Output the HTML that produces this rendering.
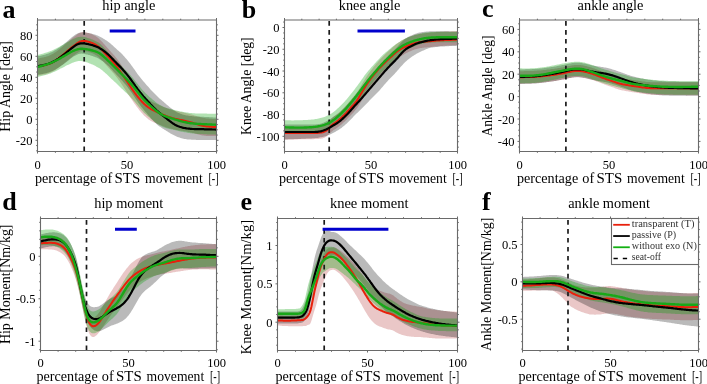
<!DOCTYPE html>
<html><head><meta charset="utf-8"><title>STS figure</title><style>html,body{margin:0;padding:0;background:#fff;width:707px;height:384px;overflow:hidden}</style></head><body>
<svg width="707" height="384" viewBox="0 0 707 384" style="display:block;font-family:'Liberation Serif',serif;will-change:transform" fill="#000">
<rect width="707" height="384" fill="#fff"/>
<clipPath id="clipa"><rect x="37.50" y="20.00" width="179.00" height="131.50"/></clipPath>
<g clip-path="url(#clipa)">
<path d="M37.5,58.6 38.5,58.4 39.5,58.2 40.5,58.0 41.5,57.8 42.5,57.6 43.5,57.4 44.5,57.1 45.5,56.9 46.5,56.6 47.5,56.2 48.5,55.9 49.5,55.5 50.5,55.0 51.5,54.5 52.5,54.0 53.5,53.4 54.5,52.8 55.5,52.2 56.5,51.5 57.5,50.7 58.5,50.0 59.5,49.2 60.5,48.3 61.5,47.5 62.5,46.7 63.5,45.8 64.5,44.9 65.5,44.1 66.5,43.2 67.5,42.3 68.5,41.4 69.5,40.6 70.5,39.7 71.5,38.9 72.5,38.1 73.5,37.2 74.5,36.4 75.5,35.7 76.5,34.9 77.5,34.1 78.5,33.5 79.5,32.9 80.5,32.5 81.5,32.2 82.5,32.0 83.5,32.0 84.5,32.0 85.5,32.2 86.5,32.4 87.5,32.7 88.5,32.9 89.5,33.3 90.5,33.6 91.5,34.0 92.5,34.5 93.5,34.9 94.5,35.5 95.5,36.1 96.5,36.8 97.5,37.5 98.5,38.3 99.5,39.2 100.5,40.2 101.5,41.2 102.5,42.3 103.5,43.4 104.5,44.6 105.5,45.7 106.5,46.8 107.5,48.0 108.5,49.1 109.5,50.2 110.5,51.3 111.5,52.4 112.5,53.5 113.5,54.7 114.5,55.8 115.5,57.0 116.5,58.3 117.5,59.6 118.5,60.9 119.5,62.3 120.5,63.7 121.5,65.2 122.5,66.7 123.5,68.2 124.5,69.7 125.5,71.2 126.5,72.8 127.5,74.3 128.5,75.8 129.5,77.3 130.5,78.8 131.5,80.3 132.5,81.7 133.5,83.1 134.5,84.5 135.5,85.8 136.5,87.2 137.5,88.5 138.5,89.7 139.5,90.9 140.5,92.1 141.5,93.2 142.5,94.2 143.5,95.2 144.5,96.2 145.5,97.1 146.5,97.9 147.5,98.7 148.5,99.5 149.5,100.1 150.5,100.8 151.5,101.4 152.5,101.9 153.5,102.4 154.5,102.9 155.5,103.3 156.5,103.8 157.5,104.3 158.5,104.7 159.5,105.2 160.5,105.6 161.5,106.1 162.5,106.5 163.5,106.9 164.5,107.3 165.5,107.7 166.5,108.1 167.5,108.5 168.5,108.8 169.5,109.2 170.5,109.5 171.5,109.8 172.5,110.1 173.5,110.4 174.5,110.6 175.5,110.9 176.5,111.1 177.5,111.3 178.5,111.5 179.5,111.7 180.5,111.9 181.5,112.1 182.5,112.3 183.5,112.5 184.5,112.7 185.5,112.9 186.5,113.2 187.5,113.4 188.5,113.7 189.5,113.9 190.5,114.2 191.5,114.5 192.5,114.8 193.5,115.1 194.5,115.4 195.5,115.7 196.5,116.1 197.5,116.4 198.5,116.7 199.5,117.0 200.5,117.3 201.5,117.5 202.5,117.8 203.5,118.0 204.5,118.1 205.5,118.3 206.5,118.4 207.5,118.5 208.5,118.6 209.5,118.7 210.5,118.8 211.5,118.8 212.5,118.9 213.5,118.9 214.5,119.0 215.5,119.0 216.5,119.0 L216.5,136.0 215.5,136.0 214.5,136.0 213.5,136.1 212.5,136.1 211.5,136.1 210.5,136.1 209.5,136.0 208.5,136.0 207.5,135.9 206.5,135.9 205.5,135.8 204.5,135.7 203.5,135.5 202.5,135.4 201.5,135.2 200.5,135.0 199.5,134.8 198.5,134.5 197.5,134.2 196.5,134.0 195.5,133.7 194.5,133.4 193.5,133.1 192.5,132.9 191.5,132.6 190.5,132.4 189.5,132.1 188.5,131.9 187.5,131.7 186.5,131.5 185.5,131.3 184.5,131.2 183.5,131.0 182.5,130.8 181.5,130.7 180.5,130.5 179.5,130.4 178.5,130.2 177.5,130.1 176.5,129.9 175.5,129.7 174.5,129.5 173.5,129.3 172.5,129.1 171.5,128.8 170.5,128.6 169.5,128.3 168.5,128.0 167.5,127.7 166.5,127.4 165.5,127.0 164.5,126.7 163.5,126.3 162.5,125.9 161.5,125.5 160.5,125.1 159.5,124.7 158.5,124.3 157.5,123.9 156.5,123.5 155.5,123.1 154.5,122.7 153.5,122.2 152.5,121.8 151.5,121.3 150.5,120.8 149.5,120.1 148.5,119.4 147.5,118.6 146.5,117.7 145.5,116.8 144.5,115.9 143.5,114.9 142.5,113.8 141.5,112.7 140.5,111.6 139.5,110.4 138.5,109.1 137.5,107.8 136.5,106.5 135.5,105.1 134.5,103.7 133.5,102.3 132.5,100.8 131.5,99.3 130.5,97.8 129.5,96.3 128.5,94.7 127.5,93.2 126.5,91.7 125.5,90.1 124.5,88.6 123.5,87.1 122.5,85.5 121.5,84.0 120.5,82.5 119.5,81.1 118.5,79.7 117.5,78.3 116.5,77.0 115.5,75.7 114.5,74.5 113.5,73.3 112.5,72.2 111.5,71.0 110.5,69.9 109.5,68.8 108.5,67.7 107.5,66.6 106.5,65.4 105.5,64.3 104.5,63.2 103.5,62.1 102.5,61.0 101.5,59.9 100.5,58.9 99.5,58.0 98.5,57.1 97.5,56.3 96.5,55.6 95.5,54.9 94.5,54.3 93.5,53.8 92.5,53.3 91.5,52.9 90.5,52.5 89.5,52.2 88.5,51.9 87.5,51.6 86.5,51.4 85.5,51.2 84.5,51.0 83.5,50.9 82.5,50.9 81.5,51.1 80.5,51.3 79.5,51.7 78.5,52.2 77.5,52.9 76.5,53.6 75.5,54.3 74.5,55.0 73.5,55.8 72.5,56.6 71.5,57.4 70.5,58.1 69.5,59.0 68.5,59.8 67.5,60.6 66.5,61.4 65.5,62.3 64.5,63.1 63.5,63.9 62.5,64.7 61.5,65.5 60.5,66.3 59.5,67.1 58.5,67.9 57.5,68.6 56.5,69.3 55.5,69.9 54.5,70.5 53.5,71.1 52.5,71.7 51.5,72.1 50.5,72.6 49.5,73.0 48.5,73.3 47.5,73.6 46.5,73.9 45.5,74.2 44.5,74.4 43.5,74.6 42.5,74.8 41.5,75.0 40.5,75.2 39.5,75.3 38.5,75.5 37.5,75.6 Z" fill="#a00000" fill-opacity="0.220" stroke="none"/>
<path d="M37.5,56.3 38.5,56.1 39.5,55.9 40.5,55.7 41.5,55.4 42.5,55.2 43.5,54.9 44.5,54.7 45.5,54.4 46.5,54.1 47.5,53.8 48.5,53.4 49.5,53.0 50.5,52.6 51.5,52.2 52.5,51.7 53.5,51.2 54.5,50.6 55.5,50.1 56.5,49.4 57.5,48.8 58.5,48.1 59.5,47.4 60.5,46.7 61.5,45.9 62.5,45.2 63.5,44.4 64.5,43.6 65.5,42.7 66.5,41.9 67.5,41.1 68.5,40.2 69.5,39.3 70.5,38.5 71.5,37.6 72.5,36.8 73.5,36.0 74.5,35.3 75.5,34.6 76.5,34.0 77.5,33.5 78.5,33.0 79.5,32.7 80.5,32.5 81.5,32.4 82.5,32.3 83.5,32.4 84.5,32.5 85.5,32.6 86.5,32.7 87.5,32.9 88.5,33.0 89.5,33.2 90.5,33.4 91.5,33.6 92.5,33.9 93.5,34.2 94.5,34.5 95.5,34.8 96.5,35.2 97.5,35.5 98.5,36.0 99.5,36.4 100.5,36.9 101.5,37.5 102.5,38.0 103.5,38.7 104.5,39.3 105.5,39.9 106.5,40.5 107.5,41.2 108.5,42.0 109.5,42.7 110.5,43.6 111.5,44.4 112.5,45.3 113.5,46.2 114.5,47.2 115.5,48.1 116.5,49.0 117.5,49.9 118.5,50.8 119.5,51.7 120.5,52.6 121.5,53.6 122.5,54.6 123.5,55.7 124.5,56.8 125.5,57.9 126.5,59.1 127.5,60.3 128.5,61.5 129.5,62.7 130.5,64.0 131.5,65.4 132.5,66.8 133.5,68.2 134.5,69.6 135.5,71.1 136.5,72.5 137.5,73.9 138.5,75.2 139.5,76.5 140.5,77.8 141.5,79.0 142.5,80.2 143.5,81.4 144.5,82.5 145.5,83.7 146.5,84.9 147.5,86.0 148.5,87.1 149.5,88.3 150.5,89.4 151.5,90.5 152.5,91.5 153.5,92.5 154.5,93.6 155.5,94.6 156.5,95.5 157.5,96.5 158.5,97.4 159.5,98.4 160.5,99.3 161.5,100.1 162.5,101.0 163.5,101.8 164.5,102.7 165.5,103.5 166.5,104.4 167.5,105.2 168.5,106.0 169.5,106.9 170.5,107.7 171.5,108.5 172.5,109.3 173.5,110.0 174.5,110.7 175.5,111.3 176.5,111.9 177.5,112.4 178.5,112.9 179.5,113.3 180.5,113.7 181.5,114.1 182.5,114.4 183.5,114.7 184.5,115.0 185.5,115.2 186.5,115.4 187.5,115.6 188.5,115.7 189.5,115.9 190.5,116.0 191.5,116.1 192.5,116.2 193.5,116.3 194.5,116.4 195.5,116.4 196.5,116.5 197.5,116.5 198.5,116.6 199.5,116.6 200.5,116.7 201.5,116.7 202.5,116.8 203.5,116.8 204.5,116.9 205.5,116.9 206.5,117.0 207.5,117.0 208.5,117.1 209.5,117.2 210.5,117.2 211.5,117.3 212.5,117.3 213.5,117.4 214.5,117.5 215.5,117.5 216.5,117.6 L216.5,140.1 215.5,140.1 214.5,140.1 213.5,140.0 212.5,140.0 211.5,140.0 210.5,140.0 209.5,140.0 208.5,140.0 207.5,139.9 206.5,139.9 205.5,139.9 204.5,139.9 203.5,139.9 202.5,139.9 201.5,139.9 200.5,139.9 199.5,139.9 198.5,139.9 197.5,139.9 196.5,139.9 195.5,139.8 194.5,139.8 193.5,139.8 192.5,139.8 191.5,139.7 190.5,139.6 189.5,139.6 188.5,139.5 187.5,139.4 186.5,139.2 185.5,139.1 184.5,138.9 183.5,138.7 182.5,138.5 181.5,138.2 180.5,138.0 179.5,137.6 178.5,137.3 177.5,136.9 176.5,136.4 175.5,135.9 174.5,135.5 173.5,135.0 172.5,134.5 171.5,134.0 170.5,133.4 169.5,132.8 168.5,132.2 167.5,131.6 166.5,130.9 165.5,130.3 164.5,129.7 163.5,129.1 162.5,128.5 161.5,127.8 160.5,127.1 159.5,126.5 158.5,125.7 157.5,125.0 156.5,124.1 155.5,123.1 154.5,122.1 153.5,121.0 152.5,120.0 151.5,118.9 150.5,117.7 149.5,116.6 148.5,115.4 147.5,114.3 146.5,113.1 145.5,111.9 144.5,110.7 143.5,109.5 142.5,108.2 141.5,107.0 140.5,105.7 139.5,104.3 138.5,102.9 137.5,101.5 136.5,100.1 135.5,98.6 134.5,97.1 133.5,95.6 132.5,94.1 131.5,92.6 130.5,91.2 129.5,89.8 128.5,88.4 127.5,87.1 126.5,85.8 125.5,84.6 124.5,83.4 123.5,82.2 122.5,81.1 121.5,80.0 120.5,78.9 119.5,77.8 118.5,76.8 117.5,75.7 116.5,74.7 115.5,73.6 114.5,72.5 113.5,71.4 112.5,70.3 111.5,69.2 110.5,68.2 109.5,67.1 108.5,66.1 107.5,65.2 106.5,64.3 105.5,63.4 104.5,62.6 103.5,61.8 102.5,61.1 101.5,60.4 100.5,59.8 99.5,59.2 98.5,58.6 97.5,58.1 96.5,57.6 95.5,57.2 94.5,56.8 93.5,56.4 92.5,56.0 91.5,55.7 90.5,55.4 89.5,55.1 88.5,54.9 87.5,54.6 86.5,54.4 85.5,54.2 84.5,54.0 83.5,53.8 82.5,53.7 81.5,53.6 80.5,53.7 79.5,53.8 78.5,54.1 77.5,54.4 76.5,54.9 75.5,55.4 74.5,56.0 73.5,56.6 72.5,57.3 71.5,58.1 70.5,58.8 69.5,59.6 68.5,60.4 67.5,61.2 66.5,61.9 65.5,62.7 64.5,63.4 63.5,64.2 62.5,64.9 61.5,65.6 60.5,66.2 59.5,66.9 58.5,67.5 57.5,68.2 56.5,68.8 55.5,69.4 54.5,69.9 53.5,70.4 52.5,70.9 51.5,71.3 50.5,71.7 49.5,72.1 48.5,72.4 47.5,72.7 46.5,73.0 45.5,73.2 44.5,73.5 43.5,73.7 42.5,73.9 41.5,74.1 40.5,74.3 39.5,74.5 38.5,74.6 37.5,74.8 Z" fill="#000000" fill-opacity="0.270" stroke="none"/>
<path d="M37.5,55.0 38.5,54.7 39.5,54.5 40.5,54.2 41.5,54.0 42.5,53.7 43.5,53.4 44.5,53.1 45.5,52.8 46.5,52.5 47.5,52.2 48.5,51.8 49.5,51.4 50.5,51.1 51.5,50.7 52.5,50.2 53.5,49.8 54.5,49.3 55.5,48.8 56.5,48.3 57.5,47.8 58.5,47.2 59.5,46.7 60.5,46.1 61.5,45.5 62.5,45.0 63.5,44.4 64.5,43.8 65.5,43.2 66.5,42.6 67.5,42.0 68.5,41.4 69.5,40.9 70.5,40.3 71.5,39.8 72.5,39.3 73.5,38.8 74.5,38.4 75.5,38.0 76.5,37.6 77.5,37.3 78.5,37.1 79.5,36.9 80.5,36.8 81.5,36.8 82.5,36.8 83.5,36.9 84.5,37.0 85.5,37.3 86.5,37.6 87.5,37.9 88.5,38.2 89.5,38.5 90.5,38.8 91.5,39.2 92.5,39.6 93.5,40.0 94.5,40.4 95.5,40.9 96.5,41.4 97.5,41.9 98.5,42.6 99.5,43.3 100.5,44.1 101.5,45.0 102.5,46.0 103.5,47.1 104.5,48.2 105.5,49.3 106.5,50.4 107.5,51.6 108.5,52.7 109.5,53.9 110.5,54.9 111.5,55.9 112.5,56.9 113.5,57.8 114.5,58.8 115.5,59.8 116.5,60.8 117.5,61.9 118.5,62.9 119.5,63.9 120.5,65.0 121.5,66.0 122.5,67.0 123.5,68.0 124.5,69.0 125.5,70.0 126.5,71.0 127.5,72.1 128.5,73.1 129.5,74.2 130.5,75.3 131.5,76.5 132.5,77.6 133.5,78.8 134.5,80.0 135.5,81.2 136.5,82.5 137.5,83.8 138.5,85.1 139.5,86.3 140.5,87.6 141.5,88.8 142.5,89.9 143.5,91.1 144.5,92.1 145.5,93.2 146.5,94.1 147.5,95.1 148.5,96.0 149.5,96.9 150.5,97.7 151.5,98.6 152.5,99.4 153.5,100.3 154.5,101.1 155.5,101.9 156.5,102.7 157.5,103.4 158.5,104.1 159.5,104.7 160.5,105.3 161.5,105.8 162.5,106.3 163.5,106.8 164.5,107.2 165.5,107.6 166.5,107.9 167.5,108.2 168.5,108.5 169.5,108.7 170.5,109.0 171.5,109.2 172.5,109.5 173.5,109.7 174.5,110.0 175.5,110.2 176.5,110.5 177.5,110.7 178.5,111.0 179.5,111.2 180.5,111.4 181.5,111.6 182.5,111.8 183.5,112.0 184.5,112.2 185.5,112.3 186.5,112.5 187.5,112.6 188.5,112.8 189.5,112.9 190.5,113.0 191.5,113.1 192.5,113.2 193.5,113.2 194.5,113.3 195.5,113.4 196.5,113.4 197.5,113.5 198.5,113.5 199.5,113.5 200.5,113.5 201.5,113.6 202.5,113.6 203.5,113.6 204.5,113.6 205.5,113.6 206.5,113.6 207.5,113.7 208.5,113.7 209.5,113.7 210.5,113.7 211.5,113.7 212.5,113.7 213.5,113.7 214.5,113.7 215.5,113.7 216.5,113.7 L216.5,134.7 215.5,134.7 214.5,134.6 213.5,134.6 212.5,134.6 211.5,134.5 210.5,134.5 209.5,134.4 208.5,134.4 207.5,134.4 206.5,134.3 205.5,134.3 204.5,134.2 203.5,134.2 202.5,134.1 201.5,134.1 200.5,134.0 199.5,134.0 198.5,133.9 197.5,133.9 196.5,133.8 195.5,133.7 194.5,133.6 193.5,133.5 192.5,133.4 191.5,133.3 190.5,133.2 189.5,133.0 188.5,132.9 187.5,132.7 186.5,132.5 185.5,132.3 184.5,132.2 183.5,132.0 182.5,131.8 181.5,131.7 180.5,131.5 179.5,131.3 178.5,131.0 177.5,130.8 176.5,130.6 175.5,130.3 174.5,130.1 173.5,129.9 172.5,129.6 171.5,129.4 170.5,129.2 169.5,128.9 168.5,128.7 167.5,128.5 166.5,128.2 165.5,127.9 164.5,127.6 163.5,127.2 162.5,126.8 161.5,126.3 160.5,125.8 159.5,125.2 158.5,124.6 157.5,123.9 156.5,123.2 155.5,122.5 154.5,121.7 153.5,120.9 152.5,120.1 151.5,119.2 150.5,118.4 149.5,117.6 148.5,116.7 147.5,115.9 146.5,115.0 145.5,114.1 144.5,113.2 143.5,112.2 142.5,111.1 141.5,110.0 140.5,108.8 139.5,107.7 138.5,106.4 137.5,105.2 136.5,104.0 135.5,102.8 134.5,101.6 133.5,100.5 132.5,99.3 131.5,98.2 130.5,97.2 129.5,96.1 128.5,95.1 127.5,94.1 126.5,93.1 125.5,92.2 124.5,91.2 123.5,90.3 122.5,89.3 121.5,88.4 120.5,87.4 119.5,86.5 118.5,85.5 117.5,84.5 116.5,83.6 115.5,82.6 114.5,81.7 113.5,80.8 112.5,79.8 111.5,78.9 110.5,77.9 109.5,77.0 108.5,76.0 107.5,75.1 106.5,74.1 105.5,73.2 104.5,72.3 103.5,71.4 102.5,70.5 101.5,69.7 100.5,69.0 99.5,68.3 98.5,67.8 97.5,67.3 96.5,66.7 95.5,66.1 94.5,65.6 93.5,65.1 92.5,64.6 91.5,64.2 90.5,63.8 89.5,63.4 88.5,63.0 87.5,62.6 86.5,62.2 85.5,61.9 84.5,61.6 83.5,61.3 82.5,61.2 81.5,61.1 80.5,61.0 79.5,61.0 78.5,61.1 77.5,61.3 76.5,61.5 75.5,61.8 74.5,62.1 73.5,62.4 72.5,62.8 71.5,63.3 70.5,63.7 69.5,64.2 68.5,64.7 67.5,65.1 66.5,65.6 65.5,66.1 64.5,66.7 63.5,67.2 62.5,67.7 61.5,68.2 60.5,68.6 59.5,69.2 58.5,69.7 57.5,70.2 56.5,70.7 55.5,71.2 54.5,71.7 53.5,72.1 52.5,72.6 51.5,73.0 50.5,73.4 49.5,73.7 48.5,74.1 47.5,74.4 46.5,74.7 45.5,75.0 44.5,75.3 43.5,75.5 42.5,75.8 41.5,76.0 40.5,76.3 39.5,76.5 38.5,76.8 37.5,77.0 Z" fill="#00a000" fill-opacity="0.300" stroke="none"/>
<line x1="84.20" y1="151.00" x2="84.20" y2="20.00" stroke="#1a1a1a" stroke-width="1.7" stroke-dasharray="4.6,4.35"/>
<path d="M37.5,66.6 38.5,66.4 39.5,66.3 40.5,66.1 41.5,65.9 42.5,65.7 43.5,65.5 44.5,65.3 45.5,65.0 46.5,64.7 47.5,64.4 48.5,64.1 49.5,63.7 50.5,63.3 51.5,62.8 52.5,62.3 53.5,61.8 54.5,61.2 55.5,60.5 56.5,59.9 57.5,59.1 58.5,58.4 59.5,57.6 60.5,56.8 61.5,56.0 62.5,55.2 63.5,54.4 64.5,53.5 65.5,52.7 66.5,51.8 67.5,50.9 68.5,50.1 69.5,49.3 70.5,48.4 71.5,47.6 72.5,46.8 73.5,46.0 74.5,45.2 75.5,44.5 76.5,43.7 77.5,43.0 78.5,42.3 79.5,41.8 80.5,41.4 81.5,41.1 82.5,41.0 83.5,40.9 84.5,41.0 85.5,41.1 86.5,41.3 87.5,41.5 88.5,41.8 89.5,42.0 90.5,42.4 91.5,42.7 92.5,43.1 93.5,43.6 94.5,44.1 95.5,44.7 96.5,45.3 97.5,46.0 98.5,46.8 99.5,47.6 100.5,48.6 101.5,49.6 102.5,50.6 103.5,51.7 104.5,52.8 105.5,53.9 106.5,55.0 107.5,56.0 108.5,57.1 109.5,58.2 110.5,59.3 111.5,60.4 112.5,61.5 113.5,62.7 114.5,63.8 115.5,65.0 116.5,66.3 117.5,67.6 118.5,68.9 119.5,70.3 120.5,71.7 121.5,73.2 122.5,74.7 123.5,76.2 124.5,77.7 125.5,79.2 126.5,80.8 127.5,82.3 128.5,83.8 129.5,85.3 130.5,86.8 131.5,88.3 132.5,89.7 133.5,91.1 134.5,92.5 135.5,93.8 136.5,95.2 137.5,96.5 138.5,97.7 139.5,98.9 140.5,100.1 141.5,101.2 142.5,102.2 143.5,103.2 144.5,104.2 145.5,105.1 146.5,105.9 147.5,106.7 148.5,107.5 149.5,108.1 150.5,108.8 151.5,109.4 152.5,109.9 153.5,110.4 154.5,110.9 155.5,111.3 156.5,111.8 157.5,112.3 158.5,112.7 159.5,113.2 160.5,113.6 161.5,114.1 162.5,114.5 163.5,114.9 164.5,115.3 165.5,115.7 166.5,116.1 167.5,116.5 168.5,116.8 169.5,117.2 170.5,117.5 171.5,117.8 172.5,118.1 173.5,118.4 174.5,118.6 175.5,118.9 176.5,119.1 177.5,119.3 178.5,119.5 179.5,119.7 180.5,119.9 181.5,120.1 182.5,120.3 183.5,120.5 184.5,120.7 185.5,120.9 186.5,121.2 187.5,121.4 188.5,121.7 189.5,121.9 190.5,122.2 191.5,122.5 192.5,122.8 193.5,123.1 194.5,123.4 195.5,123.7 196.5,124.1 197.5,124.4 198.5,124.7 199.5,125.0 200.5,125.3 201.5,125.5 202.5,125.8 203.5,126.0 204.5,126.1 205.5,126.3 206.5,126.4 207.5,126.5 208.5,126.6 209.5,126.7 210.5,126.8 211.5,126.8 212.5,126.9 213.5,126.9 214.5,127.0 215.5,127.0 216.5,127.0" fill="none" stroke="#e8200c" stroke-width="2.00" stroke-linejoin="round"/>
<path d="M37.5,66.3 38.5,66.1 39.5,65.9 40.5,65.7 41.5,65.5 42.5,65.3 43.5,65.1 44.5,64.8 45.5,64.6 46.5,64.3 47.5,64.0 48.5,63.7 49.5,63.3 50.5,62.9 51.5,62.5 52.5,62.0 53.5,61.5 54.5,61.0 55.5,60.5 56.5,59.9 57.5,59.2 58.5,58.6 59.5,57.9 60.5,57.2 61.5,56.5 62.5,55.7 63.5,54.9 64.5,54.2 65.5,53.3 66.5,52.5 67.5,51.7 68.5,50.9 69.5,50.0 70.5,49.2 71.5,48.4 72.5,47.6 73.5,46.8 74.5,46.1 75.5,45.4 76.5,44.8 77.5,44.3 78.5,43.9 79.5,43.6 80.5,43.4 81.5,43.3 82.5,43.3 83.5,43.4 84.5,43.5 85.5,43.7 86.5,43.8 87.5,44.0 88.5,44.2 89.5,44.5 90.5,44.7 91.5,45.0 92.5,45.2 93.5,45.6 94.5,45.9 95.5,46.3 96.5,46.7 97.5,47.1 98.5,47.6 99.5,48.1 100.5,48.7 101.5,49.3 102.5,49.9 103.5,50.6 104.5,51.4 105.5,52.2 106.5,53.0 107.5,53.9 108.5,54.8 109.5,55.8 110.5,56.8 111.5,57.8 112.5,58.9 113.5,59.9 114.5,61.0 115.5,62.0 116.5,63.1 117.5,64.1 118.5,65.1 119.5,66.1 120.5,67.1 121.5,68.2 122.5,69.3 123.5,70.4 124.5,71.5 125.5,72.7 126.5,73.9 127.5,75.1 128.5,76.4 129.5,77.7 130.5,79.0 131.5,80.4 132.5,81.8 133.5,83.2 134.5,84.6 135.5,86.1 136.5,87.5 137.5,88.9 138.5,90.2 139.5,91.5 140.5,92.8 141.5,94.0 142.5,95.2 143.5,96.4 144.5,97.5 145.5,98.7 146.5,99.8 147.5,100.9 148.5,102.0 149.5,103.1 150.5,104.2 151.5,105.2 152.5,106.3 153.5,107.3 154.5,108.2 155.5,109.2 156.5,110.2 157.5,111.1 158.5,112.0 159.5,112.9 160.5,113.7 161.5,114.6 162.5,115.4 163.5,116.2 164.5,117.0 165.5,117.7 166.5,118.5 167.5,119.3 168.5,120.1 169.5,120.9 170.5,121.6 171.5,122.4 172.5,123.1 173.5,123.8 174.5,124.4 175.5,124.9 176.5,125.4 177.5,125.9 178.5,126.3 179.5,126.7 180.5,127.0 181.5,127.3 182.5,127.6 183.5,127.8 184.5,128.0 185.5,128.2 186.5,128.4 187.5,128.5 188.5,128.6 189.5,128.7 190.5,128.8 191.5,128.9 192.5,129.0 193.5,129.0 194.5,129.1 195.5,129.1 196.5,129.1 197.5,129.1 198.5,129.2 199.5,129.2 200.5,129.2 201.5,129.2 202.5,129.2 203.5,129.2 204.5,129.3 205.5,129.3 206.5,129.3 207.5,129.3 208.5,129.4 209.5,129.4 210.5,129.4 211.5,129.4 212.5,129.5 213.5,129.5 214.5,129.5 215.5,129.6 216.5,129.6" fill="none" stroke="#000000" stroke-width="2.20" stroke-linejoin="round"/>
<path d="M37.5,67.0 38.5,66.7 39.5,66.5 40.5,66.2 41.5,66.0 42.5,65.7 43.5,65.4 44.5,65.1 45.5,64.8 46.5,64.5 47.5,64.2 48.5,63.8 49.5,63.4 50.5,63.1 51.5,62.7 52.5,62.2 53.5,61.8 54.5,61.3 55.5,60.8 56.5,60.3 57.5,59.8 58.5,59.2 59.5,58.7 60.5,58.1 61.5,57.5 62.5,57.0 63.5,56.4 64.5,55.8 65.5,55.2 66.5,54.6 67.5,54.0 68.5,53.4 69.5,52.9 70.5,52.3 71.5,51.8 72.5,51.3 73.5,50.8 74.5,50.4 75.5,50.0 76.5,49.6 77.5,49.3 78.5,49.1 79.5,48.9 80.5,48.8 81.5,48.8 82.5,48.8 83.5,48.9 84.5,49.0 85.5,49.1 86.5,49.2 87.5,49.4 88.5,49.6 89.5,49.8 90.5,50.0 91.5,50.3 92.5,50.5 93.5,50.8 94.5,51.1 95.5,51.4 96.5,51.8 97.5,52.3 98.5,52.8 99.5,53.3 100.5,54.0 101.5,54.7 102.5,55.5 103.5,56.4 104.5,57.3 105.5,58.2 106.5,59.1 107.5,60.1 108.5,61.0 109.5,62.0 110.5,62.9 111.5,63.9 112.5,64.9 113.5,65.8 114.5,66.8 115.5,67.8 116.5,68.8 117.5,69.9 118.5,70.9 119.5,71.9 120.5,73.0 121.5,74.0 122.5,75.0 123.5,76.0 124.5,77.0 125.5,78.0 126.5,79.0 127.5,80.1 128.5,81.1 129.5,82.2 130.5,83.3 131.5,84.5 132.5,85.6 133.5,86.8 134.5,88.0 135.5,89.2 136.5,90.5 137.5,91.8 138.5,93.1 139.5,94.3 140.5,95.6 141.5,96.8 142.5,97.9 143.5,99.1 144.5,100.1 145.5,101.2 146.5,102.1 147.5,103.1 148.5,104.0 149.5,104.9 150.5,105.8 151.5,106.7 152.5,107.6 153.5,108.5 154.5,109.3 155.5,110.2 156.5,111.0 157.5,111.8 158.5,112.5 159.5,113.2 160.5,113.8 161.5,114.4 162.5,115.0 163.5,115.5 164.5,115.9 165.5,116.4 166.5,116.7 167.5,117.1 168.5,117.4 169.5,117.7 170.5,118.0 171.5,118.3 172.5,118.6 173.5,118.9 174.5,119.3 175.5,119.6 176.5,119.9 177.5,120.2 178.5,120.5 179.5,120.8 180.5,121.1 181.5,121.4 182.5,121.6 183.5,121.9 184.5,122.1 185.5,122.3 186.5,122.5 187.5,122.7 188.5,122.9 189.5,123.0 190.5,123.2 191.5,123.3 192.5,123.4 193.5,123.5 194.5,123.6 195.5,123.7 196.5,123.8 197.5,123.9 198.5,123.9 199.5,124.0 200.5,124.0 201.5,124.1 202.5,124.1 203.5,124.2 204.5,124.2 205.5,124.3 206.5,124.3 207.5,124.4 208.5,124.4 209.5,124.4 210.5,124.5 211.5,124.5 212.5,124.6 213.5,124.6 214.5,124.6 215.5,124.7 216.5,124.7" fill="none" stroke="#18a818" stroke-width="2.40" stroke-linejoin="round"/>
<line x1="109.70" y1="30.90" x2="135.50" y2="30.90" stroke="#0000cc" stroke-width="3"/>
</g>
<path d="M37.50,20.00 H216.50 V151.50 H37.50 Z" fill="none" stroke="#6a6a6a" stroke-width="1.1"/>
<path d="M37.50,151.50 v2.0 M37.50,20.00 v-2.0 M55.40,151.50 v1.3 M55.40,20.00 v-1.3 M73.30,151.50 v1.3 M73.30,20.00 v-1.3 M91.20,151.50 v1.3 M91.20,20.00 v-1.3 M109.10,151.50 v1.3 M109.10,20.00 v-1.3 M127.00,151.50 v2.0 M127.00,20.00 v-2.0 M144.90,151.50 v1.3 M144.90,20.00 v-1.3 M162.80,151.50 v1.3 M162.80,20.00 v-1.3 M180.70,151.50 v1.3 M180.70,20.00 v-1.3 M198.60,151.50 v1.3 M198.60,20.00 v-1.3 M216.50,151.50 v2.0 M216.50,20.00 v-2.0 M37.50,150.80 h-1.3 M216.50,150.80 h1.3 M37.50,145.55 h-1.3 M216.50,145.55 h1.3 M37.50,140.30 h-2.0 M216.50,140.30 h2.0 M37.50,135.05 h-1.3 M216.50,135.05 h1.3 M37.50,129.80 h-1.3 M216.50,129.80 h1.3 M37.50,124.55 h-1.3 M216.50,124.55 h1.3 M37.50,119.30 h-2.0 M216.50,119.30 h2.0 M37.50,114.05 h-1.3 M216.50,114.05 h1.3 M37.50,108.80 h-1.3 M216.50,108.80 h1.3 M37.50,103.55 h-1.3 M216.50,103.55 h1.3 M37.50,98.30 h-2.0 M216.50,98.30 h2.0 M37.50,93.05 h-1.3 M216.50,93.05 h1.3 M37.50,87.80 h-1.3 M216.50,87.80 h1.3 M37.50,82.55 h-1.3 M216.50,82.55 h1.3 M37.50,77.30 h-2.0 M216.50,77.30 h2.0 M37.50,72.05 h-1.3 M216.50,72.05 h1.3 M37.50,66.80 h-1.3 M216.50,66.80 h1.3 M37.50,61.55 h-1.3 M216.50,61.55 h1.3 M37.50,56.30 h-2.0 M216.50,56.30 h2.0 M37.50,51.05 h-1.3 M216.50,51.05 h1.3 M37.50,45.80 h-1.3 M216.50,45.80 h1.3 M37.50,40.55 h-1.3 M216.50,40.55 h1.3 M37.50,35.30 h-2.0 M216.50,35.30 h2.0 M37.50,30.05 h-1.3 M216.50,30.05 h1.3 M37.50,24.80 h-1.3 M216.50,24.80 h1.3" stroke="#6a6a6a" stroke-width="1" fill="none"/>
<text x="37.50" y="168.50" text-anchor="middle" font-size="12.5">0</text>
<text x="127.00" y="168.50" text-anchor="middle" font-size="12.5">50</text>
<text x="216.50" y="168.50" text-anchor="middle" font-size="12.5">100</text>
<text x="32.50" y="144.90" text-anchor="end" font-size="12.5">-20</text>
<text x="32.50" y="123.90" text-anchor="end" font-size="12.5">0</text>
<text x="32.50" y="102.90" text-anchor="end" font-size="12.5">20</text>
<text x="32.50" y="81.90" text-anchor="end" font-size="12.5">40</text>
<text x="32.50" y="60.90" text-anchor="end" font-size="12.5">60</text>
<text x="32.50" y="39.90" text-anchor="end" font-size="12.5">80</text>
<text x="35.00" y="183.20" font-size="14" textLength="61.20" lengthAdjust="spacingAndGlyphs">percentage</text>
<text x="100.30" y="183.20" font-size="14" textLength="11.90" lengthAdjust="spacingAndGlyphs">of</text>
<text x="114.50" y="183.20" font-size="14" textLength="25.70" lengthAdjust="spacingAndGlyphs">STS</text>
<text x="145.10" y="183.20" font-size="14" textLength="57.60" lengthAdjust="spacingAndGlyphs">movement</text>
<text x="208.40" y="183.20" font-size="14" textLength="10.30" lengthAdjust="spacingAndGlyphs">[-]</text>
<text x="102.20" y="9.60" font-size="14" textLength="53.20" lengthAdjust="spacingAndGlyphs">hip angle</text>
<text x="2.50" y="17.60" font-size="26" font-weight="bold">a</text>
<text transform="translate(10.40,131.70) rotate(-90)" x="0" y="0" font-size="14" textLength="90.50" lengthAdjust="spacingAndGlyphs">Hip Angle [deg]</text>
<clipPath id="clipb"><rect x="284.50" y="20.00" width="173.00" height="131.50"/></clipPath>
<g clip-path="url(#clipb)">
<path d="M284.5,127.0 285.5,127.0 286.5,127.0 287.5,126.9 288.5,126.9 289.5,126.9 290.5,126.9 291.5,126.8 292.5,126.8 293.5,126.8 294.5,126.8 295.5,126.8 296.5,126.7 297.5,126.7 298.5,126.7 299.5,126.7 300.5,126.6 301.5,126.6 302.5,126.6 303.5,126.6 304.5,126.6 305.5,126.5 306.5,126.5 307.5,126.5 308.5,126.5 309.5,126.5 310.5,126.4 311.5,126.4 312.5,126.4 313.5,126.4 314.5,126.3 315.5,126.3 316.5,126.2 317.5,126.1 318.5,126.1 319.5,126.0 320.5,125.8 321.5,125.7 322.5,125.5 323.5,125.2 324.5,124.8 325.5,124.2 326.5,123.5 327.5,122.6 328.5,121.6 329.5,120.6 330.5,119.5 331.5,118.5 332.5,117.6 333.5,116.8 334.5,116.0 335.5,115.3 336.5,114.6 337.5,113.8 338.5,113.0 339.5,112.1 340.5,111.2 341.5,110.3 342.5,109.3 343.5,108.3 344.5,107.2 345.5,106.1 346.5,105.0 347.5,103.9 348.5,102.8 349.5,101.6 350.5,100.5 351.5,99.3 352.5,98.2 353.5,97.0 354.5,95.9 355.5,94.6 356.5,93.2 357.5,91.7 358.5,90.0 359.5,88.4 360.5,86.6 361.5,84.9 362.5,83.2 363.5,81.6 364.5,79.9 365.5,78.3 366.5,76.8 367.5,75.3 368.5,73.8 369.5,72.4 370.5,71.0 371.5,69.7 372.5,68.4 373.5,67.1 374.5,65.9 375.5,64.7 376.5,63.5 377.5,62.4 378.5,61.2 379.5,60.1 380.5,59.1 381.5,58.0 382.5,57.0 383.5,56.0 384.5,55.0 385.5,54.0 386.5,53.1 387.5,52.1 388.5,51.2 389.5,50.2 390.5,49.3 391.5,48.4 392.5,47.5 393.5,46.6 394.5,45.7 395.5,44.8 396.5,44.0 397.5,43.3 398.5,42.5 399.5,41.9 400.5,41.2 401.5,40.6 402.5,40.1 403.5,39.6 404.5,39.1 405.5,38.6 406.5,38.2 407.5,37.8 408.5,37.3 409.5,36.9 410.5,36.5 411.5,36.1 412.5,35.8 413.5,35.4 414.5,35.1 415.5,34.8 416.5,34.6 417.5,34.4 418.5,34.2 419.5,34.0 420.5,33.8 421.5,33.7 422.5,33.5 423.5,33.4 424.5,33.3 425.5,33.2 426.5,33.1 427.5,33.0 428.5,32.9 429.5,32.8 430.5,32.7 431.5,32.6 432.5,32.5 433.5,32.4 434.5,32.3 435.5,32.2 436.5,32.1 437.5,32.0 438.5,32.0 439.5,31.9 440.5,31.8 441.5,31.8 442.5,31.7 443.5,31.7 444.5,31.6 445.5,31.6 446.5,31.5 447.5,31.5 448.5,31.4 449.5,31.4 450.5,31.4 451.5,31.3 452.5,31.3 453.5,31.2 454.5,31.2 455.5,31.2 456.5,31.1 457.5,31.1 L457.5,45.1 456.5,45.1 455.5,45.2 454.5,45.2 453.5,45.3 452.5,45.3 451.5,45.4 450.5,45.4 449.5,45.5 448.5,45.6 447.5,45.6 446.5,45.7 445.5,45.7 444.5,45.8 443.5,45.8 442.5,45.9 441.5,46.0 440.5,46.1 439.5,46.1 438.5,46.2 437.5,46.3 436.5,46.4 435.5,46.5 434.5,46.6 433.5,46.7 432.5,46.8 431.5,46.9 430.5,47.0 429.5,47.1 428.5,47.2 427.5,47.3 426.5,47.4 425.5,47.5 424.5,47.6 423.5,47.7 422.5,47.8 421.5,47.9 420.5,48.1 419.5,48.2 418.5,48.5 417.5,48.7 416.5,49.0 415.5,49.3 414.5,49.6 413.5,49.9 412.5,50.3 411.5,50.7 410.5,51.2 409.5,51.6 408.5,52.1 407.5,52.6 406.5,53.1 405.5,53.6 404.5,54.1 403.5,54.7 402.5,55.3 401.5,55.9 400.5,56.5 399.5,57.2 398.5,58.0 397.5,58.8 396.5,59.6 395.5,60.5 394.5,61.4 393.5,62.3 392.5,63.3 391.5,64.3 390.5,65.3 389.5,66.2 388.5,67.2 387.5,68.1 386.5,69.1 385.5,70.0 384.5,71.0 383.5,72.0 382.5,73.0 381.5,74.0 380.5,75.1 379.5,76.1 378.5,77.2 377.5,78.4 376.5,79.5 375.5,80.7 374.5,81.9 373.5,83.1 372.5,84.4 371.5,85.7 370.5,87.0 369.5,88.4 368.5,89.8 367.5,91.3 366.5,92.8 365.5,94.3 364.5,95.9 363.5,97.6 362.5,99.2 361.5,100.9 360.5,102.6 359.5,104.3 358.5,105.9 357.5,107.4 356.5,108.8 355.5,110.1 354.5,111.3 353.5,112.4 352.5,113.4 351.5,114.5 350.5,115.5 349.5,116.6 348.5,117.6 347.5,118.6 346.5,119.7 345.5,120.7 344.5,121.7 343.5,122.6 342.5,123.5 341.5,124.4 340.5,125.3 339.5,126.1 338.5,126.8 337.5,127.5 336.5,128.2 335.5,128.9 334.5,129.5 333.5,130.1 332.5,130.9 331.5,131.7 330.5,132.6 329.5,133.6 328.5,134.6 327.5,135.6 326.5,136.4 325.5,137.1 324.5,137.7 323.5,138.1 322.5,138.4 321.5,138.6 320.5,138.7 319.5,138.8 318.5,138.9 317.5,139.0 316.5,139.1 315.5,139.1 314.5,139.1 313.5,139.2 312.5,139.2 311.5,139.2 310.5,139.2 309.5,139.2 308.5,139.2 307.5,139.3 306.5,139.3 305.5,139.3 304.5,139.3 303.5,139.3 302.5,139.3 301.5,139.3 300.5,139.3 299.5,139.3 298.5,139.3 297.5,139.4 296.5,139.4 295.5,139.4 294.5,139.4 293.5,139.4 292.5,139.4 291.5,139.4 290.5,139.4 289.5,139.4 288.5,139.5 287.5,139.5 286.5,139.5 285.5,139.5 284.5,139.5 Z" fill="#a00000" fill-opacity="0.220" stroke="none"/>
<path d="M284.5,124.5 285.5,124.5 286.5,124.5 287.5,124.5 288.5,124.5 289.5,124.5 290.5,124.5 291.5,124.5 292.5,124.5 293.5,124.5 294.5,124.5 295.5,124.5 296.5,124.5 297.5,124.5 298.5,124.5 299.5,124.5 300.5,124.5 301.5,124.5 302.5,124.5 303.5,124.5 304.5,124.5 305.5,124.5 306.5,124.5 307.5,124.5 308.5,124.5 309.5,124.5 310.5,124.5 311.5,124.5 312.5,124.5 313.5,124.5 314.5,124.5 315.5,124.4 316.5,124.3 317.5,124.3 318.5,124.1 319.5,124.0 320.5,123.8 321.5,123.4 322.5,123.1 323.5,122.7 324.5,122.3 325.5,121.8 326.5,121.3 327.5,120.7 328.5,120.1 329.5,119.5 330.5,118.9 331.5,118.2 332.5,117.5 333.5,116.8 334.5,116.1 335.5,115.4 336.5,114.7 337.5,114.0 338.5,113.2 339.5,112.4 340.5,111.5 341.5,110.6 342.5,109.6 343.5,108.6 344.5,107.5 345.5,106.5 346.5,105.4 347.5,104.2 348.5,103.1 349.5,101.9 350.5,100.7 351.5,99.4 352.5,98.2 353.5,96.9 354.5,95.7 355.5,94.5 356.5,93.3 357.5,92.1 358.5,90.9 359.5,89.7 360.5,88.5 361.5,87.3 362.5,86.1 363.5,84.9 364.5,83.7 365.5,82.5 366.5,81.3 367.5,80.1 368.5,78.8 369.5,77.6 370.5,76.4 371.5,75.2 372.5,74.0 373.5,72.8 374.5,71.5 375.5,70.3 376.5,69.1 377.5,67.9 378.5,66.7 379.5,65.5 380.5,64.3 381.5,63.2 382.5,62.0 383.5,60.9 384.5,59.8 385.5,58.7 386.5,57.7 387.5,56.6 388.5,55.6 389.5,54.6 390.5,53.6 391.5,52.6 392.5,51.6 393.5,50.7 394.5,49.7 395.5,48.7 396.5,47.7 397.5,46.7 398.5,45.6 399.5,44.5 400.5,43.3 401.5,42.2 402.5,41.2 403.5,40.2 404.5,39.3 405.5,38.6 406.5,37.9 407.5,37.3 408.5,36.8 409.5,36.3 410.5,35.8 411.5,35.4 412.5,34.9 413.5,34.5 414.5,34.1 415.5,33.7 416.5,33.4 417.5,33.1 418.5,32.8 419.5,32.6 420.5,32.4 421.5,32.2 422.5,32.0 423.5,31.9 424.5,31.8 425.5,31.7 426.5,31.5 427.5,31.4 428.5,31.4 429.5,31.3 430.5,31.3 431.5,31.2 432.5,31.2 433.5,31.2 434.5,31.2 435.5,31.2 436.5,31.2 437.5,31.2 438.5,31.2 439.5,31.3 440.5,31.3 441.5,31.3 442.5,31.3 443.5,31.3 444.5,31.3 445.5,31.3 446.5,31.3 447.5,31.3 448.5,31.3 449.5,31.4 450.5,31.4 451.5,31.4 452.5,31.4 453.5,31.5 454.5,31.5 455.5,31.5 456.5,31.6 457.5,31.6 L457.5,45.8 456.5,45.8 455.5,45.9 454.5,45.9 453.5,45.9 452.5,46.0 451.5,46.0 450.5,46.1 449.5,46.1 448.5,46.2 447.5,46.2 446.5,46.3 445.5,46.3 444.5,46.4 443.5,46.4 442.5,46.5 441.5,46.6 440.5,46.6 439.5,46.7 438.5,46.8 437.5,46.9 436.5,47.0 435.5,47.1 434.5,47.2 433.5,47.3 432.5,47.4 431.5,47.5 430.5,47.7 429.5,48.0 428.5,48.3 427.5,48.7 426.5,49.1 425.5,49.5 424.5,49.9 423.5,50.4 422.5,50.8 421.5,51.3 420.5,51.7 419.5,52.2 418.5,52.7 417.5,53.2 416.5,53.8 415.5,54.4 414.5,55.0 413.5,55.7 412.5,56.3 411.5,57.0 410.5,57.7 409.5,58.5 408.5,59.2 407.5,60.0 406.5,60.9 405.5,61.8 404.5,62.8 403.5,63.8 402.5,64.9 401.5,66.0 400.5,67.1 399.5,68.3 398.5,69.5 397.5,70.6 396.5,71.7 395.5,72.8 394.5,73.9 393.5,74.9 392.5,75.9 391.5,76.9 390.5,78.0 389.5,79.0 388.5,80.1 387.5,81.2 386.5,82.3 385.5,83.4 384.5,84.6 383.5,85.7 382.5,86.9 381.5,88.1 380.5,89.3 379.5,90.4 378.5,91.4 377.5,92.4 376.5,93.5 375.5,94.5 374.5,95.5 373.5,96.5 372.5,97.5 371.5,98.6 370.5,99.6 369.5,100.6 368.5,101.7 367.5,102.7 366.5,103.7 365.5,104.7 364.5,105.8 363.5,106.8 362.5,107.8 361.5,108.8 360.5,109.8 359.5,110.8 358.5,111.7 357.5,112.7 356.5,113.6 355.5,114.6 354.5,115.6 353.5,116.6 352.5,117.7 351.5,118.7 350.5,119.8 349.5,120.8 348.5,121.8 347.5,122.7 346.5,123.7 345.5,124.6 344.5,125.4 343.5,126.3 342.5,127.1 341.5,127.9 340.5,128.6 339.5,129.3 338.5,130.0 337.5,130.6 336.5,131.1 335.5,131.7 334.5,132.2 333.5,132.7 332.5,133.2 331.5,133.7 330.5,134.2 329.5,134.7 328.5,135.1 327.5,135.5 326.5,135.9 325.5,136.3 324.5,136.6 323.5,136.8 322.5,137.0 321.5,137.2 320.5,137.3 319.5,137.5 318.5,137.7 317.5,137.9 316.5,138.0 315.5,138.1 314.5,138.2 313.5,138.3 312.5,138.3 311.5,138.4 310.5,138.4 309.5,138.5 308.5,138.5 307.5,138.6 306.5,138.6 305.5,138.7 304.5,138.7 303.5,138.7 302.5,138.8 301.5,138.8 300.5,138.9 299.5,138.9 298.5,139.0 297.5,139.0 296.5,139.0 295.5,139.1 294.5,139.1 293.5,139.2 292.5,139.2 291.5,139.2 290.5,139.3 289.5,139.3 288.5,139.3 287.5,139.4 286.5,139.4 285.5,139.5 284.5,139.5 Z" fill="#000000" fill-opacity="0.270" stroke="none"/>
<path d="M284.5,120.3 285.5,120.3 286.5,120.3 287.5,120.3 288.5,120.3 289.5,120.3 290.5,120.3 291.5,120.4 292.5,120.4 293.5,120.4 294.5,120.3 295.5,120.3 296.5,120.3 297.5,120.3 298.5,120.3 299.5,120.3 300.5,120.2 301.5,120.2 302.5,120.2 303.5,120.1 304.5,120.1 305.5,120.0 306.5,120.0 307.5,119.9 308.5,119.8 309.5,119.8 310.5,119.7 311.5,119.6 312.5,119.5 313.5,119.4 314.5,119.2 315.5,119.1 316.5,118.9 317.5,118.7 318.5,118.6 319.5,118.3 320.5,118.1 321.5,117.8 322.5,117.5 323.5,117.2 324.5,116.9 325.5,116.5 326.5,116.1 327.5,115.6 328.5,115.1 329.5,114.6 330.5,114.0 331.5,113.4 332.5,112.7 333.5,112.0 334.5,111.2 335.5,110.4 336.5,109.5 337.5,108.6 338.5,107.7 339.5,106.7 340.5,105.8 341.5,104.8 342.5,103.8 343.5,102.7 344.5,101.7 345.5,100.5 346.5,99.4 347.5,98.2 348.5,97.0 349.5,95.7 350.5,94.5 351.5,93.2 352.5,92.0 353.5,90.7 354.5,89.4 355.5,88.1 356.5,86.8 357.5,85.4 358.5,84.1 359.5,82.7 360.5,81.3 361.5,79.8 362.5,78.4 363.5,77.0 364.5,75.6 365.5,74.3 366.5,73.0 367.5,71.8 368.5,70.6 369.5,69.4 370.5,68.2 371.5,67.1 372.5,66.0 373.5,64.9 374.5,63.8 375.5,62.7 376.5,61.6 377.5,60.5 378.5,59.4 379.5,58.4 380.5,57.3 381.5,56.3 382.5,55.3 383.5,54.3 384.5,53.4 385.5,52.5 386.5,51.7 387.5,50.9 388.5,50.1 389.5,49.2 390.5,48.4 391.5,47.6 392.5,46.8 393.5,46.1 394.5,45.3 395.5,44.6 396.5,43.8 397.5,43.2 398.5,42.5 399.5,41.9 400.5,41.2 401.5,40.6 402.5,40.0 403.5,39.4 404.5,38.9 405.5,38.4 406.5,37.9 407.5,37.5 408.5,37.1 409.5,36.7 410.5,36.4 411.5,36.0 412.5,35.7 413.5,35.4 414.5,35.1 415.5,34.8 416.5,34.5 417.5,34.3 418.5,34.0 419.5,33.8 420.5,33.6 421.5,33.4 422.5,33.1 423.5,33.0 424.5,32.8 425.5,32.6 426.5,32.5 427.5,32.4 428.5,32.3 429.5,32.2 430.5,32.1 431.5,32.0 432.5,32.0 433.5,31.9 434.5,31.9 435.5,31.9 436.5,31.8 437.5,31.8 438.5,31.8 439.5,31.8 440.5,31.8 441.5,31.8 442.5,31.8 443.5,31.8 444.5,31.8 445.5,31.8 446.5,31.8 447.5,31.7 448.5,31.7 449.5,31.7 450.5,31.7 451.5,31.7 452.5,31.7 453.5,31.7 454.5,31.7 455.5,31.7 456.5,31.7 457.5,31.7 L457.5,42.2 456.5,42.2 455.5,42.2 454.5,42.2 453.5,42.2 452.5,42.2 451.5,42.2 450.5,42.2 449.5,42.2 448.5,42.2 447.5,42.2 446.5,42.3 445.5,42.3 444.5,42.3 443.5,42.3 442.5,42.3 441.5,42.3 440.5,42.3 439.5,42.3 438.5,42.3 437.5,42.3 436.5,42.3 435.5,42.4 434.5,42.4 433.5,42.4 432.5,42.5 431.5,42.5 430.5,42.6 429.5,42.7 428.5,42.8 427.5,42.9 426.5,43.0 425.5,43.1 424.5,43.3 423.5,43.5 422.5,43.6 421.5,43.9 420.5,44.1 419.5,44.4 418.5,44.7 417.5,45.1 416.5,45.5 415.5,45.8 414.5,46.3 413.5,46.7 412.5,47.1 411.5,47.6 410.5,48.0 409.5,48.5 408.5,49.0 407.5,49.5 406.5,50.1 405.5,50.7 404.5,51.3 403.5,52.0 402.5,52.7 401.5,53.4 400.5,54.2 399.5,55.0 398.5,55.9 397.5,56.7 396.5,57.7 395.5,58.6 394.5,59.6 393.5,60.6 392.5,61.6 391.5,62.6 390.5,63.7 389.5,64.6 388.5,65.6 387.5,66.5 386.5,67.5 385.5,68.5 384.5,69.4 383.5,70.5 382.5,71.5 381.5,72.6 380.5,73.7 379.5,74.8 378.5,75.9 377.5,77.1 376.5,78.2 375.5,79.4 374.5,80.6 373.5,81.8 372.5,82.9 371.5,84.1 370.5,85.3 369.5,86.6 368.5,87.8 367.5,89.1 366.5,90.4 365.5,91.7 364.5,93.1 363.5,94.4 362.5,95.8 361.5,97.2 360.5,98.5 359.5,99.9 358.5,101.1 357.5,102.4 356.5,103.6 355.5,104.8 354.5,106.0 353.5,107.2 352.5,108.4 351.5,109.5 350.5,110.6 349.5,111.7 348.5,112.9 347.5,114.0 346.5,115.1 345.5,116.1 344.5,117.1 343.5,118.1 342.5,119.0 341.5,119.9 340.5,120.8 339.5,121.7 338.5,122.5 337.5,123.3 336.5,124.2 335.5,124.9 334.5,125.7 333.5,126.3 332.5,127.0 331.5,127.6 330.5,128.1 329.5,128.6 328.5,129.1 327.5,129.6 326.5,130.0 325.5,130.4 324.5,130.8 323.5,131.1 322.5,131.4 321.5,131.6 320.5,131.9 319.5,132.1 318.5,132.3 317.5,132.5 316.5,132.6 315.5,132.8 314.5,132.9 313.5,133.0 312.5,133.1 311.5,133.2 310.5,133.2 309.5,133.3 308.5,133.4 307.5,133.4 306.5,133.5 305.5,133.5 304.5,133.5 303.5,133.6 302.5,133.6 301.5,133.6 300.5,133.6 299.5,133.6 298.5,133.6 297.5,133.6 296.5,133.6 295.5,133.6 294.5,133.6 293.5,133.5 292.5,133.5 291.5,133.5 290.5,133.5 289.5,133.5 288.5,133.4 287.5,133.4 286.5,133.4 285.5,133.3 284.5,133.3 Z" fill="#00a000" fill-opacity="0.300" stroke="none"/>
<line x1="329.20" y1="151.00" x2="329.20" y2="20.00" stroke="#1a1a1a" stroke-width="1.7" stroke-dasharray="4.6,4.35"/>
<path d="M284.5,133.0 285.5,133.0 286.5,133.0 287.5,133.0 288.5,133.0 289.5,133.0 290.5,133.0 291.5,133.0 292.5,133.0 293.5,133.0 294.5,133.0 295.5,133.0 296.5,133.0 297.5,133.0 298.5,133.0 299.5,133.0 300.5,133.0 301.5,133.0 302.5,133.0 303.5,133.0 304.5,133.0 305.5,133.0 306.5,133.0 307.5,133.0 308.5,133.0 309.5,133.0 310.5,133.0 311.5,133.0 312.5,133.0 313.5,133.0 314.5,133.0 315.5,132.9 316.5,132.9 317.5,132.9 318.5,132.8 319.5,132.7 320.5,132.6 321.5,132.5 322.5,132.3 323.5,132.0 324.5,131.6 325.5,131.1 326.5,130.4 327.5,129.5 328.5,128.6 329.5,127.6 330.5,126.5 331.5,125.6 332.5,124.7 333.5,123.9 334.5,123.2 335.5,122.5 336.5,121.8 337.5,121.0 338.5,120.3 339.5,119.4 340.5,118.6 341.5,117.7 342.5,116.7 343.5,115.7 344.5,114.7 345.5,113.6 346.5,112.6 347.5,111.5 348.5,110.4 349.5,109.3 350.5,108.1 351.5,107.0 352.5,105.9 353.5,104.8 354.5,103.7 355.5,102.4 356.5,101.1 357.5,99.6 358.5,98.0 359.5,96.3 360.5,94.6 361.5,92.9 362.5,91.2 363.5,89.6 364.5,87.9 365.5,86.3 366.5,84.8 367.5,83.3 368.5,81.8 369.5,80.4 370.5,79.0 371.5,77.7 372.5,76.4 373.5,75.1 374.5,73.9 375.5,72.7 376.5,71.5 377.5,70.4 378.5,69.2 379.5,68.1 380.5,67.1 381.5,66.0 382.5,65.0 383.5,64.0 384.5,63.0 385.5,62.0 386.5,61.1 387.5,60.1 388.5,59.2 389.5,58.2 390.5,57.3 391.5,56.4 392.5,55.5 393.5,54.6 394.5,53.7 395.5,52.8 396.5,52.0 397.5,51.3 398.5,50.5 399.5,49.9 400.5,49.2 401.5,48.6 402.5,48.1 403.5,47.6 404.5,47.1 405.5,46.6 406.5,46.2 407.5,45.8 408.5,45.3 409.5,44.9 410.5,44.5 411.5,44.2 412.5,43.8 413.5,43.5 414.5,43.2 415.5,43.0 416.5,42.7 417.5,42.5 418.5,42.4 419.5,42.2 420.5,42.1 421.5,42.0 422.5,41.8 423.5,41.7 424.5,41.7 425.5,41.6 426.5,41.5 427.5,41.4 428.5,41.3 429.5,41.2 430.5,41.2 431.5,41.1 432.5,41.0 433.5,40.9 434.5,40.8 435.5,40.7 436.5,40.6 437.5,40.5 438.5,40.5 439.5,40.4 440.5,40.3 441.5,40.3 442.5,40.2 443.5,40.2 444.5,40.1 445.5,40.1 446.5,40.0 447.5,40.0 448.5,39.9 449.5,39.9 450.5,39.9 451.5,39.8 452.5,39.8 453.5,39.7 454.5,39.7 455.5,39.7 456.5,39.6 457.5,39.6" fill="none" stroke="#e8200c" stroke-width="2.00" stroke-linejoin="round"/>
<path d="M284.5,132.0 285.5,132.0 286.5,132.0 287.5,132.0 288.5,132.0 289.5,132.0 290.5,132.0 291.5,132.0 292.5,132.0 293.5,132.0 294.5,132.0 295.5,132.0 296.5,132.0 297.5,132.0 298.5,132.0 299.5,132.0 300.5,132.0 301.5,132.0 302.5,132.0 303.5,132.0 304.5,132.0 305.5,132.0 306.5,132.0 307.5,132.0 308.5,132.0 309.5,132.0 310.5,132.0 311.5,132.0 312.5,132.0 313.5,132.0 314.5,132.0 315.5,131.9 316.5,131.8 317.5,131.8 318.5,131.6 319.5,131.5 320.5,131.3 321.5,131.1 322.5,130.8 323.5,130.5 324.5,130.1 325.5,129.7 326.5,129.3 327.5,128.8 328.5,128.3 329.5,127.7 330.5,127.1 331.5,126.5 332.5,125.9 333.5,125.3 334.5,124.7 335.5,124.1 336.5,123.5 337.5,122.8 338.5,122.1 339.5,121.4 340.5,120.6 341.5,119.7 342.5,118.9 343.5,117.9 344.5,117.0 345.5,116.0 346.5,115.0 347.5,114.0 348.5,112.9 349.5,111.8 350.5,110.7 351.5,109.6 352.5,108.4 353.5,107.3 354.5,106.1 355.5,105.0 356.5,103.9 357.5,102.8 358.5,101.8 359.5,100.7 360.5,99.6 361.5,98.4 362.5,97.3 363.5,96.1 364.5,94.9 365.5,93.8 366.5,92.6 367.5,91.4 368.5,90.3 369.5,89.1 370.5,87.9 371.5,86.8 372.5,85.6 373.5,84.4 374.5,83.3 375.5,82.1 376.5,80.9 377.5,79.8 378.5,78.6 379.5,77.4 380.5,76.3 381.5,75.1 382.5,73.9 383.5,72.8 384.5,71.6 385.5,70.5 386.5,69.4 387.5,68.3 388.5,67.2 389.5,66.2 390.5,65.1 391.5,64.1 392.5,63.1 393.5,62.1 394.5,61.1 395.5,60.1 396.5,59.0 397.5,57.9 398.5,56.8 399.5,55.6 400.5,54.5 401.5,53.3 402.5,52.2 403.5,51.2 404.5,50.3 405.5,49.5 406.5,48.7 407.5,48.1 408.5,47.5 409.5,46.9 410.5,46.4 411.5,45.9 412.5,45.4 413.5,44.9 414.5,44.5 415.5,44.0 416.5,43.6 417.5,43.3 418.5,42.9 419.5,42.6 420.5,42.3 421.5,42.1 422.5,41.8 423.5,41.6 424.5,41.3 425.5,41.1 426.5,40.9 427.5,40.7 428.5,40.5 429.5,40.4 430.5,40.2 431.5,40.1 432.5,39.9 433.5,39.8 434.5,39.7 435.5,39.6 436.5,39.5 437.5,39.5 438.5,39.4 439.5,39.3 440.5,39.2 441.5,39.2 442.5,39.1 443.5,39.1 444.5,39.0 445.5,39.0 446.5,38.9 447.5,38.9 448.5,38.9 449.5,38.8 450.5,38.8 451.5,38.8 452.5,38.7 453.5,38.7 454.5,38.7 455.5,38.6 456.5,38.6 457.5,38.6" fill="none" stroke="#000000" stroke-width="2.20" stroke-linejoin="round"/>
<path d="M284.5,127.3 285.5,127.3 286.5,127.4 287.5,127.4 288.5,127.4 289.5,127.5 290.5,127.5 291.5,127.5 292.5,127.5 293.5,127.5 294.5,127.6 295.5,127.6 296.5,127.6 297.5,127.6 298.5,127.6 299.5,127.6 300.5,127.6 301.5,127.6 302.5,127.6 303.5,127.6 304.5,127.5 305.5,127.5 306.5,127.5 307.5,127.4 308.5,127.4 309.5,127.3 310.5,127.2 311.5,127.2 312.5,127.1 313.5,127.0 314.5,126.9 315.5,126.8 316.5,126.6 317.5,126.5 318.5,126.3 319.5,126.1 320.5,125.9 321.5,125.6 322.5,125.4 323.5,125.1 324.5,124.8 325.5,124.4 326.5,124.0 327.5,123.6 328.5,123.1 329.5,122.6 330.5,122.1 331.5,121.5 332.5,120.8 333.5,120.1 334.5,119.4 335.5,118.6 336.5,117.7 337.5,116.8 338.5,116.0 339.5,115.0 340.5,114.1 341.5,113.2 342.5,112.2 343.5,111.2 344.5,110.1 345.5,109.1 346.5,108.0 347.5,106.8 348.5,105.6 349.5,104.4 350.5,103.2 351.5,102.1 352.5,100.9 353.5,99.6 354.5,98.4 355.5,97.1 356.5,95.9 357.5,94.6 358.5,93.2 359.5,91.9 360.5,90.5 361.5,89.2 362.5,87.8 363.5,86.4 364.5,85.1 365.5,83.7 366.5,82.4 367.5,81.1 368.5,79.8 369.5,78.6 370.5,77.3 371.5,76.1 372.5,74.9 373.5,73.8 374.5,72.6 375.5,71.4 376.5,70.2 377.5,69.1 378.5,67.9 379.5,66.8 380.5,65.7 381.5,64.6 382.5,63.5 383.5,62.5 384.5,61.4 385.5,60.5 386.5,59.5 387.5,58.5 388.5,57.6 389.5,56.6 390.5,55.7 391.5,54.8 392.5,53.8 393.5,52.9 394.5,52.0 395.5,51.2 396.5,50.3 397.5,49.5 398.5,48.7 399.5,47.9 400.5,47.2 401.5,46.5 402.5,45.9 403.5,45.3 404.5,44.7 405.5,44.2 406.5,43.7 407.5,43.3 408.5,42.9 409.5,42.5 410.5,42.1 411.5,41.7 412.5,41.4 413.5,41.0 414.5,40.7 415.5,40.4 416.5,40.1 417.5,39.8 418.5,39.6 419.5,39.3 420.5,39.1 421.5,38.9 422.5,38.6 423.5,38.5 424.5,38.3 425.5,38.1 426.5,38.0 427.5,37.9 428.5,37.8 429.5,37.7 430.5,37.6 431.5,37.5 432.5,37.5 433.5,37.4 434.5,37.4 435.5,37.4 436.5,37.3 437.5,37.3 438.5,37.3 439.5,37.3 440.5,37.3 441.5,37.3 442.5,37.3 443.5,37.3 444.5,37.3 445.5,37.3 446.5,37.3 447.5,37.2 448.5,37.2 449.5,37.2 450.5,37.2 451.5,37.2 452.5,37.2 453.5,37.2 454.5,37.2 455.5,37.2 456.5,37.2 457.5,37.2" fill="none" stroke="#18a818" stroke-width="2.40" stroke-linejoin="round"/>
<line x1="357.50" y1="30.90" x2="404.90" y2="30.90" stroke="#0000cc" stroke-width="3"/>
</g>
<path d="M284.50,20.00 H457.50 V151.50 H284.50 Z" fill="none" stroke="#6a6a6a" stroke-width="1.1"/>
<path d="M284.50,151.50 v2.0 M284.50,20.00 v-2.0 M301.80,151.50 v1.3 M301.80,20.00 v-1.3 M319.10,151.50 v1.3 M319.10,20.00 v-1.3 M336.40,151.50 v1.3 M336.40,20.00 v-1.3 M353.70,151.50 v1.3 M353.70,20.00 v-1.3 M371.00,151.50 v2.0 M371.00,20.00 v-2.0 M388.30,151.50 v1.3 M388.30,20.00 v-1.3 M405.60,151.50 v1.3 M405.60,20.00 v-1.3 M422.90,151.50 v1.3 M422.90,20.00 v-1.3 M440.20,151.50 v1.3 M440.20,20.00 v-1.3 M457.50,151.50 v2.0 M457.50,20.00 v-2.0 M284.50,147.18 h-1.3 M457.50,147.18 h1.3 M284.50,141.74 h-1.3 M457.50,141.74 h1.3 M284.50,136.30 h-2.0 M457.50,136.30 h2.0 M284.50,130.86 h-1.3 M457.50,130.86 h1.3 M284.50,125.42 h-1.3 M457.50,125.42 h1.3 M284.50,119.98 h-1.3 M457.50,119.98 h1.3 M284.50,114.54 h-2.0 M457.50,114.54 h2.0 M284.50,109.10 h-1.3 M457.50,109.10 h1.3 M284.50,103.66 h-1.3 M457.50,103.66 h1.3 M284.50,98.22 h-1.3 M457.50,98.22 h1.3 M284.50,92.78 h-2.0 M457.50,92.78 h2.0 M284.50,87.34 h-1.3 M457.50,87.34 h1.3 M284.50,81.90 h-1.3 M457.50,81.90 h1.3 M284.50,76.46 h-1.3 M457.50,76.46 h1.3 M284.50,71.02 h-2.0 M457.50,71.02 h2.0 M284.50,65.58 h-1.3 M457.50,65.58 h1.3 M284.50,60.14 h-1.3 M457.50,60.14 h1.3 M284.50,54.70 h-1.3 M457.50,54.70 h1.3 M284.50,49.26 h-2.0 M457.50,49.26 h2.0 M284.50,43.82 h-1.3 M457.50,43.82 h1.3 M284.50,38.38 h-1.3 M457.50,38.38 h1.3 M284.50,32.94 h-1.3 M457.50,32.94 h1.3 M284.50,27.50 h-2.0 M457.50,27.50 h2.0 M284.50,22.06 h-1.3 M457.50,22.06 h1.3" stroke="#6a6a6a" stroke-width="1" fill="none"/>
<text x="284.50" y="168.50" text-anchor="middle" font-size="12.5">0</text>
<text x="371.00" y="168.50" text-anchor="middle" font-size="12.5">50</text>
<text x="457.50" y="168.50" text-anchor="middle" font-size="12.5">100</text>
<text x="279.50" y="32.10" text-anchor="end" font-size="12.5">0</text>
<text x="279.50" y="53.86" text-anchor="end" font-size="12.5">-20</text>
<text x="279.50" y="75.62" text-anchor="end" font-size="12.5">-40</text>
<text x="279.50" y="97.38" text-anchor="end" font-size="12.5">-60</text>
<text x="279.50" y="119.14" text-anchor="end" font-size="12.5">-80</text>
<text x="279.50" y="140.90" text-anchor="end" font-size="12.5">-100</text>
<text x="279.00" y="183.20" font-size="14" textLength="61.20" lengthAdjust="spacingAndGlyphs">percentage</text>
<text x="344.30" y="183.20" font-size="14" textLength="11.90" lengthAdjust="spacingAndGlyphs">of</text>
<text x="358.50" y="183.20" font-size="14" textLength="25.70" lengthAdjust="spacingAndGlyphs">STS</text>
<text x="389.10" y="183.20" font-size="14" textLength="57.60" lengthAdjust="spacingAndGlyphs">movement</text>
<text x="452.40" y="183.20" font-size="14" textLength="10.30" lengthAdjust="spacingAndGlyphs">[-]</text>
<text x="338.80" y="9.60" font-size="14" textLength="61.60" lengthAdjust="spacingAndGlyphs">knee angle</text>
<text x="241.80" y="17.50" font-size="26" font-weight="bold">b</text>
<text transform="translate(251.10,135.00) rotate(-90)" x="0" y="0" font-size="14" textLength="97.70" lengthAdjust="spacingAndGlyphs">Knee Angle [deg]</text>
<clipPath id="clipc"><rect x="519.50" y="20.00" width="179.00" height="131.50"/></clipPath>
<g clip-path="url(#clipc)">
<path d="M519.5,71.2 520.5,71.2 521.5,71.2 522.5,71.2 523.5,71.2 524.5,71.1 525.5,71.1 526.5,71.1 527.5,71.1 528.5,71.0 529.5,71.0 530.5,71.0 531.5,70.9 532.5,70.9 533.5,70.9 534.5,70.8 535.5,70.7 536.5,70.7 537.5,70.6 538.5,70.5 539.5,70.5 540.5,70.4 541.5,70.3 542.5,70.2 543.5,70.1 544.5,70.0 545.5,69.9 546.5,69.8 547.5,69.6 548.5,69.5 549.5,69.4 550.5,69.3 551.5,69.1 552.5,69.0 553.5,68.9 554.5,68.7 555.5,68.6 556.5,68.4 557.5,68.3 558.5,68.1 559.5,67.9 560.5,67.8 561.5,67.6 562.5,67.4 563.5,67.2 564.5,67.0 565.5,66.8 566.5,66.6 567.5,66.3 568.5,66.1 569.5,65.9 570.5,65.7 571.5,65.5 572.5,65.3 573.5,65.2 574.5,65.1 575.5,65.0 576.5,64.9 577.5,64.9 578.5,65.0 579.5,65.0 580.5,65.1 581.5,65.2 582.5,65.3 583.5,65.5 584.5,65.7 585.5,65.9 586.5,66.1 587.5,66.4 588.5,66.7 589.5,66.9 590.5,67.2 591.5,67.6 592.5,67.9 593.5,68.2 594.5,68.6 595.5,68.9 596.5,69.3 597.5,69.7 598.5,70.1 599.5,70.5 600.5,70.9 601.5,71.3 602.5,71.7 603.5,72.0 604.5,72.4 605.5,72.8 606.5,73.2 607.5,73.5 608.5,73.9 609.5,74.2 610.5,74.5 611.5,74.9 612.5,75.2 613.5,75.6 614.5,75.9 615.5,76.3 616.5,76.6 617.5,77.0 618.5,77.3 619.5,77.6 620.5,77.8 621.5,78.0 622.5,78.3 623.5,78.5 624.5,78.6 625.5,78.8 626.5,79.0 627.5,79.1 628.5,79.3 629.5,79.4 630.5,79.6 631.5,79.7 632.5,79.9 633.5,80.0 634.5,80.2 635.5,80.3 636.5,80.5 637.5,80.6 638.5,80.8 639.5,80.9 640.5,81.1 641.5,81.2 642.5,81.4 643.5,81.5 644.5,81.6 645.5,81.7 646.5,81.9 647.5,81.9 648.5,82.0 649.5,82.1 650.5,82.2 651.5,82.2 652.5,82.2 653.5,82.3 654.5,82.3 655.5,82.3 656.5,82.3 657.5,82.3 658.5,82.3 659.5,82.3 660.5,82.3 661.5,82.3 662.5,82.3 663.5,82.3 664.5,82.3 665.5,82.3 666.5,82.3 667.5,82.3 668.5,82.3 669.5,82.3 670.5,82.3 671.5,82.3 672.5,82.3 673.5,82.3 674.5,82.3 675.5,82.3 676.5,82.3 677.5,82.3 678.5,82.3 679.5,82.3 680.5,82.3 681.5,82.3 682.5,82.3 683.5,82.3 684.5,82.3 685.5,82.3 686.5,82.3 687.5,82.3 688.5,82.3 689.5,82.3 690.5,82.3 691.5,82.3 692.5,82.3 693.5,82.3 694.5,82.3 695.5,82.3 696.5,82.3 697.5,82.3 698.5,82.3 L698.5,95.3 697.5,95.3 696.5,95.3 695.5,95.3 694.5,95.3 693.5,95.2 692.5,95.2 691.5,95.2 690.5,95.2 689.5,95.2 688.5,95.2 687.5,95.2 686.5,95.2 685.5,95.1 684.5,95.1 683.5,95.1 682.5,95.1 681.5,95.1 680.5,95.1 679.5,95.1 678.5,95.1 677.5,95.1 676.5,95.0 675.5,95.0 674.5,95.0 673.5,95.0 672.5,95.0 671.5,95.0 670.5,95.0 669.5,95.0 668.5,95.0 667.5,94.9 666.5,94.9 665.5,94.9 664.5,94.9 663.5,94.9 662.5,94.9 661.5,94.9 660.5,94.9 659.5,94.9 658.5,94.9 657.5,94.8 656.5,94.8 655.5,94.8 654.5,94.8 653.5,94.8 652.5,94.7 651.5,94.7 650.5,94.6 649.5,94.6 648.5,94.5 647.5,94.4 646.5,94.3 645.5,94.1 644.5,94.0 643.5,93.9 642.5,93.7 641.5,93.6 640.5,93.4 639.5,93.3 638.5,93.1 637.5,93.0 636.5,92.8 635.5,92.6 634.5,92.5 633.5,92.3 632.5,92.2 631.5,92.0 630.5,91.8 629.5,91.7 628.5,91.5 627.5,91.3 626.5,91.2 625.5,91.0 624.5,90.8 623.5,90.6 622.5,90.4 621.5,90.2 620.5,89.9 619.5,89.7 618.5,89.4 617.5,89.1 616.5,88.7 615.5,88.4 614.5,88.0 613.5,87.6 612.5,87.3 611.5,86.9 610.5,86.6 609.5,86.2 608.5,85.9 607.5,85.5 606.5,85.2 605.5,84.8 604.5,84.5 603.5,84.1 602.5,83.7 601.5,83.3 600.5,82.9 599.5,82.5 598.5,82.1 597.5,81.8 596.5,81.4 595.5,81.0 594.5,80.7 593.5,80.3 592.5,80.0 591.5,79.6 590.5,79.3 589.5,79.0 588.5,78.8 587.5,78.5 586.5,78.3 585.5,78.0 584.5,77.8 583.5,77.7 582.5,77.5 581.5,77.4 580.5,77.3 579.5,77.2 578.5,77.1 577.5,77.1 576.5,77.1 575.5,77.2 574.5,77.3 573.5,77.4 572.5,77.5 571.5,77.7 570.5,77.9 569.5,78.1 568.5,78.3 567.5,78.6 566.5,78.8 565.5,79.0 564.5,79.2 563.5,79.4 562.5,79.6 561.5,79.8 560.5,80.0 559.5,80.2 558.5,80.4 557.5,80.6 556.5,80.7 555.5,80.9 554.5,81.0 553.5,81.2 552.5,81.3 551.5,81.5 550.5,81.6 549.5,81.7 548.5,81.9 547.5,82.0 546.5,82.1 545.5,82.2 544.5,82.3 543.5,82.4 542.5,82.5 541.5,82.7 540.5,82.7 539.5,82.8 538.5,82.9 537.5,83.0 536.5,83.1 535.5,83.2 534.5,83.2 533.5,83.3 532.5,83.3 531.5,83.4 530.5,83.4 529.5,83.5 528.5,83.5 527.5,83.5 526.5,83.6 525.5,83.6 524.5,83.6 523.5,83.6 522.5,83.6 521.5,83.7 520.5,83.7 519.5,83.7 Z" fill="#a00000" fill-opacity="0.220" stroke="none"/>
<path d="M519.5,69.4 520.5,69.4 521.5,69.4 522.5,69.4 523.5,69.4 524.5,69.4 525.5,69.3 526.5,69.3 527.5,69.3 528.5,69.3 529.5,69.2 530.5,69.2 531.5,69.2 532.5,69.1 533.5,69.1 534.5,69.0 535.5,68.9 536.5,68.9 537.5,68.8 538.5,68.7 539.5,68.6 540.5,68.5 541.5,68.4 542.5,68.3 543.5,68.2 544.5,68.0 545.5,67.9 546.5,67.8 547.5,67.6 548.5,67.5 549.5,67.3 550.5,67.2 551.5,67.0 552.5,66.9 553.5,66.7 554.5,66.5 555.5,66.4 556.5,66.2 557.5,66.0 558.5,65.8 559.5,65.6 560.5,65.5 561.5,65.3 562.5,65.1 563.5,64.9 564.5,64.7 565.5,64.4 566.5,64.2 567.5,64.0 568.5,63.8 569.5,63.6 570.5,63.4 571.5,63.2 572.5,63.1 573.5,62.9 574.5,62.8 575.5,62.8 576.5,62.8 577.5,62.8 578.5,62.8 579.5,62.8 580.5,62.9 581.5,63.1 582.5,63.2 583.5,63.4 584.5,63.6 585.5,63.8 586.5,64.0 587.5,64.2 588.5,64.5 589.5,64.7 590.5,64.9 591.5,65.2 592.5,65.4 593.5,65.6 594.5,65.8 595.5,66.0 596.5,66.2 597.5,66.3 598.5,66.5 599.5,66.6 600.5,66.8 601.5,66.9 602.5,67.1 603.5,67.2 604.5,67.4 605.5,67.6 606.5,67.8 607.5,68.1 608.5,68.3 609.5,68.6 610.5,68.8 611.5,69.1 612.5,69.4 613.5,69.7 614.5,70.0 615.5,70.3 616.5,70.7 617.5,71.0 618.5,71.4 619.5,71.7 620.5,72.1 621.5,72.5 622.5,72.8 623.5,73.2 624.5,73.6 625.5,73.9 626.5,74.3 627.5,74.7 628.5,75.0 629.5,75.3 630.5,75.7 631.5,76.0 632.5,76.3 633.5,76.6 634.5,76.8 635.5,77.1 636.5,77.3 637.5,77.6 638.5,77.8 639.5,78.0 640.5,78.2 641.5,78.4 642.5,78.6 643.5,78.8 644.5,79.0 645.5,79.2 646.5,79.4 647.5,79.5 648.5,79.7 649.5,79.8 650.5,80.0 651.5,80.1 652.5,80.2 653.5,80.4 654.5,80.5 655.5,80.6 656.5,80.7 657.5,80.8 658.5,80.9 659.5,81.0 660.5,81.0 661.5,81.1 662.5,81.2 663.5,81.2 664.5,81.3 665.5,81.3 666.5,81.4 667.5,81.4 668.5,81.5 669.5,81.5 670.5,81.5 671.5,81.6 672.5,81.6 673.5,81.6 674.5,81.6 675.5,81.6 676.5,81.7 677.5,81.7 678.5,81.7 679.5,81.7 680.5,81.7 681.5,81.7 682.5,81.8 683.5,81.8 684.5,81.8 685.5,81.8 686.5,81.8 687.5,81.8 688.5,81.8 689.5,81.8 690.5,81.8 691.5,81.8 692.5,81.8 693.5,81.8 694.5,81.8 695.5,81.8 696.5,81.8 697.5,81.8 698.5,81.8 L698.5,95.8 697.5,95.8 696.5,95.8 695.5,95.8 694.5,95.8 693.5,95.8 692.5,95.8 691.5,95.8 690.5,95.8 689.5,95.8 688.5,95.8 687.5,95.8 686.5,95.9 685.5,95.8 684.5,95.8 683.5,95.8 682.5,95.8 681.5,95.8 680.5,95.8 679.5,95.8 678.5,95.8 677.5,95.8 676.5,95.8 675.5,95.8 674.5,95.8 673.5,95.7 672.5,95.7 671.5,95.7 670.5,95.7 669.5,95.7 668.5,95.6 667.5,95.6 666.5,95.6 665.5,95.5 664.5,95.5 663.5,95.4 662.5,95.4 661.5,95.3 660.5,95.2 659.5,95.2 658.5,95.1 657.5,95.0 656.5,94.9 655.5,94.8 654.5,94.7 653.5,94.6 652.5,94.5 651.5,94.4 650.5,94.3 649.5,94.1 648.5,94.0 647.5,93.8 646.5,93.7 645.5,93.5 644.5,93.3 643.5,93.1 642.5,93.0 641.5,92.8 640.5,92.6 639.5,92.4 638.5,92.1 637.5,91.9 636.5,91.7 635.5,91.4 634.5,91.2 633.5,90.9 632.5,90.6 631.5,90.4 630.5,90.0 629.5,89.7 628.5,89.4 627.5,89.0 626.5,88.7 625.5,88.3 624.5,88.0 623.5,87.6 622.5,87.3 621.5,86.9 620.5,86.5 619.5,86.2 618.5,85.8 617.5,85.5 616.5,85.1 615.5,84.8 614.5,84.5 613.5,84.2 612.5,83.9 611.5,83.6 610.5,83.3 609.5,83.1 608.5,82.8 607.5,82.6 606.5,82.3 605.5,82.1 604.5,81.9 603.5,81.7 602.5,81.6 601.5,81.4 600.5,81.3 599.5,81.1 598.5,81.0 597.5,80.8 596.5,80.7 595.5,80.5 594.5,80.3 593.5,80.1 592.5,79.9 591.5,79.7 590.5,79.4 589.5,79.2 588.5,79.0 587.5,78.7 586.5,78.5 585.5,78.3 584.5,78.1 583.5,77.9 582.5,77.7 581.5,77.6 580.5,77.4 579.5,77.3 578.5,77.3 577.5,77.3 576.5,77.3 575.5,77.3 574.5,77.3 573.5,77.4 572.5,77.6 571.5,77.7 570.5,77.9 569.5,78.1 568.5,78.3 567.5,78.5 566.5,78.7 565.5,78.9 564.5,79.2 563.5,79.4 562.5,79.6 561.5,79.8 560.5,80.0 559.5,80.1 558.5,80.3 557.5,80.5 556.5,80.7 555.5,80.9 554.5,81.0 553.5,81.2 552.5,81.4 551.5,81.5 550.5,81.7 549.5,81.8 548.5,82.0 547.5,82.1 546.5,82.3 545.5,82.4 544.5,82.5 543.5,82.7 542.5,82.8 541.5,82.9 540.5,83.0 539.5,83.1 538.5,83.2 537.5,83.3 536.5,83.4 535.5,83.4 534.5,83.5 533.5,83.6 532.5,83.6 531.5,83.7 530.5,83.7 529.5,83.7 528.5,83.8 527.5,83.8 526.5,83.8 525.5,83.8 524.5,83.9 523.5,83.9 522.5,83.9 521.5,83.9 520.5,83.9 519.5,83.9 Z" fill="#000000" fill-opacity="0.270" stroke="none"/>
<path d="M519.5,68.3 520.5,68.3 521.5,68.3 522.5,68.4 523.5,68.4 524.5,68.4 525.5,68.4 526.5,68.4 527.5,68.4 528.5,68.4 529.5,68.4 530.5,68.3 531.5,68.3 532.5,68.3 533.5,68.2 534.5,68.2 535.5,68.1 536.5,68.0 537.5,67.9 538.5,67.8 539.5,67.7 540.5,67.6 541.5,67.5 542.5,67.3 543.5,67.2 544.5,67.0 545.5,66.9 546.5,66.7 547.5,66.5 548.5,66.4 549.5,66.2 550.5,66.0 551.5,65.8 552.5,65.6 553.5,65.4 554.5,65.2 555.5,65.0 556.5,64.8 557.5,64.6 558.5,64.4 559.5,64.2 560.5,64.0 561.5,63.8 562.5,63.6 563.5,63.4 564.5,63.2 565.5,63.1 566.5,62.9 567.5,62.7 568.5,62.5 569.5,62.4 570.5,62.2 571.5,62.1 572.5,62.0 573.5,61.9 574.5,61.8 575.5,61.7 576.5,61.7 577.5,61.7 578.5,61.7 579.5,61.8 580.5,61.9 581.5,62.0 582.5,62.2 583.5,62.4 584.5,62.6 585.5,62.9 586.5,63.2 587.5,63.5 588.5,63.8 589.5,64.1 590.5,64.5 591.5,64.8 592.5,65.2 593.5,65.5 594.5,65.9 595.5,66.2 596.5,66.6 597.5,67.0 598.5,67.3 599.5,67.7 600.5,68.0 601.5,68.4 602.5,68.7 603.5,69.0 604.5,69.4 605.5,69.7 606.5,70.0 607.5,70.3 608.5,70.6 609.5,70.9 610.5,71.2 611.5,71.5 612.5,71.8 613.5,72.1 614.5,72.4 615.5,72.6 616.5,72.9 617.5,73.2 618.5,73.4 619.5,73.7 620.5,73.9 621.5,74.2 622.5,74.5 623.5,74.8 624.5,75.0 625.5,75.3 626.5,75.6 627.5,75.9 628.5,76.2 629.5,76.4 630.5,76.7 631.5,76.9 632.5,77.2 633.5,77.4 634.5,77.5 635.5,77.7 636.5,77.9 637.5,78.0 638.5,78.1 639.5,78.3 640.5,78.4 641.5,78.5 642.5,78.6 643.5,78.8 644.5,78.9 645.5,79.0 646.5,79.1 647.5,79.2 648.5,79.4 649.5,79.5 650.5,79.6 651.5,79.7 652.5,79.8 653.5,79.9 654.5,80.0 655.5,80.1 656.5,80.1 657.5,80.2 658.5,80.3 659.5,80.4 660.5,80.4 661.5,80.5 662.5,80.6 663.5,80.6 664.5,80.7 665.5,80.7 666.5,80.8 667.5,80.8 668.5,80.9 669.5,80.9 670.5,80.9 671.5,81.0 672.5,81.0 673.5,81.0 674.5,81.1 675.5,81.1 676.5,81.1 677.5,81.1 678.5,81.1 679.5,81.2 680.5,81.2 681.5,81.2 682.5,81.2 683.5,81.2 684.5,81.2 685.5,81.2 686.5,81.2 687.5,81.2 688.5,81.2 689.5,81.2 690.5,81.2 691.5,81.2 692.5,81.2 693.5,81.2 694.5,81.2 695.5,81.2 696.5,81.2 697.5,81.2 698.5,81.2 L698.5,94.7 697.5,94.7 696.5,94.7 695.5,94.7 694.5,94.7 693.5,94.7 692.5,94.8 691.5,94.8 690.5,94.8 689.5,94.8 688.5,94.8 687.5,94.8 686.5,94.8 685.5,94.8 684.5,94.8 683.5,94.8 682.5,94.8 681.5,94.8 680.5,94.8 679.5,94.8 678.5,94.7 677.5,94.7 676.5,94.7 675.5,94.7 674.5,94.7 673.5,94.7 672.5,94.6 671.5,94.6 670.5,94.6 669.5,94.6 668.5,94.5 667.5,94.5 666.5,94.5 665.5,94.4 664.5,94.4 663.5,94.3 662.5,94.3 661.5,94.2 660.5,94.1 659.5,94.1 658.5,94.0 657.5,93.9 656.5,93.9 655.5,93.8 654.5,93.7 653.5,93.6 652.5,93.5 651.5,93.4 650.5,93.3 649.5,93.2 648.5,93.1 647.5,93.0 646.5,92.9 645.5,92.8 644.5,92.7 643.5,92.6 642.5,92.5 641.5,92.3 640.5,92.2 639.5,92.1 638.5,92.0 637.5,91.8 636.5,91.7 635.5,91.6 634.5,91.4 633.5,91.2 632.5,91.0 631.5,90.8 630.5,90.6 629.5,90.3 628.5,90.1 627.5,89.8 626.5,89.5 625.5,89.2 624.5,89.0 623.5,88.7 622.5,88.4 621.5,88.1 620.5,87.9 619.5,87.6 618.5,87.4 617.5,87.1 616.5,86.9 615.5,86.6 614.5,86.3 613.5,86.1 612.5,85.8 611.5,85.5 610.5,85.2 609.5,84.9 608.5,84.6 607.5,84.3 606.5,84.0 605.5,83.7 604.5,83.4 603.5,83.1 602.5,82.7 601.5,82.4 600.5,82.1 599.5,81.7 598.5,81.4 597.5,81.0 596.5,80.7 595.5,80.3 594.5,80.0 593.5,79.6 592.5,79.3 591.5,78.9 590.5,78.6 589.5,78.2 588.5,77.9 587.5,77.6 586.5,77.3 585.5,77.0 584.5,76.8 583.5,76.5 582.5,76.3 581.5,76.2 580.5,76.0 579.5,76.0 578.5,75.9 577.5,75.9 576.5,75.9 575.5,75.9 574.5,76.0 573.5,76.1 572.5,76.2 571.5,76.3 570.5,76.4 569.5,76.6 568.5,76.8 567.5,76.9 566.5,77.1 565.5,77.3 564.5,77.5 563.5,77.7 562.5,77.9 561.5,78.1 560.5,78.3 559.5,78.6 558.5,78.8 557.5,79.0 556.5,79.2 555.5,79.4 554.5,79.6 553.5,79.9 552.5,80.1 551.5,80.3 550.5,80.5 549.5,80.7 548.5,80.9 547.5,81.1 546.5,81.3 545.5,81.4 544.5,81.6 543.5,81.8 542.5,81.9 541.5,82.1 540.5,82.2 539.5,82.4 538.5,82.5 537.5,82.6 536.5,82.7 535.5,82.8 534.5,82.9 533.5,83.0 532.5,83.1 531.5,83.1 530.5,83.2 529.5,83.2 528.5,83.2 527.5,83.3 526.5,83.3 525.5,83.3 524.5,83.3 523.5,83.3 522.5,83.3 521.5,83.3 520.5,83.3 519.5,83.3 Z" fill="#00a000" fill-opacity="0.300" stroke="none"/>
<line x1="565.90" y1="151.00" x2="565.90" y2="20.00" stroke="#1a1a1a" stroke-width="1.7" stroke-dasharray="4.6,4.35"/>
<path d="M519.5,77.2 520.5,77.2 521.5,77.2 522.5,77.2 523.5,77.2 524.5,77.1 525.5,77.1 526.5,77.1 527.5,77.1 528.5,77.0 529.5,77.0 530.5,77.0 531.5,76.9 532.5,76.9 533.5,76.9 534.5,76.8 535.5,76.7 536.5,76.7 537.5,76.6 538.5,76.5 539.5,76.5 540.5,76.4 541.5,76.3 542.5,76.2 543.5,76.1 544.5,76.0 545.5,75.9 546.5,75.8 547.5,75.6 548.5,75.5 549.5,75.4 550.5,75.3 551.5,75.1 552.5,75.0 553.5,74.9 554.5,74.7 555.5,74.6 556.5,74.4 557.5,74.3 558.5,74.1 559.5,73.9 560.5,73.8 561.5,73.6 562.5,73.4 563.5,73.2 564.5,73.0 565.5,72.8 566.5,72.6 567.5,72.3 568.5,72.1 569.5,71.9 570.5,71.7 571.5,71.5 572.5,71.3 573.5,71.2 574.5,71.1 575.5,71.0 576.5,70.9 577.5,70.9 578.5,71.0 579.5,71.0 580.5,71.1 581.5,71.2 582.5,71.3 583.5,71.5 584.5,71.7 585.5,71.9 586.5,72.1 587.5,72.4 588.5,72.7 589.5,72.9 590.5,73.2 591.5,73.6 592.5,73.9 593.5,74.2 594.5,74.6 595.5,74.9 596.5,75.3 597.5,75.7 598.5,76.1 599.5,76.5 600.5,76.9 601.5,77.3 602.5,77.7 603.5,78.0 604.5,78.4 605.5,78.8 606.5,79.2 607.5,79.5 608.5,79.9 609.5,80.2 610.5,80.5 611.5,80.9 612.5,81.2 613.5,81.6 614.5,81.9 615.5,82.3 616.5,82.6 617.5,83.0 618.5,83.3 619.5,83.6 620.5,83.8 621.5,84.0 622.5,84.3 623.5,84.5 624.5,84.6 625.5,84.8 626.5,85.0 627.5,85.1 628.5,85.3 629.5,85.4 630.5,85.6 631.5,85.7 632.5,85.9 633.5,86.0 634.5,86.2 635.5,86.3 636.5,86.5 637.5,86.6 638.5,86.8 639.5,86.9 640.5,87.1 641.5,87.2 642.5,87.4 643.5,87.5 644.5,87.6 645.5,87.7 646.5,87.9 647.5,87.9 648.5,88.0 649.5,88.1 650.5,88.2 651.5,88.2 652.5,88.2 653.5,88.3 654.5,88.3 655.5,88.3 656.5,88.3 657.5,88.3 658.5,88.3 659.5,88.3 660.5,88.3 661.5,88.3 662.5,88.3 663.5,88.3 664.5,88.3 665.5,88.3 666.5,88.3 667.5,88.3 668.5,88.3 669.5,88.3 670.5,88.3 671.5,88.3 672.5,88.3 673.5,88.3 674.5,88.3 675.5,88.3 676.5,88.3 677.5,88.3 678.5,88.3 679.5,88.3 680.5,88.3 681.5,88.3 682.5,88.3 683.5,88.3 684.5,88.3 685.5,88.3 686.5,88.3 687.5,88.3 688.5,88.3 689.5,88.3 690.5,88.3 691.5,88.3 692.5,88.3 693.5,88.3 694.5,88.3 695.5,88.3 696.5,88.3 697.5,88.3 698.5,88.3" fill="none" stroke="#e8200c" stroke-width="2.00" stroke-linejoin="round"/>
<path d="M519.5,76.9 520.5,76.9 521.5,76.9 522.5,76.8 523.5,76.8 524.5,76.8 525.5,76.7 526.5,76.7 527.5,76.7 528.5,76.6 529.5,76.6 530.5,76.5 531.5,76.5 532.5,76.4 533.5,76.3 534.5,76.3 535.5,76.2 536.5,76.1 537.5,76.0 538.5,75.9 539.5,75.8 540.5,75.6 541.5,75.5 542.5,75.4 543.5,75.2 544.5,75.1 545.5,75.0 546.5,74.8 547.5,74.7 548.5,74.5 549.5,74.3 550.5,74.2 551.5,74.0 552.5,73.8 553.5,73.6 554.5,73.5 555.5,73.3 556.5,73.1 557.5,72.9 558.5,72.7 559.5,72.5 560.5,72.3 561.5,72.1 562.5,71.8 563.5,71.6 564.5,71.4 565.5,71.2 566.5,70.9 567.5,70.7 568.5,70.5 569.5,70.3 570.5,70.0 571.5,69.9 572.5,69.7 573.5,69.5 574.5,69.4 575.5,69.3 576.5,69.3 577.5,69.3 578.5,69.3 579.5,69.3 580.5,69.4 581.5,69.5 582.5,69.6 583.5,69.8 584.5,70.0 585.5,70.2 586.5,70.4 587.5,70.6 588.5,70.8 589.5,71.0 590.5,71.3 591.5,71.5 592.5,71.7 593.5,71.9 594.5,72.1 595.5,72.2 596.5,72.4 597.5,72.5 598.5,72.7 599.5,72.8 600.5,72.9 601.5,73.1 602.5,73.2 603.5,73.3 604.5,73.5 605.5,73.7 606.5,73.9 607.5,74.1 608.5,74.3 609.5,74.6 610.5,74.9 611.5,75.1 612.5,75.4 613.5,75.7 614.5,76.1 615.5,76.4 616.5,76.7 617.5,77.1 618.5,77.4 619.5,77.8 620.5,78.2 621.5,78.5 622.5,78.9 623.5,79.3 624.5,79.7 625.5,80.0 626.5,80.4 627.5,80.8 628.5,81.1 629.5,81.5 630.5,81.8 631.5,82.1 632.5,82.4 633.5,82.7 634.5,83.0 635.5,83.2 636.5,83.5 637.5,83.7 638.5,84.0 639.5,84.2 640.5,84.4 641.5,84.6 642.5,84.8 643.5,85.0 644.5,85.2 645.5,85.4 646.5,85.6 647.5,85.7 648.5,85.9 649.5,86.1 650.5,86.2 651.5,86.4 652.5,86.5 653.5,86.6 654.5,86.7 655.5,86.9 656.5,87.0 657.5,87.1 658.5,87.2 659.5,87.2 660.5,87.3 661.5,87.4 662.5,87.5 663.5,87.5 664.5,87.6 665.5,87.6 666.5,87.7 667.5,87.7 668.5,87.8 669.5,87.8 670.5,87.9 671.5,87.9 672.5,87.9 673.5,88.0 674.5,88.0 675.5,88.0 676.5,88.0 677.5,88.1 678.5,88.1 679.5,88.1 680.5,88.1 681.5,88.1 682.5,88.2 683.5,88.2 684.5,88.2 685.5,88.2 686.5,88.2 687.5,88.2 688.5,88.2 689.5,88.2 690.5,88.3 691.5,88.3 692.5,88.3 693.5,88.3 694.5,88.3 695.5,88.3 696.5,88.3 697.5,88.3 698.5,88.3" fill="none" stroke="#000000" stroke-width="2.20" stroke-linejoin="round"/>
<path d="M519.5,75.8 520.5,75.8 521.5,75.8 522.5,75.8 523.5,75.8 524.5,75.8 525.5,75.8 526.5,75.8 527.5,75.8 528.5,75.8 529.5,75.8 530.5,75.7 531.5,75.7 532.5,75.6 533.5,75.6 534.5,75.5 535.5,75.4 536.5,75.3 537.5,75.2 538.5,75.1 539.5,75.0 540.5,74.9 541.5,74.7 542.5,74.6 543.5,74.4 544.5,74.3 545.5,74.1 546.5,73.9 547.5,73.7 548.5,73.5 549.5,73.3 550.5,73.2 551.5,73.0 552.5,72.7 553.5,72.5 554.5,72.3 555.5,72.1 556.5,71.9 557.5,71.7 558.5,71.5 559.5,71.3 560.5,71.1 561.5,70.9 562.5,70.7 563.5,70.5 564.5,70.3 565.5,70.1 566.5,69.9 567.5,69.7 568.5,69.5 569.5,69.4 570.5,69.2 571.5,69.1 572.5,69.0 573.5,68.9 574.5,68.8 575.5,68.7 576.5,68.7 577.5,68.7 578.5,68.7 579.5,68.8 580.5,68.9 581.5,69.0 582.5,69.2 583.5,69.4 584.5,69.6 585.5,69.9 586.5,70.2 587.5,70.5 588.5,70.8 589.5,71.1 590.5,71.5 591.5,71.8 592.5,72.2 593.5,72.5 594.5,72.9 595.5,73.2 596.5,73.6 597.5,74.0 598.5,74.3 599.5,74.7 600.5,75.0 601.5,75.4 602.5,75.7 603.5,76.0 604.5,76.4 605.5,76.7 606.5,77.0 607.5,77.3 608.5,77.6 609.5,77.9 610.5,78.2 611.5,78.5 612.5,78.8 613.5,79.0 614.5,79.3 615.5,79.5 616.5,79.8 617.5,80.0 618.5,80.3 619.5,80.5 620.5,80.7 621.5,81.0 622.5,81.2 623.5,81.5 624.5,81.8 625.5,82.1 626.5,82.3 627.5,82.6 628.5,82.9 629.5,83.1 630.5,83.3 631.5,83.6 632.5,83.8 633.5,83.9 634.5,84.1 635.5,84.3 636.5,84.4 637.5,84.5 638.5,84.6 639.5,84.8 640.5,84.9 641.5,85.0 642.5,85.1 643.5,85.2 644.5,85.3 645.5,85.4 646.5,85.5 647.5,85.6 648.5,85.7 649.5,85.8 650.5,85.9 651.5,86.0 652.5,86.0 653.5,86.1 654.5,86.2 655.5,86.3 656.5,86.3 657.5,86.4 658.5,86.5 659.5,86.5 660.5,86.6 661.5,86.6 662.5,86.7 663.5,86.7 664.5,86.7 665.5,86.8 666.5,86.8 667.5,86.8 668.5,86.9 669.5,86.9 670.5,86.9 671.5,86.9 672.5,86.9 673.5,86.9 674.5,87.0 675.5,87.0 676.5,87.0 677.5,87.0 678.5,87.0 679.5,87.0 680.5,87.0 681.5,87.0 682.5,87.0 683.5,86.9 684.5,86.9 685.5,86.9 686.5,86.9 687.5,86.9 688.5,86.9 689.5,86.9 690.5,86.9 691.5,86.8 692.5,86.8 693.5,86.8 694.5,86.8 695.5,86.8 696.5,86.7 697.5,86.7 698.5,86.7" fill="none" stroke="#18a818" stroke-width="2.40" stroke-linejoin="round"/>
</g>
<path d="M519.50,20.00 H698.50 V151.50 H519.50 Z" fill="none" stroke="#6a6a6a" stroke-width="1.1"/>
<path d="M519.50,151.50 v2.0 M519.50,20.00 v-2.0 M537.40,151.50 v1.3 M537.40,20.00 v-1.3 M555.30,151.50 v1.3 M555.30,20.00 v-1.3 M573.20,151.50 v1.3 M573.20,20.00 v-1.3 M591.10,151.50 v1.3 M591.10,20.00 v-1.3 M609.00,151.50 v2.0 M609.00,20.00 v-2.0 M626.90,151.50 v1.3 M626.90,20.00 v-1.3 M644.80,151.50 v1.3 M644.80,20.00 v-1.3 M662.70,151.50 v1.3 M662.70,20.00 v-1.3 M680.60,151.50 v1.3 M680.60,20.00 v-1.3 M698.50,151.50 v2.0 M698.50,20.00 v-2.0 M519.50,147.00 h-1.3 M698.50,147.00 h1.3 M519.50,141.40 h-2.0 M698.50,141.40 h2.0 M519.50,135.80 h-1.3 M698.50,135.80 h1.3 M519.50,130.20 h-1.3 M698.50,130.20 h1.3 M519.50,124.60 h-1.3 M698.50,124.60 h1.3 M519.50,119.00 h-2.0 M698.50,119.00 h2.0 M519.50,113.40 h-1.3 M698.50,113.40 h1.3 M519.50,107.80 h-1.3 M698.50,107.80 h1.3 M519.50,102.20 h-1.3 M698.50,102.20 h1.3 M519.50,96.60 h-2.0 M698.50,96.60 h2.0 M519.50,91.00 h-1.3 M698.50,91.00 h1.3 M519.50,85.40 h-1.3 M698.50,85.40 h1.3 M519.50,79.80 h-1.3 M698.50,79.80 h1.3 M519.50,74.20 h-2.0 M698.50,74.20 h2.0 M519.50,68.60 h-1.3 M698.50,68.60 h1.3 M519.50,63.00 h-1.3 M698.50,63.00 h1.3 M519.50,57.40 h-1.3 M698.50,57.40 h1.3 M519.50,51.80 h-2.0 M698.50,51.80 h2.0 M519.50,46.20 h-1.3 M698.50,46.20 h1.3 M519.50,40.60 h-1.3 M698.50,40.60 h1.3 M519.50,35.00 h-1.3 M698.50,35.00 h1.3 M519.50,29.40 h-2.0 M698.50,29.40 h2.0 M519.50,23.80 h-1.3 M698.50,23.80 h1.3" stroke="#6a6a6a" stroke-width="1" fill="none"/>
<text x="519.50" y="168.50" text-anchor="middle" font-size="12.5">0</text>
<text x="609.00" y="168.50" text-anchor="middle" font-size="12.5">50</text>
<text x="698.50" y="168.50" text-anchor="middle" font-size="12.5">100</text>
<text x="514.50" y="34.00" text-anchor="end" font-size="12.5">60</text>
<text x="514.50" y="56.40" text-anchor="end" font-size="12.5">40</text>
<text x="514.50" y="78.80" text-anchor="end" font-size="12.5">20</text>
<text x="514.50" y="101.20" text-anchor="end" font-size="12.5">0</text>
<text x="514.50" y="123.60" text-anchor="end" font-size="12.5">-20</text>
<text x="514.50" y="146.00" text-anchor="end" font-size="12.5">-40</text>
<text x="517.00" y="183.20" font-size="14" textLength="61.20" lengthAdjust="spacingAndGlyphs">percentage</text>
<text x="582.30" y="183.20" font-size="14" textLength="11.90" lengthAdjust="spacingAndGlyphs">of</text>
<text x="596.50" y="183.20" font-size="14" textLength="25.70" lengthAdjust="spacingAndGlyphs">STS</text>
<text x="627.10" y="183.20" font-size="14" textLength="57.60" lengthAdjust="spacingAndGlyphs">movement</text>
<text x="690.40" y="183.20" font-size="14" textLength="10.30" lengthAdjust="spacingAndGlyphs">[-]</text>
<text x="577.60" y="9.60" font-size="14" textLength="65.90" lengthAdjust="spacingAndGlyphs">ankle angle</text>
<text x="481.90" y="17.40" font-size="26" font-weight="bold">c</text>
<text transform="translate(491.70,136.50) rotate(-90)" x="0" y="0" font-size="14" textLength="101.10" lengthAdjust="spacingAndGlyphs">Ankle Angle [deg]</text>
<clipPath id="clipd"><rect x="40.50" y="218.50" width="176.00" height="132.00"/></clipPath>
<g clip-path="url(#clipd)">
<path d="M40.5,237.3 41.5,237.2 42.5,237.0 43.5,236.9 44.5,236.8 45.5,236.7 46.5,236.6 47.5,236.4 48.5,236.4 49.5,236.3 50.5,236.2 51.5,236.2 52.5,236.2 53.5,236.2 54.5,236.3 55.5,236.4 56.5,236.6 57.5,236.8 58.5,237.2 59.5,237.5 60.5,238.0 61.5,238.5 62.5,239.2 63.5,239.9 64.5,240.8 65.5,241.9 66.5,243.2 67.5,244.6 68.5,246.2 69.5,248.0 70.5,249.9 71.5,251.9 72.5,254.1 73.5,256.4 74.5,258.9 75.5,261.6 76.5,264.7 77.5,268.2 78.5,272.0 79.5,276.1 80.5,280.5 81.5,285.1 82.5,289.8 83.5,294.5 84.5,299.0 85.5,303.1 86.5,306.7 87.5,309.8 88.5,312.3 89.5,314.3 90.5,315.8 91.5,316.8 92.5,317.3 93.5,317.4 94.5,317.2 95.5,316.6 96.5,315.7 97.5,314.6 98.5,313.3 99.5,311.9 100.5,310.3 101.5,308.6 102.5,306.9 103.5,305.0 104.5,303.2 105.5,301.4 106.5,299.6 107.5,297.8 108.5,296.0 109.5,294.3 110.5,292.6 111.5,291.0 112.5,289.4 113.5,287.8 114.5,286.3 115.5,284.7 116.5,283.2 117.5,281.7 118.5,280.1 119.5,278.6 120.5,277.1 121.5,275.6 122.5,274.0 123.5,272.6 124.5,271.2 125.5,269.9 126.5,268.6 127.5,267.4 128.5,266.2 129.5,265.1 130.5,264.1 131.5,263.1 132.5,262.3 133.5,261.4 134.5,260.7 135.5,259.9 136.5,259.3 137.5,258.8 138.5,258.3 139.5,257.8 140.5,257.4 141.5,256.9 142.5,256.6 143.5,256.2 144.5,255.9 145.5,255.6 146.5,255.4 147.5,255.1 148.5,254.9 149.5,254.8 150.5,254.5 151.5,254.2 152.5,253.9 153.5,253.7 154.5,253.4 155.5,253.2 156.5,252.9 157.5,252.7 158.5,252.5 159.5,252.3 160.5,252.1 161.5,251.8 162.5,251.6 163.5,251.4 164.5,251.2 165.5,251.0 166.5,250.8 167.5,250.6 168.5,250.4 169.5,250.2 170.5,250.0 171.5,249.7 172.5,249.5 173.5,249.3 174.5,249.0 175.5,248.8 176.5,248.6 177.5,248.4 178.5,248.2 179.5,247.9 180.5,247.7 181.5,247.5 182.5,247.3 183.5,247.1 184.5,246.9 185.5,246.6 186.5,246.4 187.5,246.3 188.5,246.1 189.5,245.9 190.5,245.7 191.5,245.6 192.5,245.4 193.5,245.3 194.5,245.2 195.5,245.1 196.5,245.0 197.5,244.9 198.5,244.8 199.5,244.7 200.5,244.6 201.5,244.6 202.5,244.5 203.5,244.5 204.5,244.4 205.5,244.4 206.5,244.3 207.5,244.3 208.5,244.3 209.5,244.2 210.5,244.2 211.5,244.2 212.5,244.2 213.5,244.2 214.5,244.1 215.5,244.1 216.5,244.1 L216.5,269.6 215.5,269.6 214.5,269.5 213.5,269.5 212.5,269.5 211.5,269.4 210.5,269.4 209.5,269.4 208.5,269.3 207.5,269.3 206.5,269.3 205.5,269.3 204.5,269.3 203.5,269.3 202.5,269.3 201.5,269.3 200.5,269.3 199.5,269.3 198.5,269.3 197.5,269.4 196.5,269.4 195.5,269.4 194.5,269.5 193.5,269.6 192.5,269.6 191.5,269.7 190.5,269.8 189.5,269.9 188.5,270.0 187.5,270.2 186.5,270.3 185.5,270.4 184.5,270.6 183.5,270.7 182.5,270.9 181.5,271.1 180.5,271.2 179.5,271.4 178.5,271.5 177.5,271.7 176.5,271.8 175.5,272.0 174.5,272.2 173.5,272.3 172.5,272.5 171.5,272.7 170.5,272.9 169.5,273.0 168.5,273.2 167.5,273.3 166.5,273.5 165.5,273.6 164.5,273.8 163.5,273.9 162.5,274.0 161.5,274.2 160.5,274.3 159.5,274.5 158.5,274.8 157.5,275.0 156.5,275.3 155.5,275.5 154.5,275.8 153.5,276.1 152.5,276.4 151.5,276.7 150.5,277.0 149.5,277.4 148.5,277.7 147.5,278.1 146.5,278.5 145.5,279.0 144.5,279.5 143.5,280.0 142.5,280.5 141.5,281.1 140.5,281.7 139.5,282.3 138.5,283.0 137.5,283.7 136.5,284.4 135.5,285.1 134.5,285.9 133.5,286.8 132.5,287.6 131.5,288.6 130.5,289.6 129.5,290.7 128.5,291.8 127.5,293.0 126.5,294.3 125.5,295.6 124.5,296.9 123.5,298.3 122.5,299.7 121.5,301.1 120.5,302.5 119.5,303.9 118.5,305.2 117.5,306.5 116.5,307.8 115.5,309.1 114.5,310.4 113.5,311.7 112.5,313.0 111.5,314.3 110.5,315.7 109.5,317.1 108.5,318.6 107.5,320.0 106.5,321.5 105.5,323.0 104.5,324.6 103.5,326.1 102.5,327.6 101.5,329.1 100.5,330.4 99.5,331.8 98.5,333.1 97.5,334.3 96.5,335.3 95.5,336.1 94.5,336.7 93.5,337.0 92.5,336.9 91.5,336.5 90.5,335.5 89.5,334.0 88.5,331.8 87.5,329.0 86.5,325.7 85.5,321.9 84.5,317.6 83.5,312.9 82.5,308.1 81.5,303.2 80.5,298.3 79.5,293.7 78.5,289.4 77.5,285.4 76.5,281.8 75.5,278.5 74.5,275.5 73.5,272.8 72.5,270.3 71.5,267.9 70.5,265.7 69.5,263.6 68.5,261.8 67.5,260.0 66.5,258.5 65.5,257.1 64.5,255.8 63.5,254.8 62.5,253.9 61.5,253.2 60.5,252.5 59.5,251.9 58.5,251.4 57.5,251.0 56.5,250.6 55.5,250.3 54.5,250.0 53.5,249.8 52.5,249.7 51.5,249.6 50.5,249.5 49.5,249.4 48.5,249.4 47.5,249.3 46.5,249.3 45.5,249.3 44.5,249.3 43.5,249.3 42.5,249.3 41.5,249.3 40.5,249.3 Z" fill="#a00000" fill-opacity="0.220" stroke="none"/>
<path d="M40.5,234.4 41.5,234.2 42.5,233.9 43.5,233.7 44.5,233.5 45.5,233.3 46.5,233.1 47.5,232.9 48.5,232.7 49.5,232.6 50.5,232.5 51.5,232.4 52.5,232.3 53.5,232.3 54.5,232.3 55.5,232.4 56.5,232.6 57.5,232.7 58.5,233.0 59.5,233.3 60.5,233.6 61.5,234.0 62.5,234.5 63.5,235.1 64.5,235.9 65.5,236.8 66.5,237.8 67.5,239.1 68.5,240.5 69.5,242.0 70.5,243.8 71.5,245.6 72.5,247.7 73.5,249.9 74.5,252.4 75.5,255.3 76.5,258.8 77.5,263.0 78.5,267.8 79.5,273.1 80.5,278.3 81.5,283.3 82.5,287.8 83.5,291.8 84.5,295.3 85.5,298.3 86.5,300.7 87.5,302.7 88.5,304.2 89.5,305.4 90.5,306.3 91.5,306.8 92.5,307.1 93.5,307.2 94.5,307.2 95.5,307.1 96.5,307.0 97.5,306.7 98.5,306.4 99.5,305.9 100.5,305.3 101.5,304.7 102.5,303.9 103.5,303.2 104.5,302.4 105.5,301.7 106.5,301.0 107.5,300.3 108.5,299.7 109.5,299.0 110.5,298.5 111.5,297.9 112.5,297.4 113.5,296.9 114.5,296.4 115.5,295.9 116.5,295.3 117.5,294.5 118.5,293.7 119.5,292.9 120.5,292.0 121.5,291.0 122.5,290.0 123.5,288.9 124.5,287.6 125.5,286.3 126.5,284.8 127.5,283.3 128.5,281.6 129.5,279.8 130.5,278.0 131.5,276.1 132.5,274.1 133.5,272.1 134.5,270.0 135.5,268.0 136.5,266.0 137.5,264.1 138.5,262.2 139.5,260.5 140.5,259.0 141.5,257.6 142.5,256.5 143.5,255.7 144.5,255.0 145.5,254.4 146.5,253.9 147.5,253.5 148.5,253.1 149.5,252.7 150.5,252.4 151.5,252.1 152.5,251.8 153.5,251.5 154.5,251.2 155.5,250.8 156.5,250.4 157.5,249.8 158.5,249.2 159.5,248.6 160.5,248.0 161.5,247.4 162.5,246.8 163.5,246.2 164.5,245.6 165.5,245.1 166.5,244.6 167.5,244.1 168.5,243.7 169.5,243.2 170.5,242.7 171.5,242.3 172.5,242.0 173.5,241.7 174.5,241.4 175.5,241.2 176.5,241.0 177.5,240.9 178.5,240.8 179.5,240.7 180.5,240.7 181.5,240.8 182.5,240.9 183.5,241.0 184.5,241.2 185.5,241.4 186.5,241.6 187.5,241.7 188.5,241.9 189.5,242.0 190.5,242.2 191.5,242.3 192.5,242.4 193.5,242.5 194.5,242.6 195.5,242.6 196.5,242.7 197.5,242.8 198.5,242.9 199.5,242.9 200.5,243.0 201.5,243.1 202.5,243.1 203.5,243.2 204.5,243.3 205.5,243.3 206.5,243.4 207.5,243.5 208.5,243.6 209.5,243.7 210.5,243.7 211.5,243.8 212.5,243.9 213.5,244.0 214.5,244.1 215.5,244.2 216.5,244.3 L216.5,268.3 215.5,268.3 214.5,268.3 213.5,268.3 212.5,268.3 211.5,268.3 210.5,268.3 209.5,268.4 208.5,268.4 207.5,268.4 206.5,268.4 205.5,268.4 204.5,268.5 203.5,268.5 202.5,268.5 201.5,268.6 200.5,268.6 199.5,268.6 198.5,268.7 197.5,268.7 196.5,268.7 195.5,268.7 194.5,268.8 193.5,268.8 192.5,268.8 191.5,268.8 190.5,268.8 189.5,268.7 188.5,268.7 187.5,268.6 186.5,268.6 185.5,268.5 184.5,268.4 183.5,268.4 182.5,268.3 181.5,268.3 180.5,268.3 179.5,268.4 178.5,268.5 177.5,268.6 176.5,268.8 175.5,268.9 174.5,269.2 173.5,269.5 172.5,269.8 171.5,270.1 170.5,270.6 169.5,271.0 168.5,271.5 167.5,272.1 166.5,272.7 165.5,273.3 164.5,274.0 163.5,274.8 162.5,275.5 161.5,276.3 160.5,277.1 159.5,277.9 158.5,278.9 157.5,279.9 156.5,280.9 155.5,281.9 154.5,282.8 153.5,283.8 152.5,284.7 151.5,285.6 150.5,286.5 149.5,287.3 148.5,288.0 147.5,288.7 146.5,289.5 145.5,290.3 144.5,291.2 143.5,292.2 142.5,293.3 141.5,294.5 140.5,295.9 139.5,297.3 138.5,298.9 137.5,300.7 136.5,302.5 135.5,304.3 134.5,306.0 133.5,307.7 132.5,309.4 131.5,311.1 130.5,312.7 129.5,314.1 128.5,315.4 127.5,316.6 126.5,317.7 125.5,318.7 124.5,319.6 123.5,320.3 122.5,321.0 121.5,321.6 120.5,322.1 119.5,322.6 118.5,323.0 117.5,323.5 116.5,323.8 115.5,324.2 114.5,324.6 113.5,324.9 112.5,325.3 111.5,325.6 110.5,326.0 109.5,326.5 108.5,326.9 107.5,327.4 106.5,327.9 105.5,328.5 104.5,329.0 103.5,329.5 102.5,330.1 101.5,330.5 100.5,330.9 99.5,331.2 98.5,331.3 97.5,331.2 96.5,331.1 95.5,330.8 94.5,330.4 93.5,329.8 92.5,329.1 91.5,328.2 90.5,327.1 89.5,325.7 88.5,324.2 87.5,322.3 86.5,319.9 85.5,317.2 84.5,314.0 83.5,310.3 82.5,306.3 81.5,301.7 80.5,296.7 79.5,291.4 78.5,286.1 77.5,281.2 76.5,276.9 75.5,273.4 74.5,270.2 73.5,267.5 72.5,265.0 71.5,262.7 70.5,260.6 69.5,258.6 68.5,256.7 67.5,255.1 66.5,253.6 65.5,252.2 64.5,251.1 63.5,250.0 62.5,249.2 61.5,248.4 60.5,247.8 59.5,247.3 58.5,247.0 57.5,246.7 56.5,246.6 55.5,246.4 54.5,246.3 53.5,246.3 52.5,246.3 51.5,246.4 50.5,246.5 49.5,246.6 48.5,246.7 47.5,246.9 46.5,247.1 45.5,247.3 44.5,247.5 43.5,247.7 42.5,247.9 41.5,248.2 40.5,248.4 Z" fill="#000000" fill-opacity="0.270" stroke="none"/>
<path d="M40.5,230.2 41.5,230.1 42.5,229.9 43.5,229.8 44.5,229.7 45.5,229.6 46.5,229.5 47.5,229.5 48.5,229.4 49.5,229.4 50.5,229.5 51.5,229.5 52.5,229.6 53.5,229.8 54.5,229.9 55.5,230.2 56.5,230.5 57.5,230.8 58.5,231.2 59.5,231.7 60.5,232.2 61.5,232.7 62.5,233.4 63.5,234.1 64.5,234.9 65.5,235.9 66.5,237.0 67.5,238.3 68.5,239.8 69.5,241.4 70.5,243.3 71.5,245.5 72.5,247.9 73.5,250.6 74.5,253.6 75.5,256.8 76.5,260.4 77.5,264.1 78.5,268.1 79.5,272.3 80.5,276.8 81.5,281.6 82.5,286.5 83.5,291.4 84.5,296.0 85.5,300.1 86.5,303.6 87.5,306.4 88.5,308.4 89.5,309.8 90.5,310.7 91.5,311.2 92.5,311.4 93.5,311.4 94.5,311.3 95.5,311.0 96.5,310.6 97.5,310.0 98.5,309.4 99.5,308.7 100.5,307.9 101.5,307.0 102.5,306.1 103.5,305.1 104.5,304.1 105.5,303.1 106.5,302.1 107.5,301.1 108.5,300.1 109.5,299.1 110.5,298.2 111.5,297.3 112.5,296.4 113.5,295.5 114.5,294.6 115.5,293.6 116.5,292.5 117.5,291.2 118.5,289.8 119.5,288.3 120.5,286.6 121.5,285.0 122.5,283.3 123.5,281.6 124.5,279.9 125.5,278.3 126.5,276.7 127.5,275.2 128.5,273.8 129.5,272.5 130.5,271.3 131.5,270.3 132.5,269.4 133.5,268.5 134.5,267.7 135.5,266.9 136.5,266.1 137.5,265.4 138.5,264.6 139.5,263.8 140.5,263.1 141.5,262.3 142.5,261.6 143.5,261.0 144.5,260.3 145.5,259.7 146.5,259.2 147.5,258.6 148.5,258.1 149.5,257.6 150.5,257.1 151.5,256.6 152.5,256.2 153.5,255.7 154.5,255.3 155.5,255.0 156.5,254.7 157.5,254.4 158.5,254.1 159.5,253.9 160.5,253.7 161.5,253.4 162.5,253.2 163.5,253.0 164.5,252.7 165.5,252.5 166.5,252.2 167.5,251.9 168.5,251.6 169.5,251.3 170.5,251.1 171.5,250.8 172.5,250.5 173.5,250.3 174.5,250.1 175.5,249.9 176.5,249.7 177.5,249.6 178.5,249.5 179.5,249.4 180.5,249.4 181.5,249.4 182.5,249.4 183.5,249.4 184.5,249.4 185.5,249.5 186.5,249.5 187.5,249.6 188.5,249.6 189.5,249.6 190.5,249.6 191.5,249.5 192.5,249.5 193.5,249.4 194.5,249.4 195.5,249.3 196.5,249.2 197.5,249.2 198.5,249.2 199.5,249.1 200.5,249.1 201.5,249.1 202.5,249.0 203.5,249.0 204.5,249.0 205.5,249.0 206.5,249.0 207.5,248.9 208.5,248.9 209.5,248.9 210.5,248.9 211.5,248.9 212.5,248.9 213.5,248.9 214.5,248.9 215.5,248.9 216.5,248.9 L216.5,266.4 215.5,266.4 214.5,266.5 213.5,266.5 212.5,266.6 211.5,266.6 210.5,266.6 209.5,266.7 208.5,266.7 207.5,266.8 206.5,266.8 205.5,266.9 204.5,266.9 203.5,267.0 202.5,267.0 201.5,267.1 200.5,267.2 199.5,267.2 198.5,267.3 197.5,267.4 196.5,267.5 195.5,267.6 194.5,267.7 193.5,267.7 192.5,267.8 191.5,267.9 190.5,268.0 189.5,268.1 188.5,268.1 187.5,268.2 186.5,268.2 185.5,268.2 184.5,268.3 183.5,268.3 182.5,268.3 181.5,268.4 180.5,268.5 179.5,268.6 178.5,268.7 177.5,268.9 176.5,269.1 175.5,269.3 174.5,269.6 173.5,269.9 172.5,270.2 171.5,270.5 170.5,270.8 169.5,271.2 168.5,271.5 167.5,271.9 166.5,272.2 165.5,272.6 164.5,272.9 163.5,273.2 162.5,273.5 161.5,273.8 160.5,274.1 159.5,274.4 158.5,274.7 157.5,275.0 156.5,275.3 155.5,275.7 154.5,276.1 153.5,276.5 152.5,277.0 151.5,277.5 150.5,278.1 149.5,278.6 148.5,279.2 147.5,279.8 146.5,280.3 145.5,281.0 144.5,281.6 143.5,282.3 142.5,283.0 141.5,283.7 140.5,284.5 139.5,285.3 138.5,286.2 137.5,287.0 136.5,287.8 135.5,288.6 134.5,289.4 133.5,290.3 132.5,291.2 131.5,292.2 130.5,293.3 129.5,294.5 128.5,295.8 127.5,297.2 126.5,298.7 125.5,300.3 124.5,301.9 123.5,303.6 122.5,305.3 121.5,307.0 120.5,308.6 119.5,310.3 118.5,311.8 117.5,313.2 116.5,314.5 115.5,315.6 114.5,316.6 113.5,317.5 112.5,318.4 111.5,319.3 110.5,320.2 109.5,321.1 108.5,322.1 107.5,323.1 106.5,324.1 105.5,325.1 104.5,326.1 103.5,327.1 102.5,328.1 101.5,329.0 100.5,329.9 99.5,330.7 98.5,331.4 97.5,332.0 96.5,332.6 95.5,333.0 94.5,333.2 93.5,333.3 92.5,333.2 91.5,332.9 90.5,332.3 89.5,331.3 88.5,329.8 87.5,327.7 86.5,324.8 85.5,321.2 84.5,316.9 83.5,312.2 82.5,307.3 81.5,302.2 80.5,297.4 79.5,292.8 78.5,288.5 77.5,284.4 76.5,280.5 75.5,276.9 74.5,273.4 73.5,270.3 72.5,267.3 71.5,264.7 70.5,262.3 69.5,260.2 68.5,258.3 67.5,256.6 66.5,255.1 65.5,253.8 64.5,252.6 63.5,251.5 62.5,250.5 61.5,249.7 60.5,249.0 59.5,248.3 58.5,247.7 57.5,247.2 56.5,246.8 55.5,246.4 54.5,246.1 53.5,245.8 52.5,245.6 51.5,245.4 50.5,245.3 49.5,245.2 48.5,245.1 47.5,245.1 46.5,245.1 45.5,245.1 44.5,245.1 43.5,245.1 42.5,245.1 41.5,245.2 40.5,245.2 Z" fill="#00a000" fill-opacity="0.300" stroke="none"/>
<line x1="86.50" y1="350.00" x2="86.50" y2="218.50" stroke="#1a1a1a" stroke-width="1.7" stroke-dasharray="4.6,4.35"/>
<path d="M40.5,243.3 41.5,243.2 42.5,243.2 43.5,243.1 44.5,243.0 45.5,243.0 46.5,242.9 47.5,242.9 48.5,242.8 49.5,242.8 50.5,242.8 51.5,242.8 52.5,242.9 53.5,243.0 54.5,243.1 55.5,243.3 56.5,243.5 57.5,243.8 58.5,244.2 59.5,244.6 60.5,245.2 61.5,245.7 62.5,246.4 63.5,247.2 64.5,248.2 65.5,249.4 66.5,250.7 67.5,252.2 68.5,253.9 69.5,255.7 70.5,257.6 71.5,259.7 72.5,261.9 73.5,264.3 74.5,266.8 75.5,269.7 76.5,272.8 77.5,276.3 78.5,280.2 79.5,284.3 80.5,288.8 81.5,293.4 82.5,298.2 83.5,302.9 84.5,307.4 85.5,311.6 86.5,315.3 87.5,318.4 88.5,321.0 89.5,323.1 90.5,324.6 91.5,325.6 92.5,326.2 93.5,326.3 94.5,326.1 95.5,325.7 96.5,325.0 97.5,324.1 98.5,323.0 99.5,321.8 100.5,320.4 101.5,318.9 102.5,317.4 103.5,315.7 104.5,314.1 105.5,312.5 106.5,310.9 107.5,309.3 108.5,307.7 109.5,306.2 110.5,304.7 111.5,303.2 112.5,301.7 113.5,300.3 114.5,298.9 115.5,297.5 116.5,296.1 117.5,294.7 118.5,293.3 119.5,292.0 120.5,290.6 121.5,289.2 122.5,287.8 123.5,286.5 124.5,285.2 125.5,283.9 126.5,282.6 127.5,281.4 128.5,280.2 129.5,279.1 130.5,278.1 131.5,277.1 132.5,276.3 133.5,275.4 134.5,274.7 135.5,273.9 136.5,273.2 137.5,272.6 138.5,271.9 139.5,271.3 140.5,270.7 141.5,270.2 142.5,269.6 143.5,269.1 144.5,268.7 145.5,268.3 146.5,267.9 147.5,267.5 148.5,267.2 149.5,266.8 150.5,266.5 151.5,266.3 152.5,266.0 153.5,265.8 154.5,265.5 155.5,265.3 156.5,265.1 157.5,264.9 158.5,264.7 159.5,264.5 160.5,264.3 161.5,264.1 162.5,264.0 163.5,263.8 164.5,263.6 165.5,263.4 166.5,263.3 167.5,263.1 168.5,262.9 169.5,262.7 170.5,262.5 171.5,262.3 172.5,262.1 173.5,261.9 174.5,261.7 175.5,261.5 176.5,261.3 177.5,261.1 178.5,260.9 179.5,260.7 180.5,260.5 181.5,260.3 182.5,260.1 183.5,259.9 184.5,259.7 185.5,259.5 186.5,259.4 187.5,259.2 188.5,259.0 189.5,258.9 190.5,258.7 191.5,258.6 192.5,258.5 193.5,258.4 194.5,258.3 195.5,258.2 196.5,258.1 197.5,258.0 198.5,258.0 199.5,257.9 200.5,257.8 201.5,257.8 202.5,257.8 203.5,257.7 204.5,257.7 205.5,257.7 206.5,257.6 207.5,257.6 208.5,257.6 209.5,257.6 210.5,257.6 211.5,257.6 212.5,257.6 213.5,257.6 214.5,257.6 215.5,257.6 216.5,257.6" fill="none" stroke="#e8200c" stroke-width="2.00" stroke-linejoin="round"/>
<path d="M40.5,241.4 41.5,241.2 42.5,240.9 43.5,240.7 44.5,240.5 45.5,240.3 46.5,240.1 47.5,239.9 48.5,239.7 49.5,239.6 50.5,239.5 51.5,239.4 52.5,239.3 53.5,239.3 54.5,239.3 55.5,239.4 56.5,239.6 57.5,239.7 58.5,240.0 59.5,240.3 60.5,240.7 61.5,241.2 62.5,241.8 63.5,242.6 64.5,243.5 65.5,244.5 66.5,245.7 67.5,247.1 68.5,248.6 69.5,250.3 70.5,252.2 71.5,254.2 72.5,256.3 73.5,258.7 74.5,261.3 75.5,264.3 76.5,267.8 77.5,272.0 78.5,276.8 79.5,282.1 80.5,287.3 81.5,292.3 82.5,296.8 83.5,300.8 84.5,304.3 85.5,307.5 86.5,310.2 87.5,312.4 88.5,314.3 89.5,315.8 90.5,316.9 91.5,317.7 92.5,318.3 93.5,318.7 94.5,319.0 95.5,319.1 96.5,319.1 97.5,319.0 98.5,318.7 99.5,318.4 100.5,317.9 101.5,317.3 102.5,316.7 103.5,316.0 104.5,315.3 105.5,314.7 106.5,314.0 107.5,313.3 108.5,312.7 109.5,312.0 110.5,311.5 111.5,310.9 112.5,310.4 113.5,309.9 114.5,309.4 115.5,308.9 116.5,308.4 117.5,307.8 118.5,307.3 119.5,306.6 120.5,306.0 121.5,305.2 122.5,304.4 123.5,303.5 124.5,302.4 125.5,301.3 126.5,300.1 127.5,298.8 128.5,297.3 129.5,295.7 130.5,294.0 131.5,292.2 132.5,290.3 133.5,288.4 134.5,286.4 135.5,284.4 136.5,282.5 137.5,280.7 138.5,278.9 139.5,277.3 140.5,275.9 141.5,274.5 142.5,273.3 143.5,272.2 144.5,271.2 145.5,270.3 146.5,269.5 147.5,268.7 148.5,268.0 149.5,267.3 150.5,266.7 151.5,266.1 152.5,265.4 153.5,264.8 154.5,264.2 155.5,263.5 156.5,262.8 157.5,262.2 158.5,261.5 159.5,260.8 160.5,260.1 161.5,259.4 162.5,258.7 163.5,258.0 164.5,257.4 165.5,256.8 166.5,256.2 167.5,255.7 168.5,255.2 169.5,254.8 170.5,254.4 171.5,254.1 172.5,253.8 173.5,253.5 174.5,253.3 175.5,253.2 176.5,253.1 177.5,253.0 178.5,253.0 179.5,252.9 180.5,253.0 181.5,253.0 182.5,253.1 183.5,253.2 184.5,253.4 185.5,253.5 186.5,253.7 187.5,253.8 188.5,253.9 189.5,254.0 190.5,254.1 191.5,254.2 192.5,254.3 193.5,254.3 194.5,254.4 195.5,254.4 196.5,254.5 197.5,254.5 198.5,254.5 199.5,254.6 200.5,254.6 201.5,254.6 202.5,254.6 203.5,254.7 204.5,254.7 205.5,254.7 206.5,254.8 207.5,254.8 208.5,254.9 209.5,254.9 210.5,255.0 211.5,255.0 212.5,255.1 213.5,255.1 214.5,255.2 215.5,255.2 216.5,255.3" fill="none" stroke="#000000" stroke-width="2.20" stroke-linejoin="round"/>
<path d="M40.5,237.2 41.5,237.1 42.5,237.0 43.5,236.9 44.5,236.8 45.5,236.8 46.5,236.7 47.5,236.7 48.5,236.7 49.5,236.7 50.5,236.7 51.5,236.8 52.5,236.9 53.5,237.1 54.5,237.3 55.5,237.6 56.5,237.9 57.5,238.2 58.5,238.7 59.5,239.2 60.5,239.8 61.5,240.5 62.5,241.3 63.5,242.2 64.5,243.2 65.5,244.3 66.5,245.6 67.5,247.1 68.5,248.7 69.5,250.5 70.5,252.6 71.5,254.9 72.5,257.5 73.5,260.3 74.5,263.5 75.5,266.9 76.5,270.5 77.5,274.3 78.5,278.3 79.5,282.5 80.5,287.1 81.5,291.9 82.5,296.9 83.5,301.8 84.5,306.5 85.5,310.6 86.5,314.2 87.5,317.0 88.5,319.1 89.5,320.5 90.5,321.5 91.5,322.0 92.5,322.3 93.5,322.4 94.5,322.3 95.5,322.0 96.5,321.6 97.5,321.0 98.5,320.4 99.5,319.7 100.5,318.9 101.5,318.0 102.5,317.1 103.5,316.1 104.5,315.1 105.5,314.1 106.5,313.1 107.5,312.1 108.5,311.1 109.5,310.1 110.5,309.2 111.5,308.3 112.5,307.4 113.5,306.5 114.5,305.6 115.5,304.6 116.5,303.5 117.5,302.2 118.5,300.8 119.5,299.3 120.5,297.6 121.5,296.0 122.5,294.3 123.5,292.6 124.5,290.9 125.5,289.3 126.5,287.7 127.5,286.2 128.5,284.8 129.5,283.5 130.5,282.3 131.5,281.2 132.5,280.3 133.5,279.4 134.5,278.5 135.5,277.7 136.5,276.9 137.5,276.1 138.5,275.3 139.5,274.5 140.5,273.7 141.5,272.9 142.5,272.2 143.5,271.5 144.5,270.9 145.5,270.2 146.5,269.6 147.5,269.1 148.5,268.5 149.5,268.0 150.5,267.4 151.5,266.9 152.5,266.4 153.5,266.0 154.5,265.5 155.5,265.1 156.5,264.8 157.5,264.5 158.5,264.2 159.5,263.9 160.5,263.6 161.5,263.4 162.5,263.1 163.5,262.8 164.5,262.5 165.5,262.2 166.5,261.9 167.5,261.5 168.5,261.2 169.5,260.9 170.5,260.5 171.5,260.2 172.5,259.9 173.5,259.6 174.5,259.4 175.5,259.1 176.5,258.9 177.5,258.7 178.5,258.6 179.5,258.5 180.5,258.4 181.5,258.3 182.5,258.2 183.5,258.2 184.5,258.2 185.5,258.2 186.5,258.2 187.5,258.2 188.5,258.2 189.5,258.1 190.5,258.1 191.5,258.0 192.5,257.9 193.5,257.8 194.5,257.8 195.5,257.7 196.5,257.6 197.5,257.6 198.5,257.5 199.5,257.4 200.5,257.4 201.5,257.3 202.5,257.3 203.5,257.3 204.5,257.2 205.5,257.2 206.5,257.1 207.5,257.1 208.5,257.1 209.5,257.1 210.5,257.0 211.5,257.0 212.5,257.0 213.5,257.0 214.5,256.9 215.5,256.9 216.5,256.9" fill="none" stroke="#18a818" stroke-width="2.40" stroke-linejoin="round"/>
<line x1="115.00" y1="229.30" x2="136.80" y2="229.30" stroke="#0000cc" stroke-width="3"/>
</g>
<path d="M40.50,218.50 H216.50 V350.50 H40.50 Z" fill="none" stroke="#6a6a6a" stroke-width="1.1"/>
<path d="M40.50,350.50 v2.0 M40.50,218.50 v-2.0 M58.10,350.50 v1.3 M58.10,218.50 v-1.3 M75.70,350.50 v1.3 M75.70,218.50 v-1.3 M93.30,350.50 v1.3 M93.30,218.50 v-1.3 M110.90,350.50 v1.3 M110.90,218.50 v-1.3 M128.50,350.50 v2.0 M128.50,218.50 v-2.0 M146.10,350.50 v1.3 M146.10,218.50 v-1.3 M163.70,350.50 v1.3 M163.70,218.50 v-1.3 M181.30,350.50 v1.3 M181.30,218.50 v-1.3 M198.90,350.50 v1.3 M198.90,218.50 v-1.3 M216.50,350.50 v2.0 M216.50,218.50 v-2.0 M40.50,349.69 h-1.3 M216.50,349.69 h1.3 M40.50,341.20 h-2.0 M216.50,341.20 h2.0 M40.50,332.71 h-1.3 M216.50,332.71 h1.3 M40.50,324.22 h-1.3 M216.50,324.22 h1.3 M40.50,315.73 h-1.3 M216.50,315.73 h1.3 M40.50,307.24 h-1.3 M216.50,307.24 h1.3 M40.50,298.75 h-2.0 M216.50,298.75 h2.0 M40.50,290.26 h-1.3 M216.50,290.26 h1.3 M40.50,281.77 h-1.3 M216.50,281.77 h1.3 M40.50,273.28 h-1.3 M216.50,273.28 h1.3 M40.50,264.79 h-1.3 M216.50,264.79 h1.3 M40.50,256.30 h-2.0 M216.50,256.30 h2.0 M40.50,247.81 h-1.3 M216.50,247.81 h1.3 M40.50,239.32 h-1.3 M216.50,239.32 h1.3 M40.50,230.83 h-1.3 M216.50,230.83 h1.3 M40.50,222.34 h-1.3 M216.50,222.34 h1.3" stroke="#6a6a6a" stroke-width="1" fill="none"/>
<text x="40.50" y="366.60" text-anchor="middle" font-size="12.5">0</text>
<text x="128.50" y="366.60" text-anchor="middle" font-size="12.5">50</text>
<text x="216.50" y="366.60" text-anchor="middle" font-size="12.5">100</text>
<text x="35.50" y="260.90" text-anchor="end" font-size="12.5">0</text>
<text x="35.50" y="303.35" text-anchor="end" font-size="12.5">-0.5</text>
<text x="35.50" y="345.80" text-anchor="end" font-size="12.5">-1</text>
<text x="36.50" y="381.40" font-size="14" textLength="61.20" lengthAdjust="spacingAndGlyphs">percentage</text>
<text x="101.80" y="381.40" font-size="14" textLength="11.90" lengthAdjust="spacingAndGlyphs">of</text>
<text x="116.00" y="381.40" font-size="14" textLength="25.70" lengthAdjust="spacingAndGlyphs">STS</text>
<text x="146.60" y="381.40" font-size="14" textLength="57.60" lengthAdjust="spacingAndGlyphs">movement</text>
<text x="209.90" y="381.40" font-size="14" textLength="10.30" lengthAdjust="spacingAndGlyphs">[-]</text>
<text x="94.20" y="207.90" font-size="14" textLength="69.10" lengthAdjust="spacingAndGlyphs">hip moment</text>
<text x="2.20" y="210.40" font-size="26" font-weight="bold">d</text>
<text transform="translate(10.40,344.10) rotate(-90)" x="0" y="0" font-size="14" textLength="119.60" lengthAdjust="spacingAndGlyphs">Hip Moment[Nm/kg]</text>
<clipPath id="clipe"><rect x="277.50" y="218.50" width="180.00" height="132.00"/></clipPath>
<g clip-path="url(#clipe)">
<path d="M277.5,315.5 278.5,315.5 279.5,315.6 280.5,315.6 281.5,315.6 282.5,315.6 283.5,315.7 284.5,315.7 285.5,315.7 286.5,315.7 287.5,315.7 288.5,315.7 289.5,315.7 290.5,315.7 291.5,315.6 292.5,315.6 293.5,315.6 294.5,315.5 295.5,315.5 296.5,315.4 297.5,315.3 298.5,315.3 299.5,315.2 300.5,315.1 301.5,314.8 302.5,314.5 303.5,314.0 304.5,313.3 305.5,312.4 306.5,311.3 307.5,309.9 308.5,308.3 309.5,306.2 310.5,303.5 311.5,299.4 312.5,294.5 313.5,289.5 314.5,284.8 315.5,280.4 316.5,276.3 317.5,272.3 318.5,268.4 319.5,264.7 320.5,261.5 321.5,258.8 322.5,256.7 323.5,254.8 324.5,252.9 325.5,251.1 326.5,249.7 327.5,248.7 328.5,248.1 329.5,247.8 330.5,247.7 331.5,247.6 332.5,247.4 333.5,247.3 334.5,247.5 335.5,247.8 336.5,248.3 337.5,248.9 338.5,249.4 339.5,250.0 340.5,250.7 341.5,251.4 342.5,252.2 343.5,253.1 344.5,254.0 345.5,255.0 346.5,255.9 347.5,256.8 348.5,257.7 349.5,258.7 350.5,259.7 351.5,260.7 352.5,261.8 353.5,262.9 354.5,264.0 355.5,265.2 356.5,266.4 357.5,267.7 358.5,269.0 359.5,270.3 360.5,271.7 361.5,273.1 362.5,274.6 363.5,276.0 364.5,277.4 365.5,278.8 366.5,280.2 367.5,281.4 368.5,282.7 369.5,283.8 370.5,284.8 371.5,285.8 372.5,286.6 373.5,287.4 374.5,288.0 375.5,288.6 376.5,289.2 377.5,289.7 378.5,290.2 379.5,290.6 380.5,290.9 381.5,291.3 382.5,291.7 383.5,292.0 384.5,292.4 385.5,292.7 386.5,293.0 387.5,293.2 388.5,293.4 389.5,293.6 390.5,293.9 391.5,294.4 392.5,295.0 393.5,295.6 394.5,296.4 395.5,297.3 396.5,298.1 397.5,298.9 398.5,299.6 399.5,300.3 400.5,301.0 401.5,301.6 402.5,302.2 403.5,302.7 404.5,303.2 405.5,303.6 406.5,304.0 407.5,304.3 408.5,304.5 409.5,304.8 410.5,305.0 411.5,305.3 412.5,305.5 413.5,305.7 414.5,305.8 415.5,306.0 416.5,306.2 417.5,306.4 418.5,306.6 419.5,306.7 420.5,306.9 421.5,307.1 422.5,307.3 423.5,307.6 424.5,307.8 425.5,308.0 426.5,308.2 427.5,308.5 428.5,308.7 429.5,308.9 430.5,309.1 431.5,309.3 432.5,309.5 433.5,309.6 434.5,309.8 435.5,309.9 436.5,310.1 437.5,310.2 438.5,310.3 439.5,310.4 440.5,310.6 441.5,310.7 442.5,310.8 443.5,310.9 444.5,310.9 445.5,311.0 446.5,311.1 447.5,311.2 448.5,311.3 449.5,311.3 450.5,311.4 451.5,311.5 452.5,311.5 453.5,311.6 454.5,311.6 455.5,311.7 456.5,311.7 457.5,311.8 L457.5,338.3 456.5,338.3 455.5,338.4 454.5,338.4 453.5,338.4 452.5,338.5 451.5,338.5 450.5,338.5 449.5,338.5 448.5,338.6 447.5,338.6 446.5,338.6 445.5,338.6 444.5,338.6 443.5,338.6 442.5,338.6 441.5,338.6 440.5,338.6 439.5,338.5 438.5,338.5 437.5,338.5 436.5,338.4 435.5,338.4 434.5,338.3 433.5,338.3 432.5,338.2 431.5,338.1 430.5,338.0 429.5,337.9 428.5,337.8 427.5,337.7 426.5,337.6 425.5,337.5 424.5,337.4 423.5,337.4 422.5,337.3 421.5,337.2 420.5,337.1 419.5,337.1 418.5,337.0 417.5,337.0 416.5,336.9 415.5,336.9 414.5,336.9 413.5,336.8 412.5,336.7 411.5,336.7 410.5,336.6 409.5,336.5 408.5,336.3 407.5,336.2 406.5,336.0 405.5,335.8 404.5,335.6 403.5,335.3 402.5,335.0 401.5,334.7 400.5,334.3 399.5,333.9 398.5,333.5 397.5,333.0 396.5,332.5 395.5,331.9 394.5,331.3 393.5,330.8 392.5,330.3 391.5,330.0 390.5,329.8 389.5,329.6 388.5,329.4 387.5,329.2 386.5,328.9 385.5,328.6 384.5,328.3 383.5,327.9 382.5,327.5 381.5,327.1 380.5,326.7 379.5,326.4 378.5,325.9 377.5,325.5 376.5,324.9 375.5,324.3 374.5,323.5 373.5,322.6 372.5,321.6 371.5,320.5 370.5,319.2 369.5,317.9 368.5,316.5 367.5,314.9 366.5,313.3 365.5,311.7 364.5,309.9 363.5,308.2 362.5,306.4 361.5,304.6 360.5,302.9 359.5,301.1 358.5,299.4 357.5,297.7 356.5,296.0 355.5,294.4 354.5,292.8 353.5,291.3 352.5,289.8 351.5,288.3 350.5,286.9 349.5,285.5 348.5,284.1 347.5,282.8 346.5,281.5 345.5,280.2 344.5,278.9 343.5,277.7 342.5,276.6 341.5,275.5 340.5,274.5 339.5,273.6 338.5,272.8 337.5,272.0 336.5,271.2 335.5,270.5 334.5,270.0 333.5,269.7 332.5,269.7 331.5,269.9 330.5,270.2 329.5,270.8 328.5,271.7 327.5,273.0 326.5,274.7 325.5,276.8 324.5,279.2 323.5,281.8 322.5,284.3 321.5,286.8 320.5,289.3 319.5,292.5 318.5,296.1 317.5,299.9 316.5,303.9 315.5,307.2 314.5,310.2 313.5,313.5 312.5,317.0 311.5,320.6 310.5,323.2 309.5,324.4 308.5,324.8 307.5,325.1 306.5,325.7 305.5,325.9 304.5,326.0 303.5,326.1 302.5,326.3 301.5,326.3 300.5,326.3 299.5,326.2 298.5,326.2 297.5,326.2 296.5,326.2 295.5,326.3 294.5,326.3 293.5,326.3 292.5,326.3 291.5,326.3 290.5,326.2 289.5,326.2 288.5,326.2 287.5,326.1 286.5,326.1 285.5,326.0 284.5,326.0 283.5,325.9 282.5,325.9 281.5,325.8 280.5,325.7 279.5,325.6 278.5,325.6 277.5,325.5 Z" fill="#a00000" fill-opacity="0.220" stroke="none"/>
<path d="M277.5,311.6 278.5,311.6 279.5,311.6 280.5,311.6 281.5,311.6 282.5,311.6 283.5,311.6 284.5,311.6 285.5,311.6 286.5,311.6 287.5,311.6 288.5,311.6 289.5,311.6 290.5,311.6 291.5,311.6 292.5,311.6 293.5,311.6 294.5,311.6 295.5,311.5 296.5,311.5 297.5,311.4 298.5,311.3 299.5,311.1 300.5,310.5 301.5,309.4 302.5,308.2 303.5,306.3 304.5,303.8 305.5,301.1 306.5,298.0 307.5,294.3 308.5,289.9 309.5,284.7 310.5,279.2 311.5,273.6 312.5,268.1 313.5,262.9 314.5,258.3 315.5,254.2 316.5,250.8 317.5,248.0 318.5,245.0 319.5,242.0 320.5,239.2 321.5,236.6 322.5,234.6 323.5,233.1 324.5,231.9 325.5,231.2 326.5,230.7 327.5,230.6 328.5,230.7 329.5,231.0 330.5,231.6 331.5,231.9 332.5,231.9 333.5,232.0 334.5,232.2 335.5,232.6 336.5,233.1 337.5,233.6 338.5,234.3 339.5,235.1 340.5,236.0 341.5,236.8 342.5,237.7 343.5,238.6 344.5,239.6 345.5,240.6 346.5,241.6 347.5,242.7 348.5,243.7 349.5,244.7 350.5,245.7 351.5,246.6 352.5,247.5 353.5,248.5 354.5,249.4 355.5,250.3 356.5,251.3 357.5,252.2 358.5,253.2 359.5,254.2 360.5,255.1 361.5,256.1 362.5,257.1 363.5,258.1 364.5,259.1 365.5,260.2 366.5,261.4 367.5,262.6 368.5,263.8 369.5,265.0 370.5,266.3 371.5,267.6 372.5,268.9 373.5,270.2 374.5,271.4 375.5,272.6 376.5,273.7 377.5,274.9 378.5,275.9 379.5,276.9 380.5,278.0 381.5,279.1 382.5,280.2 383.5,281.2 384.5,282.1 385.5,283.1 386.5,283.9 387.5,284.8 388.5,285.6 389.5,286.4 390.5,287.2 391.5,287.9 392.5,288.7 393.5,289.4 394.5,290.1 395.5,290.9 396.5,291.6 397.5,292.3 398.5,293.0 399.5,293.8 400.5,294.4 401.5,295.1 402.5,295.8 403.5,296.4 404.5,297.1 405.5,297.7 406.5,298.3 407.5,298.9 408.5,299.5 409.5,300.0 410.5,300.6 411.5,301.1 412.5,301.6 413.5,302.1 414.5,302.6 415.5,303.1 416.5,303.6 417.5,304.0 418.5,304.5 419.5,304.9 420.5,305.3 421.5,305.6 422.5,305.9 423.5,306.2 424.5,306.5 425.5,306.8 426.5,307.1 427.5,307.4 428.5,307.7 429.5,307.9 430.5,308.2 431.5,308.4 432.5,308.6 433.5,308.9 434.5,309.1 435.5,309.3 436.5,309.5 437.5,309.7 438.5,309.9 439.5,310.1 440.5,310.2 441.5,310.4 442.5,310.6 443.5,310.7 444.5,310.9 445.5,311.0 446.5,311.2 447.5,311.3 448.5,311.4 449.5,311.6 450.5,311.7 451.5,311.8 452.5,311.9 453.5,312.1 454.5,312.2 455.5,312.3 456.5,312.4 457.5,312.5 L457.5,337.5 456.5,337.4 455.5,337.3 454.5,337.2 453.5,337.1 452.5,337.0 451.5,336.9 450.5,336.8 449.5,336.7 448.5,336.6 447.5,336.5 446.5,336.4 445.5,336.3 444.5,336.1 443.5,336.0 442.5,335.8 441.5,335.7 440.5,335.5 439.5,335.4 438.5,335.2 437.5,335.0 436.5,334.9 435.5,334.7 434.5,334.5 433.5,334.3 432.5,334.1 431.5,333.9 430.5,333.7 429.5,333.4 428.5,333.2 427.5,332.9 426.5,332.7 425.5,332.4 424.5,332.1 423.5,331.9 422.5,331.6 421.5,331.2 420.5,330.9 419.5,330.6 418.5,330.2 417.5,329.9 416.5,329.5 415.5,329.1 414.5,328.7 413.5,328.3 412.5,327.8 411.5,327.4 410.5,326.9 409.5,326.5 408.5,326.0 407.5,325.5 406.5,324.9 405.5,324.4 404.5,323.9 403.5,323.3 402.5,322.7 401.5,322.1 400.5,321.5 399.5,320.9 398.5,320.2 397.5,319.6 396.5,318.9 395.5,318.2 394.5,317.5 393.5,316.8 392.5,316.1 391.5,315.4 390.5,314.7 389.5,314.0 388.5,313.3 387.5,312.5 386.5,311.7 385.5,310.8 384.5,310.0 383.5,309.0 382.5,308.1 381.5,307.1 380.5,306.0 379.5,304.9 378.5,303.8 377.5,302.7 376.5,301.5 375.5,300.2 374.5,298.9 373.5,297.6 372.5,296.3 371.5,294.9 370.5,293.5 369.5,292.2 368.5,290.8 367.5,289.5 366.5,288.2 365.5,287.0 364.5,285.7 363.5,284.5 362.5,283.3 361.5,282.1 360.5,280.9 359.5,279.8 358.5,278.7 357.5,277.6 356.5,276.5 355.5,275.4 354.5,274.3 353.5,273.3 352.5,272.2 351.5,271.1 350.5,270.1 349.5,269.0 348.5,267.9 347.5,266.8 346.5,265.7 345.5,264.6 344.5,263.5 343.5,262.4 342.5,261.3 341.5,260.3 340.5,259.4 339.5,258.5 338.5,257.7 337.5,257.0 336.5,256.4 335.5,256.0 334.5,255.6 333.5,255.4 332.5,255.3 331.5,255.3 330.5,255.4 329.5,255.5 328.5,255.5 327.5,255.8 326.5,256.4 325.5,257.3 324.5,258.5 323.5,260.0 322.5,262.0 321.5,264.3 320.5,267.1 319.5,270.1 318.5,273.2 317.5,276.2 316.5,279.2 315.5,282.2 314.5,285.6 313.5,289.5 312.5,293.9 311.5,298.7 310.5,303.6 309.5,308.1 308.5,312.1 307.5,315.3 306.5,317.8 305.5,319.5 304.5,320.7 303.5,321.7 302.5,322.4 301.5,322.7 300.5,322.9 299.5,323.1 298.5,323.3 297.5,323.4 296.5,323.5 295.5,323.5 294.5,323.6 293.5,323.6 292.5,323.6 291.5,323.6 290.5,323.6 289.5,323.6 288.5,323.6 287.5,323.6 286.5,323.6 285.5,323.6 284.5,323.6 283.5,323.6 282.5,323.6 281.5,323.6 280.5,323.6 279.5,323.6 278.5,323.6 277.5,323.6 Z" fill="#000000" fill-opacity="0.270" stroke="none"/>
<path d="M277.5,309.3 278.5,309.3 279.5,309.3 280.5,309.2 281.5,309.2 282.5,309.2 283.5,309.2 284.5,309.2 285.5,309.1 286.5,309.1 287.5,309.1 288.5,309.1 289.5,309.1 290.5,309.0 291.5,309.0 292.5,309.0 293.5,308.9 294.5,308.9 295.5,308.9 296.5,308.8 297.5,308.7 298.5,308.6 299.5,308.5 300.5,307.8 301.5,306.5 302.5,305.0 303.5,303.1 304.5,300.4 305.5,296.5 306.5,291.9 307.5,287.5 308.5,283.5 309.5,280.0 310.5,277.0 311.5,274.4 312.5,271.7 313.5,268.9 314.5,266.0 315.5,263.4 316.5,261.0 317.5,258.5 318.5,255.9 319.5,253.6 320.5,251.6 321.5,250.1 322.5,248.9 323.5,248.1 324.5,247.5 325.5,247.1 326.5,246.9 327.5,246.8 328.5,246.7 329.5,246.7 330.5,246.7 331.5,246.7 332.5,246.9 333.5,247.1 334.5,247.5 335.5,248.0 336.5,248.6 337.5,249.3 338.5,250.1 339.5,251.0 340.5,251.9 341.5,252.9 342.5,254.0 343.5,255.0 344.5,256.1 345.5,257.1 346.5,258.1 347.5,259.1 348.5,260.1 349.5,261.1 350.5,262.2 351.5,263.4 352.5,264.6 353.5,265.7 354.5,266.9 355.5,268.0 356.5,269.0 357.5,270.0 358.5,270.9 359.5,271.8 360.5,272.7 361.5,273.7 362.5,274.8 363.5,275.9 364.5,277.1 365.5,278.4 366.5,279.6 367.5,280.8 368.5,282.0 369.5,283.1 370.5,284.2 371.5,285.2 372.5,286.2 373.5,287.1 374.5,288.0 375.5,288.9 376.5,289.8 377.5,290.6 378.5,291.4 379.5,292.2 380.5,292.9 381.5,293.7 382.5,294.5 383.5,295.3 384.5,296.0 385.5,296.6 386.5,297.3 387.5,297.9 388.5,298.4 389.5,299.0 390.5,299.5 391.5,300.0 392.5,300.6 393.5,301.2 394.5,301.8 395.5,302.4 396.5,303.1 397.5,303.8 398.5,304.5 399.5,305.2 400.5,305.8 401.5,306.5 402.5,307.1 403.5,307.7 404.5,308.3 405.5,308.9 406.5,309.5 407.5,310.1 408.5,310.6 409.5,311.1 410.5,311.7 411.5,312.2 412.5,312.6 413.5,313.1 414.5,313.6 415.5,314.0 416.5,314.5 417.5,314.9 418.5,315.3 419.5,315.7 420.5,316.0 421.5,316.2 422.5,316.4 423.5,316.7 424.5,316.8 425.5,317.0 426.5,317.2 427.5,317.3 428.5,317.5 429.5,317.6 430.5,317.7 431.5,317.8 432.5,317.9 433.5,318.0 434.5,318.1 435.5,318.2 436.5,318.2 437.5,318.3 438.5,318.3 439.5,318.4 440.5,318.4 441.5,318.5 442.5,318.5 443.5,318.5 444.5,318.5 445.5,318.6 446.5,318.6 447.5,318.6 448.5,318.6 449.5,318.6 450.5,318.6 451.5,318.6 452.5,318.6 453.5,318.6 454.5,318.6 455.5,318.6 456.5,318.6 457.5,318.6 L457.5,331.2 456.5,331.2 455.5,331.2 454.5,331.2 453.5,331.2 452.5,331.2 451.5,331.2 450.5,331.2 449.5,331.2 448.5,331.2 447.5,331.2 446.5,331.2 445.5,331.1 444.5,331.1 443.5,331.1 442.5,331.1 441.5,331.0 440.5,331.0 439.5,330.9 438.5,330.9 437.5,330.8 436.5,330.8 435.5,330.7 434.5,330.6 433.5,330.6 432.5,330.5 431.5,330.4 430.5,330.3 429.5,330.2 428.5,330.0 427.5,329.9 426.5,329.7 425.5,329.6 424.5,329.4 423.5,329.2 422.5,329.0 421.5,328.8 420.5,328.5 419.5,328.2 418.5,328.0 417.5,327.7 416.5,327.3 415.5,327.0 414.5,326.7 413.5,326.3 412.5,325.9 411.5,325.5 410.5,325.1 409.5,324.7 408.5,324.3 407.5,323.8 406.5,323.4 405.5,322.9 404.5,322.4 403.5,321.9 402.5,321.4 401.5,320.8 400.5,320.3 399.5,319.7 398.5,319.1 397.5,318.5 396.5,317.9 395.5,317.3 394.5,316.7 393.5,316.2 392.5,315.7 391.5,315.2 390.5,314.8 389.5,314.3 388.5,313.9 387.5,313.4 386.5,312.9 385.5,312.3 384.5,311.8 383.5,311.1 382.5,310.5 381.5,309.8 380.5,309.1 379.5,308.3 378.5,307.5 377.5,306.7 376.5,305.9 375.5,305.0 374.5,304.1 373.5,303.2 372.5,302.2 371.5,301.2 370.5,300.2 369.5,299.2 368.5,298.1 367.5,297.0 366.5,295.8 365.5,294.7 364.5,293.5 363.5,292.4 362.5,291.3 361.5,290.3 360.5,289.3 359.5,288.4 358.5,287.5 357.5,286.6 356.5,285.7 355.5,284.6 354.5,283.6 353.5,282.7 352.5,281.7 351.5,280.8 350.5,279.8 349.5,278.9 348.5,278.0 347.5,277.2 346.5,276.4 345.5,275.6 344.5,274.9 343.5,274.1 342.5,273.3 341.5,272.5 340.5,271.8 339.5,271.0 338.5,270.3 337.5,269.6 336.5,269.1 335.5,268.6 334.5,268.3 333.5,268.0 332.5,267.9 331.5,267.9 330.5,268.0 329.5,268.3 328.5,268.8 327.5,269.4 326.5,270.0 325.5,270.8 324.5,271.4 323.5,272.1 322.5,273.1 321.5,274.4 320.5,276.0 319.5,278.2 318.5,280.7 317.5,283.4 316.5,286.1 315.5,288.6 314.5,291.1 313.5,293.5 312.5,295.9 311.5,298.1 310.5,300.3 309.5,302.5 308.5,304.9 307.5,307.9 306.5,311.3 305.5,314.5 304.5,316.8 303.5,317.8 302.5,318.3 301.5,318.4 300.5,318.5 299.5,318.5 298.5,318.6 297.5,318.7 296.5,318.7 295.5,318.8 294.5,318.8 293.5,318.8 292.5,318.8 291.5,318.8 290.5,318.8 289.5,318.8 288.5,318.8 287.5,318.8 286.5,318.8 285.5,318.8 284.5,318.8 283.5,318.8 282.5,318.8 281.5,318.8 280.5,318.8 279.5,318.8 278.5,318.8 277.5,318.8 Z" fill="#00a000" fill-opacity="0.300" stroke="none"/>
<line x1="324.20" y1="350.00" x2="324.20" y2="218.50" stroke="#1a1a1a" stroke-width="1.7" stroke-dasharray="4.6,4.35"/>
<path d="M277.5,320.5 278.5,320.5 279.5,320.6 280.5,320.6 281.5,320.6 282.5,320.6 283.5,320.7 284.5,320.7 285.5,320.7 286.5,320.7 287.5,320.7 288.5,320.7 289.5,320.7 290.5,320.7 291.5,320.6 292.5,320.6 293.5,320.6 294.5,320.5 295.5,320.5 296.5,320.4 297.5,320.3 298.5,320.3 299.5,320.2 300.5,320.2 301.5,320.1 302.5,320.0 303.5,319.7 304.5,319.2 305.5,318.5 306.5,317.6 307.5,316.4 308.5,315.0 309.5,313.1 310.5,310.4 311.5,306.3 312.5,301.3 313.5,296.2 314.5,291.4 315.5,287.0 316.5,282.8 317.5,278.7 318.5,274.7 319.5,270.9 320.5,267.6 321.5,264.8 322.5,262.6 323.5,260.5 324.5,258.5 325.5,256.6 326.5,254.9 327.5,253.8 328.5,253.0 329.5,252.5 330.5,252.3 331.5,252.2 332.5,252.2 333.5,252.4 334.5,252.9 335.5,253.5 336.5,254.2 337.5,255.0 338.5,255.8 339.5,256.6 340.5,257.5 341.5,258.5 342.5,259.6 343.5,260.7 344.5,261.9 345.5,263.2 346.5,264.5 347.5,265.8 348.5,267.1 349.5,268.5 350.5,269.9 351.5,271.3 352.5,272.8 353.5,274.3 354.5,275.8 355.5,277.4 356.5,279.0 357.5,280.7 358.5,282.4 359.5,284.1 360.5,285.9 361.5,287.6 362.5,289.4 363.5,291.2 364.5,292.9 365.5,294.7 366.5,296.3 367.5,297.9 368.5,299.5 369.5,301.0 370.5,302.3 371.5,303.6 372.5,304.8 373.5,305.9 374.5,306.8 375.5,307.6 376.5,308.3 377.5,308.9 378.5,309.4 379.5,309.9 380.5,310.3 381.5,310.7 382.5,311.2 383.5,311.6 384.5,312.0 385.5,312.4 386.5,312.8 387.5,313.1 388.5,313.3 389.5,313.6 390.5,313.8 391.5,314.1 392.5,314.5 393.5,314.9 394.5,315.5 395.5,316.2 396.5,316.8 397.5,317.4 398.5,317.9 399.5,318.4 400.5,318.9 401.5,319.3 402.5,319.7 403.5,320.0 404.5,320.3 405.5,320.6 406.5,320.8 407.5,321.1 408.5,321.3 409.5,321.4 410.5,321.6 411.5,321.7 412.5,321.9 413.5,322.0 414.5,322.1 415.5,322.2 416.5,322.3 417.5,322.4 418.5,322.5 419.5,322.6 420.5,322.7 421.5,322.8 422.5,322.9 423.5,323.1 424.5,323.2 425.5,323.4 426.5,323.5 427.5,323.7 428.5,323.8 429.5,323.9 430.5,324.1 431.5,324.2 432.5,324.4 433.5,324.5 434.5,324.6 435.5,324.7 436.5,324.8 437.5,324.9 438.5,325.0 439.5,325.1 440.5,325.2 441.5,325.2 442.5,325.3 443.5,325.4 444.5,325.4 445.5,325.5 446.5,325.5 447.5,325.5 448.5,325.6 449.5,325.6 450.5,325.6 451.5,325.7 452.5,325.7 453.5,325.7 454.5,325.7 455.5,325.8 456.5,325.8 457.5,325.8" fill="none" stroke="#e8200c" stroke-width="2.00" stroke-linejoin="round"/>
<path d="M277.5,317.6 278.5,317.6 279.5,317.6 280.5,317.6 281.5,317.6 282.5,317.6 283.5,317.6 284.5,317.6 285.5,317.6 286.5,317.6 287.5,317.6 288.5,317.6 289.5,317.6 290.5,317.6 291.5,317.6 292.5,317.6 293.5,317.6 294.5,317.6 295.5,317.5 296.5,317.5 297.5,317.4 298.5,317.3 299.5,317.1 300.5,316.8 301.5,316.4 302.5,315.9 303.5,315.0 304.5,313.8 305.5,312.4 306.5,310.5 307.5,307.8 308.5,304.4 309.5,300.2 310.5,295.4 311.5,290.1 312.5,284.9 313.5,280.1 314.5,275.8 315.5,272.0 316.5,268.6 317.5,265.2 318.5,261.8 319.5,258.3 320.5,254.9 321.5,251.9 322.5,249.2 323.5,247.0 324.5,245.1 325.5,243.6 326.5,242.5 327.5,241.6 328.5,241.0 329.5,240.6 330.5,240.4 331.5,240.4 332.5,240.5 333.5,240.6 334.5,240.9 335.5,241.3 336.5,241.9 337.5,242.5 338.5,243.3 339.5,244.1 340.5,245.1 341.5,246.1 342.5,247.2 343.5,248.3 344.5,249.5 345.5,250.7 346.5,251.9 347.5,253.2 348.5,254.4 349.5,255.6 350.5,256.8 351.5,258.0 352.5,259.2 353.5,260.4 354.5,261.6 355.5,262.8 356.5,264.0 357.5,265.2 358.5,266.5 359.5,267.7 360.5,268.9 361.5,270.2 362.5,271.4 363.5,272.7 364.5,273.9 365.5,275.2 366.5,276.6 367.5,277.9 368.5,279.3 369.5,280.6 370.5,282.1 371.5,283.5 372.5,284.9 373.5,286.3 374.5,287.7 375.5,289.0 376.5,290.3 377.5,291.5 378.5,292.7 379.5,293.9 380.5,295.0 381.5,296.0 382.5,297.0 383.5,297.9 384.5,298.8 385.5,299.7 386.5,300.5 387.5,301.3 388.5,302.0 389.5,302.8 390.5,303.5 391.5,304.2 392.5,304.8 393.5,305.5 394.5,306.2 395.5,306.8 396.5,307.5 397.5,308.1 398.5,308.8 399.5,309.4 400.5,310.0 401.5,310.6 402.5,311.2 403.5,311.8 404.5,312.3 405.5,312.9 406.5,313.4 407.5,313.9 408.5,314.4 409.5,314.9 410.5,315.4 411.5,315.8 412.5,316.2 413.5,316.7 414.5,317.1 415.5,317.5 416.5,317.9 417.5,318.2 418.5,318.6 419.5,318.9 420.5,319.2 421.5,319.6 422.5,319.9 423.5,320.1 424.5,320.4 425.5,320.7 426.5,321.0 427.5,321.2 428.5,321.4 429.5,321.7 430.5,321.9 431.5,322.1 432.5,322.3 433.5,322.5 434.5,322.7 435.5,322.9 436.5,323.1 437.5,323.2 438.5,323.4 439.5,323.5 440.5,323.7 441.5,323.8 442.5,324.0 443.5,324.1 444.5,324.2 445.5,324.4 446.5,324.5 447.5,324.6 448.5,324.7 449.5,324.8 450.5,324.9 451.5,325.0 452.5,325.1 453.5,325.2 454.5,325.2 455.5,325.3 456.5,325.4 457.5,325.5" fill="none" stroke="#000000" stroke-width="2.20" stroke-linejoin="round"/>
<path d="M277.5,313.8 278.5,313.8 279.5,313.8 280.5,313.8 281.5,313.8 282.5,313.8 283.5,313.8 284.5,313.8 285.5,313.8 286.5,313.8 287.5,313.8 288.5,313.8 289.5,313.8 290.5,313.8 291.5,313.8 292.5,313.8 293.5,313.8 294.5,313.8 295.5,313.8 296.5,313.7 297.5,313.7 298.5,313.6 299.5,313.5 300.5,313.3 301.5,313.0 302.5,312.5 303.5,311.8 304.5,310.4 305.5,307.8 306.5,304.3 307.5,300.6 308.5,297.4 309.5,294.6 310.5,292.1 311.5,289.7 312.5,287.2 313.5,284.6 314.5,281.9 315.5,279.2 316.5,276.3 317.5,273.4 318.5,270.4 319.5,267.6 320.5,265.2 321.5,263.3 322.5,261.8 323.5,260.5 324.5,259.6 325.5,258.8 326.5,258.2 327.5,257.7 328.5,257.3 329.5,256.9 330.5,256.7 331.5,256.7 332.5,256.9 333.5,257.1 334.5,257.5 335.5,258.0 336.5,258.6 337.5,259.3 338.5,260.1 339.5,261.0 340.5,261.9 341.5,262.9 342.5,264.0 343.5,265.0 344.5,266.1 345.5,267.1 346.5,268.2 347.5,269.2 348.5,270.3 349.5,271.4 350.5,272.6 351.5,273.8 352.5,275.1 353.5,276.3 354.5,277.5 355.5,278.7 356.5,279.8 357.5,280.8 358.5,281.8 359.5,282.7 360.5,283.7 361.5,284.7 362.5,285.8 363.5,286.9 364.5,288.1 365.5,289.4 366.5,290.6 367.5,291.8 368.5,293.0 369.5,294.1 370.5,295.2 371.5,296.2 372.5,297.2 373.5,298.1 374.5,299.0 375.5,299.9 376.5,300.8 377.5,301.6 378.5,302.4 379.5,303.2 380.5,303.9 381.5,304.6 382.5,305.3 383.5,305.9 384.5,306.5 385.5,307.1 386.5,307.6 387.5,308.1 388.5,308.6 389.5,309.0 390.5,309.4 391.5,309.9 392.5,310.3 393.5,310.8 394.5,311.3 395.5,311.9 396.5,312.4 397.5,313.0 398.5,313.6 399.5,314.2 400.5,314.8 401.5,315.3 402.5,315.9 403.5,316.4 404.5,316.9 405.5,317.4 406.5,317.8 407.5,318.3 408.5,318.8 409.5,319.2 410.5,319.6 411.5,320.0 412.5,320.4 413.5,320.8 414.5,321.1 415.5,321.5 416.5,321.8 417.5,322.1 418.5,322.4 419.5,322.7 420.5,323.0 421.5,323.2 422.5,323.4 423.5,323.7 424.5,323.8 425.5,324.0 426.5,324.2 427.5,324.3 428.5,324.5 429.5,324.6 430.5,324.7 431.5,324.8 432.5,324.9 433.5,325.0 434.5,325.1 435.5,325.2 436.5,325.2 437.5,325.3 438.5,325.3 439.5,325.4 440.5,325.4 441.5,325.5 442.5,325.5 443.5,325.5 444.5,325.5 445.5,325.6 446.5,325.6 447.5,325.6 448.5,325.6 449.5,325.6 450.5,325.6 451.5,325.6 452.5,325.6 453.5,325.6 454.5,325.6 455.5,325.6 456.5,325.6 457.5,325.6" fill="none" stroke="#18a818" stroke-width="2.40" stroke-linejoin="round"/>
<line x1="322.60" y1="229.20" x2="388.40" y2="229.20" stroke="#0000cc" stroke-width="3"/>
</g>
<path d="M277.50,218.50 H457.50 V350.50 H277.50 Z" fill="none" stroke="#6a6a6a" stroke-width="1.1"/>
<path d="M277.50,350.50 v2.0 M277.50,218.50 v-2.0 M295.50,350.50 v1.3 M295.50,218.50 v-1.3 M313.50,350.50 v1.3 M313.50,218.50 v-1.3 M331.50,350.50 v1.3 M331.50,218.50 v-1.3 M349.50,350.50 v1.3 M349.50,218.50 v-1.3 M367.50,350.50 v2.0 M367.50,218.50 v-2.0 M385.50,350.50 v1.3 M385.50,218.50 v-1.3 M403.50,350.50 v1.3 M403.50,218.50 v-1.3 M421.50,350.50 v1.3 M421.50,218.50 v-1.3 M439.50,350.50 v1.3 M439.50,218.50 v-1.3 M457.50,350.50 v2.0 M457.50,218.50 v-2.0 M277.50,345.21 h-1.3 M457.50,345.21 h1.3 M277.50,337.54 h-1.3 M457.50,337.54 h1.3 M277.50,329.87 h-1.3 M457.50,329.87 h1.3 M277.50,322.20 h-2.0 M457.50,322.20 h2.0 M277.50,314.53 h-1.3 M457.50,314.53 h1.3 M277.50,306.86 h-1.3 M457.50,306.86 h1.3 M277.50,299.19 h-1.3 M457.50,299.19 h1.3 M277.50,291.52 h-1.3 M457.50,291.52 h1.3 M277.50,283.85 h-2.0 M457.50,283.85 h2.0 M277.50,276.18 h-1.3 M457.50,276.18 h1.3 M277.50,268.51 h-1.3 M457.50,268.51 h1.3 M277.50,260.84 h-1.3 M457.50,260.84 h1.3 M277.50,253.17 h-1.3 M457.50,253.17 h1.3 M277.50,245.50 h-2.0 M457.50,245.50 h2.0 M277.50,237.83 h-1.3 M457.50,237.83 h1.3 M277.50,230.16 h-1.3 M457.50,230.16 h1.3 M277.50,222.49 h-1.3 M457.50,222.49 h1.3" stroke="#6a6a6a" stroke-width="1" fill="none"/>
<text x="277.50" y="366.60" text-anchor="middle" font-size="12.5">0</text>
<text x="367.50" y="366.60" text-anchor="middle" font-size="12.5">50</text>
<text x="457.50" y="366.60" text-anchor="middle" font-size="12.5">100</text>
<text x="272.50" y="326.80" text-anchor="end" font-size="12.5">0</text>
<text x="272.50" y="288.45" text-anchor="end" font-size="12.5">0.5</text>
<text x="272.50" y="250.10" text-anchor="end" font-size="12.5">1</text>
<text x="275.50" y="381.40" font-size="14" textLength="61.20" lengthAdjust="spacingAndGlyphs">percentage</text>
<text x="340.80" y="381.40" font-size="14" textLength="11.90" lengthAdjust="spacingAndGlyphs">of</text>
<text x="355.00" y="381.40" font-size="14" textLength="25.70" lengthAdjust="spacingAndGlyphs">STS</text>
<text x="385.60" y="381.40" font-size="14" textLength="57.60" lengthAdjust="spacingAndGlyphs">movement</text>
<text x="448.90" y="381.40" font-size="14" textLength="10.30" lengthAdjust="spacingAndGlyphs">[-]</text>
<text x="329.90" y="207.90" font-size="14" textLength="78.60" lengthAdjust="spacingAndGlyphs">knee moment</text>
<text x="240.60" y="210.40" font-size="26" font-weight="bold">e</text>
<text transform="translate(251.40,354.40) rotate(-90)" x="0" y="0" font-size="14" textLength="134.50" lengthAdjust="spacingAndGlyphs">Knee Moment[Nm/kg]</text>
<clipPath id="clipf"><rect x="522.50" y="218.50" width="176.00" height="132.00"/></clipPath>
<g clip-path="url(#clipf)">
<path d="M522.5,279.8 523.5,279.7 524.5,279.6 525.5,279.5 526.5,279.5 527.5,279.4 528.5,279.3 529.5,279.2 530.5,279.1 531.5,279.0 532.5,278.9 533.5,278.8 534.5,278.7 535.5,278.6 536.5,278.5 537.5,278.4 538.5,278.3 539.5,278.2 540.5,278.1 541.5,278.0 542.5,277.9 543.5,277.8 544.5,277.7 545.5,277.6 546.5,277.5 547.5,277.5 548.5,277.4 549.5,277.4 550.5,277.4 551.5,277.4 552.5,277.5 553.5,277.5 554.5,277.6 555.5,277.7 556.5,277.9 557.5,278.1 558.5,278.3 559.5,278.6 560.5,279.0 561.5,279.3 562.5,279.7 563.5,280.1 564.5,280.6 565.5,281.1 566.5,281.6 567.5,282.1 568.5,282.6 569.5,283.1 570.5,283.6 571.5,284.0 572.5,284.4 573.5,284.8 574.5,285.2 575.5,285.5 576.5,285.8 577.5,286.1 578.5,286.3 579.5,286.6 580.5,286.7 581.5,286.9 582.5,287.1 583.5,287.2 584.5,287.3 585.5,287.4 586.5,287.5 587.5,287.5 588.5,287.6 589.5,287.6 590.5,287.6 591.5,287.6 592.5,287.6 593.5,287.6 594.5,287.6 595.5,287.5 596.5,287.5 597.5,287.4 598.5,287.3 599.5,287.1 600.5,287.0 601.5,286.9 602.5,286.8 603.5,286.6 604.5,286.5 605.5,286.3 606.5,286.2 607.5,286.2 608.5,286.1 609.5,286.1 610.5,286.1 611.5,286.2 612.5,286.3 613.5,286.4 614.5,286.6 615.5,286.7 616.5,286.9 617.5,287.1 618.5,287.3 619.5,287.5 620.5,287.6 621.5,287.8 622.5,288.0 623.5,288.2 624.5,288.4 625.5,288.6 626.5,288.8 627.5,289.0 628.5,289.1 629.5,289.3 630.5,289.4 631.5,289.6 632.5,289.7 633.5,289.8 634.5,290.0 635.5,290.1 636.5,290.2 637.5,290.3 638.5,290.4 639.5,290.5 640.5,290.6 641.5,290.7 642.5,290.8 643.5,290.9 644.5,291.0 645.5,291.1 646.5,291.2 647.5,291.3 648.5,291.4 649.5,291.5 650.5,291.6 651.5,291.7 652.5,291.7 653.5,291.8 654.5,291.9 655.5,291.9 656.5,292.0 657.5,292.0 658.5,292.1 659.5,292.1 660.5,292.2 661.5,292.2 662.5,292.3 663.5,292.3 664.5,292.3 665.5,292.4 666.5,292.4 667.5,292.5 668.5,292.5 669.5,292.5 670.5,292.6 671.5,292.6 672.5,292.7 673.5,292.8 674.5,292.8 675.5,292.9 676.5,292.9 677.5,293.0 678.5,293.0 679.5,293.1 680.5,293.1 681.5,293.2 682.5,293.2 683.5,293.2 684.5,293.3 685.5,293.3 686.5,293.3 687.5,293.3 688.5,293.3 689.5,293.3 690.5,293.2 691.5,293.2 692.5,293.2 693.5,293.1 694.5,293.1 695.5,293.0 696.5,293.0 697.5,293.0 698.5,292.9 L698.5,319.9 697.5,320.0 696.5,320.0 695.5,320.1 694.5,320.1 693.5,320.1 692.5,320.2 691.5,320.2 690.5,320.3 689.5,320.3 688.5,320.3 687.5,320.3 686.5,320.3 685.5,320.3 684.5,320.3 683.5,320.3 682.5,320.3 681.5,320.2 680.5,320.2 679.5,320.1 678.5,320.1 677.5,320.1 676.5,320.0 675.5,319.9 674.5,319.9 673.5,319.8 672.5,319.8 671.5,319.7 670.5,319.7 669.5,319.6 668.5,319.6 667.5,319.6 666.5,319.5 665.5,319.5 664.5,319.5 663.5,319.4 662.5,319.4 661.5,319.3 660.5,319.3 659.5,319.3 658.5,319.2 657.5,319.2 656.5,319.1 655.5,319.1 654.5,319.0 653.5,319.0 652.5,318.9 651.5,318.8 650.5,318.8 649.5,318.7 648.5,318.6 647.5,318.5 646.5,318.4 645.5,318.4 644.5,318.3 643.5,318.2 642.5,318.1 641.5,318.0 640.5,317.9 639.5,317.8 638.5,317.7 637.5,317.6 636.5,317.5 635.5,317.4 634.5,317.3 633.5,317.2 632.5,317.1 631.5,316.9 630.5,316.8 629.5,316.7 628.5,316.5 627.5,316.4 626.5,316.2 625.5,316.0 624.5,315.8 623.5,315.6 622.5,315.4 621.5,315.2 620.5,314.9 619.5,314.7 618.5,314.5 617.5,314.3 616.5,314.1 615.5,314.0 614.5,313.8 613.5,313.7 612.5,313.6 611.5,313.5 610.5,313.4 609.5,313.4 608.5,313.4 607.5,313.5 606.5,313.5 605.5,313.7 604.5,313.8 603.5,313.9 602.5,314.1 601.5,314.2 600.5,314.4 599.5,314.5 598.5,314.5 597.5,314.6 596.5,314.6 595.5,314.7 594.5,314.7 593.5,314.6 592.5,314.6 591.5,314.6 590.5,314.5 589.5,314.4 588.5,314.1 587.5,313.8 586.5,313.6 585.5,313.3 584.5,313.0 583.5,312.6 582.5,312.3 581.5,311.9 580.5,311.5 579.5,311.1 578.5,310.7 577.5,310.2 576.5,309.8 575.5,309.2 574.5,308.7 573.5,308.1 572.5,307.5 571.5,306.9 570.5,306.2 569.5,305.3 568.5,304.3 567.5,303.2 566.5,302.1 565.5,301.0 564.5,299.9 563.5,298.9 562.5,297.8 561.5,296.9 560.5,296.0 559.5,295.1 558.5,294.3 557.5,293.6 556.5,292.8 555.5,292.2 554.5,291.6 553.5,291.0 552.5,290.6 551.5,290.5 550.5,290.4 549.5,290.3 548.5,290.3 547.5,290.3 546.5,290.3 545.5,290.3 544.5,290.3 543.5,290.3 542.5,290.3 541.5,290.3 540.5,290.4 539.5,290.4 538.5,290.5 537.5,290.5 536.5,290.5 535.5,290.6 534.5,290.6 533.5,290.6 532.5,290.6 531.5,290.7 530.5,290.7 529.5,290.7 528.5,290.7 527.5,290.7 526.5,290.7 525.5,290.8 524.5,290.8 523.5,290.8 522.5,290.8 Z" fill="#a00000" fill-opacity="0.220" stroke="none"/>
<path d="M522.5,276.9 523.5,276.9 524.5,276.8 525.5,276.8 526.5,276.7 527.5,276.7 528.5,276.7 529.5,276.6 530.5,276.6 531.5,276.5 532.5,276.5 533.5,276.4 534.5,276.3 535.5,276.3 536.5,276.2 537.5,276.1 538.5,276.0 539.5,275.9 540.5,275.9 541.5,275.8 542.5,275.7 543.5,275.6 544.5,275.5 545.5,275.4 546.5,275.3 547.5,275.2 548.5,275.2 549.5,275.1 550.5,275.1 551.5,275.0 552.5,275.0 553.5,275.0 554.5,275.0 555.5,275.0 556.5,275.1 557.5,275.2 558.5,275.3 559.5,275.4 560.5,275.6 561.5,275.8 562.5,276.1 563.5,276.3 564.5,276.6 565.5,276.9 566.5,277.3 567.5,277.6 568.5,277.9 569.5,278.3 570.5,278.6 571.5,278.9 572.5,279.3 573.5,279.6 574.5,279.9 575.5,280.2 576.5,280.5 577.5,280.8 578.5,281.2 579.5,281.5 580.5,281.8 581.5,282.1 582.5,282.4 583.5,282.7 584.5,283.0 585.5,283.3 586.5,283.5 587.5,283.8 588.5,284.1 589.5,284.3 590.5,284.5 591.5,284.8 592.5,285.0 593.5,285.2 594.5,285.3 595.5,285.5 596.5,285.7 597.5,285.9 598.5,286.0 599.5,286.2 600.5,286.4 601.5,286.5 602.5,286.7 603.5,286.8 604.5,287.0 605.5,287.1 606.5,287.3 607.5,287.4 608.5,287.6 609.5,287.7 610.5,287.8 611.5,287.9 612.5,288.0 613.5,288.0 614.5,288.1 615.5,288.2 616.5,288.2 617.5,288.3 618.5,288.3 619.5,288.3 620.5,288.3 621.5,288.3 622.5,288.4 623.5,288.4 624.5,288.4 625.5,288.5 626.5,288.6 627.5,288.7 628.5,288.8 629.5,288.9 630.5,289.0 631.5,289.1 632.5,289.2 633.5,289.3 634.5,289.4 635.5,289.5 636.5,289.6 637.5,289.6 638.5,289.7 639.5,289.8 640.5,289.9 641.5,290.0 642.5,290.1 643.5,290.2 644.5,290.3 645.5,290.4 646.5,290.5 647.5,290.6 648.5,290.7 649.5,290.8 650.5,290.9 651.5,291.0 652.5,291.0 653.5,291.1 654.5,291.2 655.5,291.2 656.5,291.3 657.5,291.3 658.5,291.4 659.5,291.5 660.5,291.5 661.5,291.6 662.5,291.6 663.5,291.7 664.5,291.8 665.5,291.8 666.5,291.9 667.5,291.9 668.5,292.0 669.5,292.1 670.5,292.2 671.5,292.2 672.5,292.3 673.5,292.4 674.5,292.5 675.5,292.6 676.5,292.6 677.5,292.7 678.5,292.8 679.5,292.9 680.5,293.0 681.5,293.0 682.5,293.1 683.5,293.2 684.5,293.2 685.5,293.3 686.5,293.3 687.5,293.4 688.5,293.4 689.5,293.4 690.5,293.5 691.5,293.5 692.5,293.5 693.5,293.5 694.5,293.6 695.5,293.6 696.5,293.6 697.5,293.6 698.5,293.6 L698.5,326.6 697.5,326.5 696.5,326.4 695.5,326.3 694.5,326.2 693.5,326.1 692.5,326.0 691.5,325.9 690.5,325.8 689.5,325.7 688.5,325.6 687.5,325.5 686.5,325.3 685.5,325.2 684.5,325.1 683.5,324.9 682.5,324.8 681.5,324.6 680.5,324.5 679.5,324.3 678.5,324.1 677.5,324.0 676.5,323.8 675.5,323.7 674.5,323.5 673.5,323.3 672.5,323.2 671.5,323.0 670.5,322.8 669.5,322.7 668.5,322.5 667.5,322.4 666.5,322.2 665.5,322.1 664.5,322.0 663.5,321.8 662.5,321.7 661.5,321.5 660.5,321.4 659.5,321.2 658.5,321.1 657.5,321.0 656.5,320.8 655.5,320.7 654.5,320.5 653.5,320.4 652.5,320.3 651.5,320.1 650.5,320.0 649.5,319.8 648.5,319.7 647.5,319.6 646.5,319.5 645.5,319.3 644.5,319.2 643.5,319.1 642.5,319.0 641.5,318.8 640.5,318.7 639.5,318.6 638.5,318.5 637.5,318.4 636.5,318.3 635.5,318.2 634.5,318.1 633.5,318.0 632.5,317.8 631.5,317.7 630.5,317.6 629.5,317.5 628.5,317.4 627.5,317.3 626.5,317.2 625.5,317.0 624.5,316.9 623.5,316.8 622.5,316.6 621.5,316.5 620.5,316.3 619.5,316.1 618.5,316.0 617.5,315.8 616.5,315.6 615.5,315.4 614.5,315.2 613.5,315.0 612.5,314.8 611.5,314.5 610.5,314.3 609.5,314.1 608.5,313.8 607.5,313.5 606.5,313.2 605.5,312.9 604.5,312.6 603.5,312.3 602.5,312.0 601.5,311.7 600.5,311.4 599.5,311.1 598.5,310.7 597.5,310.3 596.5,309.9 595.5,309.5 594.5,309.1 593.5,308.7 592.5,308.3 591.5,307.9 590.5,307.5 589.5,307.0 588.5,306.6 587.5,306.1 586.5,305.6 585.5,305.1 584.5,304.6 583.5,304.1 582.5,303.6 581.5,303.1 580.5,302.5 579.5,302.0 578.5,301.5 577.5,300.9 576.5,300.4 575.5,299.9 574.5,299.3 573.5,298.8 572.5,298.3 571.5,297.7 570.5,297.2 569.5,296.6 568.5,296.1 567.5,295.5 566.5,295.0 565.5,294.4 564.5,293.9 563.5,293.4 562.5,292.9 561.5,292.4 560.5,292.1 559.5,291.8 558.5,291.5 557.5,291.3 556.5,291.1 555.5,291.0 554.5,290.8 553.5,290.7 552.5,290.6 551.5,290.5 550.5,290.5 549.5,290.4 548.5,290.4 547.5,290.3 546.5,290.3 545.5,290.3 544.5,290.3 543.5,290.3 542.5,290.2 541.5,290.2 540.5,290.2 539.5,290.2 538.5,290.2 537.5,290.2 536.5,290.2 535.5,290.1 534.5,290.1 533.5,290.0 532.5,290.0 531.5,290.0 530.5,289.9 529.5,289.8 528.5,289.8 527.5,289.7 526.5,289.7 525.5,289.6 524.5,289.5 523.5,289.5 522.5,289.4 Z" fill="#000000" fill-opacity="0.270" stroke="none"/>
<path d="M522.5,278.4 523.5,278.4 524.5,278.4 525.5,278.4 526.5,278.4 527.5,278.4 528.5,278.4 529.5,278.3 530.5,278.3 531.5,278.3 532.5,278.3 533.5,278.2 534.5,278.2 535.5,278.1 536.5,278.1 537.5,278.0 538.5,277.9 539.5,277.9 540.5,277.8 541.5,277.7 542.5,277.6 543.5,277.5 544.5,277.4 545.5,277.3 546.5,277.2 547.5,277.1 548.5,277.0 549.5,277.0 550.5,276.9 551.5,276.9 552.5,276.8 553.5,276.8 554.5,276.8 555.5,276.8 556.5,276.8 557.5,276.9 558.5,277.0 559.5,277.1 560.5,277.3 561.5,277.5 562.5,277.8 563.5,278.1 564.5,278.4 565.5,278.8 566.5,279.2 567.5,279.5 568.5,279.9 569.5,280.3 570.5,280.7 571.5,281.0 572.5,281.4 573.5,281.7 574.5,282.1 575.5,282.4 576.5,282.7 577.5,283.1 578.5,283.4 579.5,283.7 580.5,284.0 581.5,284.3 582.5,284.6 583.5,284.9 584.5,285.2 585.5,285.4 586.5,285.7 587.5,285.9 588.5,286.1 589.5,286.3 590.5,286.4 591.5,286.6 592.5,286.7 593.5,286.8 594.5,286.9 595.5,286.9 596.5,287.0 597.5,287.0 598.5,287.0 599.5,287.1 600.5,287.1 601.5,287.2 602.5,287.3 603.5,287.4 604.5,287.5 605.5,287.6 606.5,287.8 607.5,287.9 608.5,288.0 609.5,288.2 610.5,288.3 611.5,288.4 612.5,288.6 613.5,288.7 614.5,288.9 615.5,289.1 616.5,289.2 617.5,289.4 618.5,289.6 619.5,289.8 620.5,290.0 621.5,290.2 622.5,290.4 623.5,290.6 624.5,290.8 625.5,291.0 626.5,291.3 627.5,291.5 628.5,291.7 629.5,292.0 630.5,292.2 631.5,292.4 632.5,292.7 633.5,292.9 634.5,293.1 635.5,293.3 636.5,293.5 637.5,293.7 638.5,293.9 639.5,294.1 640.5,294.2 641.5,294.3 642.5,294.4 643.5,294.6 644.5,294.6 645.5,294.7 646.5,294.8 647.5,294.9 648.5,294.9 649.5,295.0 650.5,295.0 651.5,295.1 652.5,295.1 653.5,295.2 654.5,295.2 655.5,295.3 656.5,295.3 657.5,295.3 658.5,295.4 659.5,295.4 660.5,295.4 661.5,295.5 662.5,295.5 663.5,295.6 664.5,295.6 665.5,295.6 666.5,295.7 667.5,295.7 668.5,295.7 669.5,295.8 670.5,295.8 671.5,295.8 672.5,295.9 673.5,295.9 674.5,296.0 675.5,296.0 676.5,296.0 677.5,296.1 678.5,296.1 679.5,296.1 680.5,296.2 681.5,296.2 682.5,296.2 683.5,296.2 684.5,296.3 685.5,296.3 686.5,296.3 687.5,296.3 688.5,296.3 689.5,296.3 690.5,296.3 691.5,296.2 692.5,296.2 693.5,296.2 694.5,296.2 695.5,296.2 696.5,296.1 697.5,296.1 698.5,296.1 L698.5,314.3 697.5,314.3 696.5,314.3 695.5,314.3 694.5,314.3 693.5,314.3 692.5,314.3 691.5,314.3 690.5,314.3 689.5,314.3 688.5,314.3 687.5,314.3 686.5,314.3 685.5,314.3 684.5,314.3 683.5,314.2 682.5,314.2 681.5,314.2 680.5,314.1 679.5,314.1 678.5,314.0 677.5,314.0 676.5,313.9 675.5,313.9 674.5,313.8 673.5,313.8 672.5,313.7 671.5,313.7 670.5,313.6 669.5,313.5 668.5,313.5 667.5,313.4 666.5,313.4 665.5,313.3 664.5,313.3 663.5,313.2 662.5,313.2 661.5,313.1 660.5,313.1 659.5,313.0 658.5,313.0 657.5,312.9 656.5,312.9 655.5,312.8 654.5,312.8 653.5,312.7 652.5,312.7 651.5,312.6 650.5,312.5 649.5,312.4 648.5,312.4 647.5,312.2 646.5,312.1 645.5,312.0 644.5,311.9 643.5,311.7 642.5,311.6 641.5,311.4 640.5,311.2 639.5,311.0 638.5,310.8 637.5,310.6 636.5,310.4 635.5,310.1 634.5,309.8 633.5,309.6 632.5,309.3 631.5,309.0 630.5,308.7 629.5,308.4 628.5,308.2 627.5,307.9 626.5,307.6 625.5,307.3 624.5,307.0 623.5,306.8 622.5,306.5 621.5,306.2 620.5,306.0 619.5,305.7 618.5,305.5 617.5,305.3 616.5,305.0 615.5,304.8 614.5,304.6 613.5,304.4 612.5,304.2 611.5,304.0 610.5,303.8 609.5,303.6 608.5,303.4 607.5,303.3 606.5,303.1 605.5,302.9 604.5,302.8 603.5,302.6 602.5,302.4 601.5,302.3 600.5,302.2 599.5,302.0 598.5,301.9 597.5,301.7 596.5,301.6 595.5,301.4 594.5,301.2 593.5,301.0 592.5,300.8 591.5,300.6 590.5,300.4 589.5,300.1 588.5,299.8 587.5,299.5 586.5,299.1 585.5,298.8 584.5,298.4 583.5,298.0 582.5,297.6 581.5,297.2 580.5,296.8 579.5,296.4 578.5,295.9 577.5,295.5 576.5,295.0 575.5,294.6 574.5,294.1 573.5,293.7 572.5,293.2 571.5,292.7 570.5,292.3 569.5,291.8 568.5,291.3 567.5,290.8 566.5,290.3 565.5,289.8 564.5,289.3 563.5,288.9 562.5,288.5 561.5,288.1 560.5,287.8 559.5,287.6 558.5,287.4 557.5,287.3 556.5,287.2 555.5,287.1 554.5,287.1 553.5,287.1 552.5,287.1 551.5,287.1 550.5,287.1 549.5,287.2 548.5,287.2 547.5,287.3 546.5,287.3 545.5,287.4 544.5,287.5 543.5,287.5 542.5,287.6 541.5,287.7 540.5,287.7 539.5,287.8 538.5,287.9 537.5,287.9 536.5,287.9 535.5,288.0 534.5,288.0 533.5,288.0 532.5,288.0 531.5,288.0 530.5,288.0 529.5,288.0 528.5,288.0 527.5,288.0 526.5,288.0 525.5,288.0 524.5,287.9 523.5,287.9 522.5,287.9 Z" fill="#00a000" fill-opacity="0.300" stroke="none"/>
<line x1="568.00" y1="350.00" x2="568.00" y2="218.50" stroke="#1a1a1a" stroke-width="1.7" stroke-dasharray="4.6,4.35"/>
<path d="M522.5,285.8 523.5,285.8 524.5,285.7 525.5,285.7 526.5,285.6 527.5,285.6 528.5,285.5 529.5,285.5 530.5,285.4 531.5,285.4 532.5,285.3 533.5,285.3 534.5,285.2 535.5,285.1 536.5,285.1 537.5,285.0 538.5,284.9 539.5,284.9 540.5,284.8 541.5,284.7 542.5,284.7 543.5,284.6 544.5,284.5 545.5,284.5 546.5,284.5 547.5,284.4 548.5,284.4 549.5,284.5 550.5,284.5 551.5,284.5 552.5,284.6 553.5,284.7 554.5,284.8 555.5,285.0 556.5,285.2 557.5,285.4 558.5,285.7 559.5,286.0 560.5,286.4 561.5,286.9 562.5,287.4 563.5,287.9 564.5,288.5 565.5,289.1 566.5,289.7 567.5,290.4 568.5,291.0 569.5,291.6 570.5,292.2 571.5,292.7 572.5,293.3 573.5,293.8 574.5,294.2 575.5,294.7 576.5,295.1 577.5,295.5 578.5,295.9 579.5,296.2 580.5,296.5 581.5,296.8 582.5,297.0 583.5,297.3 584.5,297.5 585.5,297.7 586.5,297.9 587.5,298.1 588.5,298.3 589.5,298.4 590.5,298.5 591.5,298.7 592.5,298.8 593.5,298.9 594.5,299.0 595.5,299.0 596.5,299.1 597.5,299.1 598.5,299.1 599.5,299.1 600.5,299.1 601.5,299.0 602.5,298.9 603.5,298.8 604.5,298.8 605.5,298.7 606.5,298.6 607.5,298.6 608.5,298.7 609.5,298.7 610.5,298.8 611.5,298.9 612.5,299.1 613.5,299.3 614.5,299.5 615.5,299.7 616.5,299.9 617.5,300.2 618.5,300.4 619.5,300.7 620.5,300.9 621.5,301.2 622.5,301.4 623.5,301.7 624.5,301.9 625.5,302.1 626.5,302.3 627.5,302.5 628.5,302.7 629.5,302.8 630.5,303.0 631.5,303.1 632.5,303.3 633.5,303.4 634.5,303.5 635.5,303.7 636.5,303.8 637.5,303.9 638.5,304.0 639.5,304.1 640.5,304.2 641.5,304.4 642.5,304.5 643.5,304.6 644.5,304.7 645.5,304.8 646.5,304.9 647.5,305.0 648.5,305.1 649.5,305.2 650.5,305.3 651.5,305.3 652.5,305.4 653.5,305.5 654.5,305.6 655.5,305.6 656.5,305.7 657.5,305.8 658.5,305.8 659.5,305.9 660.5,305.9 661.5,306.0 662.5,306.0 663.5,306.1 664.5,306.1 665.5,306.2 666.5,306.2 667.5,306.2 668.5,306.3 669.5,306.3 670.5,306.4 671.5,306.5 672.5,306.5 673.5,306.6 674.5,306.6 675.5,306.7 676.5,306.8 677.5,306.8 678.5,306.9 679.5,307.0 680.5,307.0 681.5,307.1 682.5,307.1 683.5,307.1 684.5,307.2 685.5,307.2 686.5,307.2 687.5,307.2 688.5,307.2 689.5,307.2 690.5,307.2 691.5,307.2 692.5,307.1 693.5,307.1 694.5,307.1 695.5,307.0 696.5,307.0 697.5,306.9 698.5,306.9" fill="none" stroke="#e8200c" stroke-width="2.00" stroke-linejoin="round"/>
<path d="M522.5,283.4 523.5,283.4 524.5,283.4 525.5,283.4 526.5,283.5 527.5,283.5 528.5,283.5 529.5,283.5 530.5,283.5 531.5,283.5 532.5,283.5 533.5,283.5 534.5,283.5 535.5,283.4 536.5,283.4 537.5,283.4 538.5,283.4 539.5,283.3 540.5,283.3 541.5,283.2 542.5,283.2 543.5,283.2 544.5,283.1 545.5,283.1 546.5,283.1 547.5,283.0 548.5,283.0 549.5,283.0 550.5,283.0 551.5,283.0 552.5,283.1 553.5,283.1 554.5,283.2 555.5,283.3 556.5,283.4 557.5,283.5 558.5,283.7 559.5,283.9 560.5,284.1 561.5,284.4 562.5,284.7 563.5,285.0 564.5,285.4 565.5,285.8 566.5,286.2 567.5,286.7 568.5,287.1 569.5,287.5 570.5,288.0 571.5,288.4 572.5,288.8 573.5,289.2 574.5,289.6 575.5,290.0 576.5,290.4 577.5,290.8 578.5,291.2 579.5,291.6 580.5,292.0 581.5,292.4 582.5,292.8 583.5,293.2 584.5,293.6 585.5,294.0 586.5,294.3 587.5,294.7 588.5,295.0 589.5,295.4 590.5,295.7 591.5,296.0 592.5,296.3 593.5,296.6 594.5,296.9 595.5,297.1 596.5,297.4 597.5,297.6 598.5,297.9 599.5,298.2 600.5,298.4 601.5,298.7 602.5,299.0 603.5,299.3 604.5,299.5 605.5,299.8 606.5,300.1 607.5,300.4 608.5,300.6 609.5,300.9 610.5,301.1 611.5,301.3 612.5,301.5 613.5,301.7 614.5,301.9 615.5,302.1 616.5,302.3 617.5,302.4 618.5,302.6 619.5,302.8 620.5,302.9 621.5,303.0 622.5,303.2 623.5,303.3 624.5,303.4 625.5,303.5 626.5,303.6 627.5,303.7 628.5,303.8 629.5,303.9 630.5,304.0 631.5,304.1 632.5,304.2 633.5,304.3 634.5,304.4 635.5,304.5 636.5,304.6 637.5,304.6 638.5,304.7 639.5,304.8 640.5,304.9 641.5,305.0 642.5,305.1 643.5,305.2 644.5,305.3 645.5,305.4 646.5,305.5 647.5,305.6 648.5,305.7 649.5,305.8 650.5,305.9 651.5,306.0 652.5,306.2 653.5,306.3 654.5,306.4 655.5,306.5 656.5,306.6 657.5,306.7 658.5,306.8 659.5,306.9 660.5,307.0 661.5,307.1 662.5,307.2 663.5,307.3 664.5,307.4 665.5,307.5 666.5,307.6 667.5,307.7 668.5,307.8 669.5,307.9 670.5,308.0 671.5,308.1 672.5,308.2 673.5,308.4 674.5,308.5 675.5,308.6 676.5,308.7 677.5,308.9 678.5,309.0 679.5,309.1 680.5,309.2 681.5,309.3 682.5,309.4 683.5,309.5 684.5,309.6 685.5,309.7 686.5,309.8 687.5,309.9 688.5,310.0 689.5,310.1 690.5,310.1 691.5,310.2 692.5,310.3 693.5,310.3 694.5,310.4 695.5,310.4 696.5,310.5 697.5,310.5 698.5,310.6" fill="none" stroke="#000000" stroke-width="2.20" stroke-linejoin="round"/>
<path d="M522.5,281.9 523.5,281.9 524.5,281.9 525.5,282.0 526.5,282.0 527.5,282.0 528.5,282.0 529.5,282.0 530.5,282.0 531.5,282.0 532.5,282.0 533.5,282.0 534.5,282.0 535.5,282.0 536.5,281.9 537.5,281.9 538.5,281.9 539.5,281.8 540.5,281.7 541.5,281.7 542.5,281.6 543.5,281.5 544.5,281.5 545.5,281.4 546.5,281.3 547.5,281.3 548.5,281.2 549.5,281.2 550.5,281.1 551.5,281.1 552.5,281.1 553.5,281.1 554.5,281.1 555.5,281.1 556.5,281.2 557.5,281.3 558.5,281.4 559.5,281.6 560.5,281.8 561.5,282.1 562.5,282.4 563.5,282.7 564.5,283.1 565.5,283.5 566.5,283.9 567.5,284.4 568.5,284.8 569.5,285.2 570.5,285.6 571.5,286.1 572.5,286.5 573.5,286.9 574.5,287.3 575.5,287.6 576.5,288.0 577.5,288.4 578.5,288.8 579.5,289.2 580.5,289.5 581.5,289.9 582.5,290.2 583.5,290.6 584.5,290.9 585.5,291.2 586.5,291.5 587.5,291.8 588.5,292.0 589.5,292.3 590.5,292.5 591.5,292.6 592.5,292.8 593.5,293.0 594.5,293.1 595.5,293.2 596.5,293.3 597.5,293.4 598.5,293.5 599.5,293.6 600.5,293.7 601.5,293.8 602.5,293.9 603.5,294.0 604.5,294.2 605.5,294.3 606.5,294.5 607.5,294.6 608.5,294.8 609.5,294.9 610.5,295.1 611.5,295.3 612.5,295.5 613.5,295.6 614.5,295.8 615.5,296.0 616.5,296.2 617.5,296.4 618.5,296.6 619.5,296.8 620.5,297.1 621.5,297.3 622.5,297.5 623.5,297.8 624.5,298.0 625.5,298.3 626.5,298.6 627.5,298.8 628.5,299.1 629.5,299.4 630.5,299.6 631.5,299.9 632.5,300.1 633.5,300.4 634.5,300.7 635.5,300.9 636.5,301.1 637.5,301.3 638.5,301.5 639.5,301.7 640.5,301.9 641.5,302.1 642.5,302.2 643.5,302.4 644.5,302.5 645.5,302.6 646.5,302.7 647.5,302.8 648.5,302.9 649.5,303.0 650.5,303.0 651.5,303.1 652.5,303.2 653.5,303.2 654.5,303.3 655.5,303.3 656.5,303.4 657.5,303.4 658.5,303.5 659.5,303.5 660.5,303.6 661.5,303.6 662.5,303.7 663.5,303.7 664.5,303.8 665.5,303.8 666.5,303.9 667.5,303.9 668.5,304.0 669.5,304.0 670.5,304.1 671.5,304.2 672.5,304.2 673.5,304.3 674.5,304.3 675.5,304.4 676.5,304.4 677.5,304.5 678.5,304.5 679.5,304.6 680.5,304.6 681.5,304.7 682.5,304.7 683.5,304.7 684.5,304.8 685.5,304.8 686.5,304.8 687.5,304.8 688.5,304.8 689.5,304.8 690.5,304.8 691.5,304.8 692.5,304.8 693.5,304.8 694.5,304.8 695.5,304.8 696.5,304.8 697.5,304.8 698.5,304.8" fill="none" stroke="#18a818" stroke-width="2.40" stroke-linejoin="round"/>
</g>
<path d="M522.50,218.50 H698.50 V350.50 H522.50 Z" fill="none" stroke="#6a6a6a" stroke-width="1.1"/>
<path d="M522.50,350.50 v2.0 M522.50,218.50 v-2.0 M540.10,350.50 v1.3 M540.10,218.50 v-1.3 M557.70,350.50 v1.3 M557.70,218.50 v-1.3 M575.30,350.50 v1.3 M575.30,218.50 v-1.3 M592.90,350.50 v1.3 M592.90,218.50 v-1.3 M610.50,350.50 v2.0 M610.50,218.50 v-2.0 M628.10,350.50 v1.3 M628.10,218.50 v-1.3 M645.70,350.50 v1.3 M645.70,218.50 v-1.3 M663.30,350.50 v1.3 M663.30,218.50 v-1.3 M680.90,350.50 v1.3 M680.90,218.50 v-1.3 M698.50,350.50 v2.0 M698.50,218.50 v-2.0 M522.50,349.08 h-1.3 M698.50,349.08 h1.3 M522.50,341.61 h-1.3 M698.50,341.61 h1.3 M522.50,334.14 h-1.3 M698.50,334.14 h1.3 M522.50,326.67 h-1.3 M698.50,326.67 h1.3 M522.50,319.20 h-2.0 M698.50,319.20 h2.0 M522.50,311.73 h-1.3 M698.50,311.73 h1.3 M522.50,304.26 h-1.3 M698.50,304.26 h1.3 M522.50,296.79 h-1.3 M698.50,296.79 h1.3 M522.50,289.32 h-1.3 M698.50,289.32 h1.3 M522.50,281.85 h-2.0 M698.50,281.85 h2.0 M522.50,274.38 h-1.3 M698.50,274.38 h1.3 M522.50,266.91 h-1.3 M698.50,266.91 h1.3 M522.50,259.44 h-1.3 M698.50,259.44 h1.3 M522.50,251.97 h-1.3 M698.50,251.97 h1.3 M522.50,244.50 h-2.0 M698.50,244.50 h2.0 M522.50,237.03 h-1.3 M698.50,237.03 h1.3 M522.50,229.56 h-1.3 M698.50,229.56 h1.3 M522.50,222.09 h-1.3 M698.50,222.09 h1.3" stroke="#6a6a6a" stroke-width="1" fill="none"/>
<text x="522.50" y="366.60" text-anchor="middle" font-size="12.5">0</text>
<text x="610.50" y="366.60" text-anchor="middle" font-size="12.5">50</text>
<text x="698.50" y="366.60" text-anchor="middle" font-size="12.5">100</text>
<text x="517.50" y="249.10" text-anchor="end" font-size="12.5">0.5</text>
<text x="517.50" y="286.45" text-anchor="end" font-size="12.5">0</text>
<text x="517.50" y="323.80" text-anchor="end" font-size="12.5">-0.5</text>
<text x="518.50" y="381.40" font-size="14" textLength="61.20" lengthAdjust="spacingAndGlyphs">percentage</text>
<text x="583.80" y="381.40" font-size="14" textLength="11.90" lengthAdjust="spacingAndGlyphs">of</text>
<text x="598.00" y="381.40" font-size="14" textLength="25.70" lengthAdjust="spacingAndGlyphs">STS</text>
<text x="628.60" y="381.40" font-size="14" textLength="57.60" lengthAdjust="spacingAndGlyphs">movement</text>
<text x="691.90" y="381.40" font-size="14" textLength="10.30" lengthAdjust="spacingAndGlyphs">[-]</text>
<text x="568.20" y="207.90" font-size="14" textLength="81.70" lengthAdjust="spacingAndGlyphs">ankle moment</text>
<text x="481.90" y="210.40" font-size="26" font-weight="bold">f</text>
<text transform="translate(491.30,350.90) rotate(-90)" x="0" y="0" font-size="14" textLength="133.20" lengthAdjust="spacingAndGlyphs">Ankle Moment[Nm/kg]</text>
<rect x="611.50" y="218.50" width="87.00" height="46.00" fill="#fff" stroke="#6a6a6a" stroke-width="1.1"/>
<line x1="613.2" y1="224.80" x2="629.8" y2="224.80" stroke="#e8200c" stroke-width="1.8"/>
<text x="631.8" y="226.70" font-size="10" textLength="62.60" lengthAdjust="spacingAndGlyphs" fill="#333">transparent (T)</text>
<line x1="613.2" y1="236.03" x2="629.8" y2="236.03" stroke="#000" stroke-width="1.8"/>
<text x="631.8" y="237.93" font-size="10" textLength="44.40" lengthAdjust="spacingAndGlyphs" fill="#333">passive (P)</text>
<line x1="613.2" y1="247.26" x2="629.8" y2="247.26" stroke="#12b012" stroke-width="1.8"/>
<text x="631.8" y="249.16" font-size="10" textLength="65.00" lengthAdjust="spacingAndGlyphs" fill="#333">without exo (N)</text>
<line x1="613.5" y1="258.49" x2="627.2" y2="258.49" stroke="#000" stroke-width="1.5" stroke-dasharray="4.3,5.0"/>
<text x="631.8" y="260.39" font-size="10" textLength="29.20" lengthAdjust="spacingAndGlyphs" fill="#333">seat-off</text>
</svg>
</body></html>
